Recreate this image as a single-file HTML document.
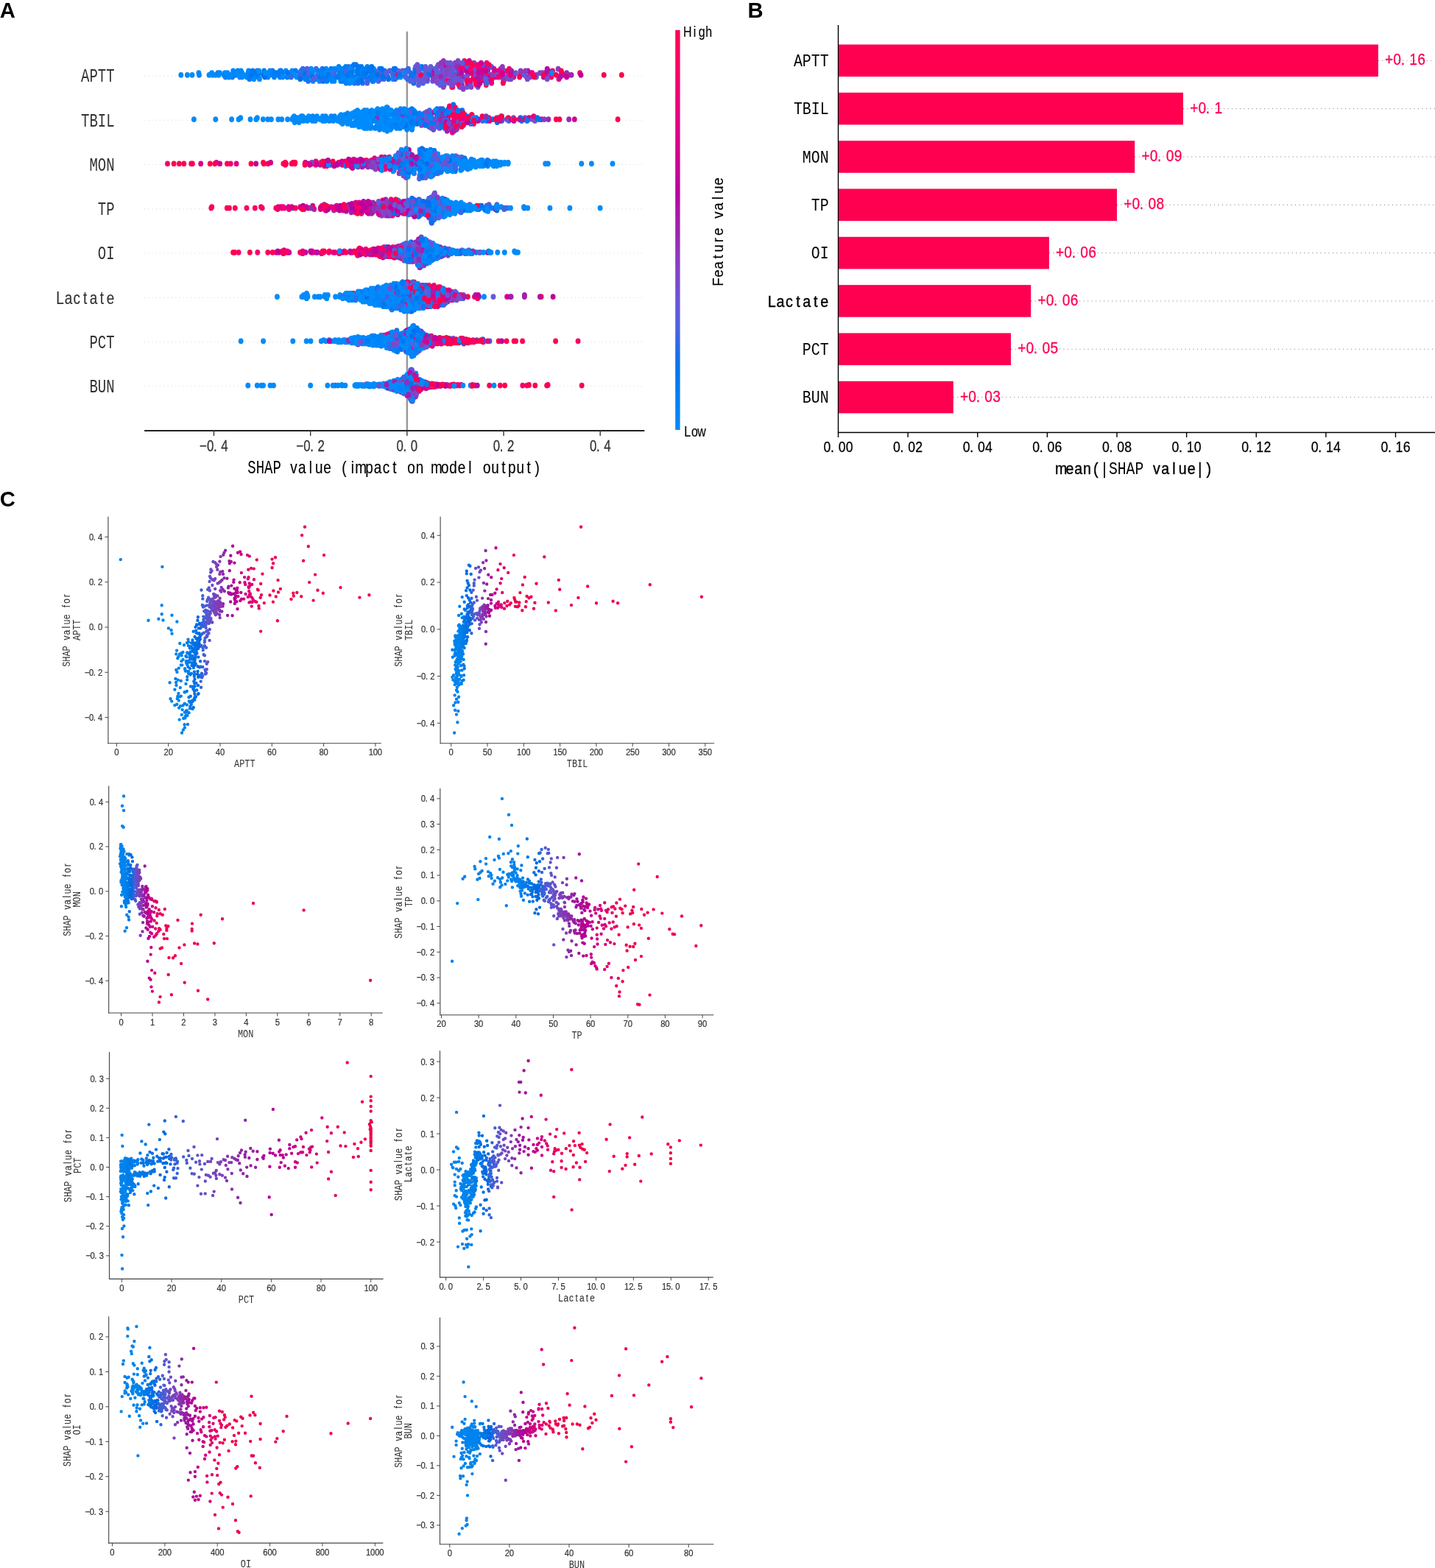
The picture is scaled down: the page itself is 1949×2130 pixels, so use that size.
<!DOCTYPE html>
<html lang="en"><head><meta charset="utf-8"><title>SHAP summary, importance and dependence plots</title>
<style>
html,body{margin:0;padding:0;background:#fff}
svg{display:block}
text{font-family:"Liberation Mono","Liberation Sans",monospace}
text.n{font-family:"Liberation Sans",Arial,sans-serif;text-anchor:middle}
text.pl{font-family:"Liberation Sans",Arial,sans-serif;font-weight:bold;font-size:29.2px;fill:#000}
path{stroke-linecap:butt}
.d path{stroke-linecap:round;fill:none}
</style></head><body>
<svg width="1949" height="2130" viewBox="0 0 1949 2130">
<rect width="1949" height="2130" fill="#fff"/>
<text class="pl" x="-0.3" y="24.2">A</text>
<text class="pl" x="1015.6" y="24.2">B</text>
<path d="M196.10 103.00L875.40 103.00" stroke="#cccccc" stroke-width="0.95" fill="none" stroke-dasharray="0.88 4.39"/>
<g transform="translate(155.60 111.40)" fill="#333"><text transform="translate(-45.60 0) scale(0.7420 1)" font-size="25.61">APTT</text></g>
<path d="M196.10 163.25L875.40 163.25" stroke="#cccccc" stroke-width="0.95" fill="none" stroke-dasharray="0.88 4.39"/>
<g transform="translate(155.60 171.65)" fill="#333"><text transform="translate(-45.60 0) scale(0.7420 1)" font-size="25.61">TBIL</text></g>
<path d="M196.10 223.50L875.40 223.50" stroke="#cccccc" stroke-width="0.95" fill="none" stroke-dasharray="0.88 4.39"/>
<g transform="translate(155.60 231.90)" fill="#333"><text transform="translate(-34.20 0) scale(0.7420 1)" font-size="25.61">MON</text></g>
<path d="M196.10 283.75L875.40 283.75" stroke="#cccccc" stroke-width="0.95" fill="none" stroke-dasharray="0.88 4.39"/>
<g transform="translate(155.60 292.15)" fill="#333"><text transform="translate(-22.80 0) scale(0.7420 1)" font-size="25.61">TP</text></g>
<path d="M196.10 344.00L875.40 344.00" stroke="#cccccc" stroke-width="0.95" fill="none" stroke-dasharray="0.88 4.39"/>
<g transform="translate(155.60 352.40)" fill="#333"><text transform="translate(-22.80 0) scale(0.7420 1)" font-size="25.61">OI</text></g>
<path d="M196.10 404.25L875.40 404.25" stroke="#cccccc" stroke-width="0.95" fill="none" stroke-dasharray="0.88 4.39"/>
<g transform="translate(155.60 412.65)" fill="#333"><text class="n" transform="scale(0.8000 1)" font-size="23.60" x="-92.63 -78.38 -64.13 -49.88 -35.63 -21.38 -7.13" stroke="#333" stroke-width="0.19">Lactate</text></g>
<path d="M196.10 464.50L875.40 464.50" stroke="#cccccc" stroke-width="0.95" fill="none" stroke-dasharray="0.88 4.39"/>
<g transform="translate(155.60 472.90)" fill="#333"><text transform="translate(-34.20 0) scale(0.7420 1)" font-size="25.61">PCT</text></g>
<path d="M196.10 524.75L875.40 524.75" stroke="#cccccc" stroke-width="0.95" fill="none" stroke-dasharray="0.88 4.39"/>
<g transform="translate(155.60 533.15)" fill="#333"><text transform="translate(-34.20 0) scale(0.7420 1)" font-size="25.61">BUN</text></g>
<path d="M552.85 42.80L552.85 585.10" stroke="#999999" stroke-width="2.50" fill="none"/>
<path d="M196.10 585.10L875.40 585.10" stroke="#000" stroke-width="1.60" fill="none"/>
<path d="M290.49 585.10L290.49 592.10" stroke="#333" stroke-width="1.40" fill="none"/>
<text class="n" transform="translate(290.49 613.30) scale(0.7849 1)" font-size="21.45" x="-18.44 -6.15 2.46 18.44" fill="#333" stroke="#333" stroke-width="0.30">−0.4</text>
<path d="M421.67 585.10L421.67 592.10" stroke="#333" stroke-width="1.40" fill="none"/>
<text class="n" transform="translate(421.67 613.30) scale(0.7849 1)" font-size="21.45" x="-18.44 -6.15 2.46 18.44" fill="#333" stroke="#333" stroke-width="0.30">−0.2</text>
<path d="M552.85 585.10L552.85 592.10" stroke="#333" stroke-width="1.40" fill="none"/>
<text class="n" transform="translate(552.85 613.30) scale(0.7849 1)" font-size="21.45" x="-12.29 -3.69 12.29" fill="#333" stroke="#333" stroke-width="0.30">0.0</text>
<path d="M684.03 585.10L684.03 592.10" stroke="#333" stroke-width="1.40" fill="none"/>
<text class="n" transform="translate(684.03 613.30) scale(0.7849 1)" font-size="21.45" x="-12.29 -3.69 12.29" fill="#333" stroke="#333" stroke-width="0.30">0.2</text>
<path d="M815.21 585.10L815.21 592.10" stroke="#333" stroke-width="1.40" fill="none"/>
<text class="n" transform="translate(815.21 613.30) scale(0.7849 1)" font-size="21.45" x="-12.29 -3.69 12.29" fill="#333" stroke="#333" stroke-width="0.30">0.4</text>
<g transform="translate(535.75 643.20)" fill="#000"><text transform="translate(-199.50 0) scale(0.7420 1)" font-size="25.61">SHAP</text><text class="n" transform="scale(0.8000 1)" font-size="23.60" x="-171.01 -156.76 -142.51 -128.25 -114.00" stroke="#000" stroke-width="0.19">value</text><text class="n" transform="scale(0.8000 1)" font-size="23.60" x="-85.50 -71.25 -57.00 -42.75 -28.50 -14.25 0.00" stroke="#000" stroke-width="0.19">(impact</text><text class="n" transform="scale(0.8000 1)" font-size="23.60" x="28.50 42.75" stroke="#000" stroke-width="0.19">on</text><text class="n" transform="scale(0.8000 1)" font-size="23.60" x="71.25 85.50 99.75 114.00 128.25" stroke="#000" stroke-width="0.19">model</text><text class="n" transform="scale(0.8000 1)" font-size="23.60" x="156.76 171.01 185.26 199.51 213.76 228.01 242.26" stroke="#000" stroke-width="0.19">output)</text></g>
<defs><linearGradient id="cb" x1="0" y1="1" x2="0" y2="0"><stop offset="0.000" stop-color="#008bfb"/><stop offset="0.050" stop-color="#0084f9"/><stop offset="0.100" stop-color="#007cf5"/><stop offset="0.150" stop-color="#0075f0"/><stop offset="0.200" stop-color="#246cea"/><stop offset="0.250" stop-color="#4b63e3"/><stop offset="0.300" stop-color="#635adb"/><stop offset="0.350" stop-color="#754fd1"/><stop offset="0.400" stop-color="#8443c6"/><stop offset="0.450" stop-color="#9135ba"/><stop offset="0.500" stop-color="#9b24ad"/><stop offset="0.550" stop-color="#ac16a7"/><stop offset="0.600" stop-color="#bb00a0"/><stop offset="0.650" stop-color="#c90098"/><stop offset="0.700" stop-color="#d5008f"/><stop offset="0.750" stop-color="#e00086"/><stop offset="0.800" stop-color="#e9007c"/><stop offset="0.850" stop-color="#f20072"/><stop offset="0.900" stop-color="#f90067"/><stop offset="0.950" stop-color="#fe005c"/><stop offset="1.000" stop-color="#ff0051"/></linearGradient></defs>
<rect x="917.2" y="40.8" width="6.4" height="543.2" fill="url(#cb)"/>
<g transform="translate(929.00 49.70)" fill="#000"><text class="n" transform="scale(0.8059 1)" font-size="19.83" x="5.99 17.96 29.93 41.91" stroke="#000" stroke-width="0.16">High</text></g>
<g transform="translate(929.00 592.90)" fill="#000"><text class="n" transform="scale(0.8059 1)" font-size="19.83" x="5.99 17.96 29.93" stroke="#000" stroke-width="0.16">Low</text></g>
<g transform="translate(982.30 314.70) rotate(-90)" fill="#000"><text class="n" transform="scale(0.9364 1)" font-size="20.11" x="-72.85 -60.71 -48.57 -36.43 -24.28 -12.14 0.00" stroke="#000" stroke-width="0.16">Feature</text><text class="n" transform="scale(0.9364 1)" font-size="20.11" x="24.28 36.43 48.57 60.71 72.85" stroke="#000" stroke-width="0.16">value</text></g>
<path d="M1871.90 82.30L1949.00 82.30" stroke="#777" stroke-width="1.00" fill="none" stroke-dasharray="1.0 4.5"/>
<rect x="1139.1" y="60.5" width="732.8" height="43.6" fill="#ff0051"/>
<g transform="translate(1125.60 90.10)" fill="#000"><text transform="translate(-47.68 0) scale(0.8405 1)" font-size="23.64">APTT</text></g>
<text class="n" transform="translate(1881.20 88.40) scale(0.8828 1)" font-size="21.74" x="6.23 18.69 27.41 43.61 56.07" fill="#ff0051" stroke="#ff0051" stroke-width="0.30">+0.16</text>
<path d="M1607.00 147.63L1949.00 147.63" stroke="#777" stroke-width="1.00" fill="none" stroke-dasharray="1.0 4.5"/>
<rect x="1139.1" y="125.8" width="467.9" height="43.6" fill="#ff0051"/>
<g transform="translate(1125.60 155.43)" fill="#000"><text transform="translate(-47.68 0) scale(0.8405 1)" font-size="23.64">TBIL</text></g>
<text class="n" transform="translate(1616.30 153.73) scale(0.8828 1)" font-size="21.74" x="6.23 18.69 27.41 43.61" fill="#ff0051" stroke="#ff0051" stroke-width="0.30">+0.1</text>
<path d="M1541.20 212.96L1949.00 212.96" stroke="#777" stroke-width="1.00" fill="none" stroke-dasharray="1.0 4.5"/>
<rect x="1139.1" y="191.2" width="402.1" height="43.6" fill="#ff0051"/>
<g transform="translate(1125.60 220.76)" fill="#000"><text transform="translate(-35.76 0) scale(0.8405 1)" font-size="23.64">MON</text></g>
<text class="n" transform="translate(1550.50 219.06) scale(0.8828 1)" font-size="21.74" x="6.23 18.69 27.41 43.61 56.07" fill="#ff0051" stroke="#ff0051" stroke-width="0.30">+0.09</text>
<path d="M1517.00 278.29L1949.00 278.29" stroke="#777" stroke-width="1.00" fill="none" stroke-dasharray="1.0 4.5"/>
<rect x="1139.1" y="256.5" width="377.9" height="43.6" fill="#ff0051"/>
<g transform="translate(1125.60 286.09)" fill="#000"><text transform="translate(-23.84 0) scale(0.8405 1)" font-size="23.64">TP</text></g>
<text class="n" transform="translate(1526.30 284.39) scale(0.8828 1)" font-size="21.74" x="6.23 18.69 27.41 43.61 56.07" fill="#ff0051" stroke="#ff0051" stroke-width="0.30">+0.08</text>
<path d="M1424.90 343.62L1949.00 343.62" stroke="#777" stroke-width="1.00" fill="none" stroke-dasharray="1.0 4.5"/>
<rect x="1139.1" y="321.8" width="285.8" height="43.6" fill="#ff0051"/>
<g transform="translate(1125.60 351.42)" fill="#000"><text transform="translate(-23.84 0) scale(0.8405 1)" font-size="23.64">OI</text></g>
<text class="n" transform="translate(1434.20 349.72) scale(0.8828 1)" font-size="21.74" x="6.23 18.69 27.41 43.61 56.07" fill="#ff0051" stroke="#ff0051" stroke-width="0.30">+0.06</text>
<path d="M1400.20 408.95L1949.00 408.95" stroke="#777" stroke-width="1.00" fill="none" stroke-dasharray="1.0 4.5"/>
<rect x="1139.1" y="387.1" width="261.1" height="43.6" fill="#ff0051"/>
<g transform="translate(1125.60 416.75)" fill="#000"><text class="n" transform="scale(0.9062 1)" font-size="21.79" x="-85.50 -72.35 -59.19 -46.04 -32.89 -19.73 -6.58" stroke="#000" stroke-width="0.39">Lactate</text></g>
<text class="n" transform="translate(1409.50 415.05) scale(0.8828 1)" font-size="21.74" x="6.23 18.69 27.41 43.61 56.07" fill="#ff0051" stroke="#ff0051" stroke-width="0.30">+0.06</text>
<path d="M1373.00 474.28L1949.00 474.28" stroke="#777" stroke-width="1.00" fill="none" stroke-dasharray="1.0 4.5"/>
<rect x="1139.1" y="452.5" width="233.9" height="43.6" fill="#ff0051"/>
<g transform="translate(1125.60 482.08)" fill="#000"><text transform="translate(-35.76 0) scale(0.8405 1)" font-size="23.64">PCT</text></g>
<text class="n" transform="translate(1382.30 480.38) scale(0.8828 1)" font-size="21.74" x="6.23 18.69 27.41 43.61 56.07" fill="#ff0051" stroke="#ff0051" stroke-width="0.30">+0.05</text>
<path d="M1294.80 539.61L1949.00 539.61" stroke="#777" stroke-width="1.00" fill="none" stroke-dasharray="1.0 4.5"/>
<rect x="1139.1" y="517.8" width="155.7" height="43.6" fill="#ff0051"/>
<g transform="translate(1125.60 547.41)" fill="#000"><text transform="translate(-35.76 0) scale(0.8405 1)" font-size="23.64">BUN</text></g>
<text class="n" transform="translate(1304.10 545.71) scale(0.8828 1)" font-size="21.74" x="6.23 18.69 27.41 43.61 56.07" fill="#ff0051" stroke="#ff0051" stroke-width="0.30">+0.03</text>
<path d="M1138.50 34.10L1138.50 587.60" stroke="#000" stroke-width="1.40" fill="none"/>
<path d="M1137.80 587.60L1949.00 587.60" stroke="#000" stroke-width="1.50" fill="none"/>
<path d="M1138.50 587.60L1138.50 594.10" stroke="#000" stroke-width="1.40" fill="none"/>
<text class="n" transform="translate(1138.50 614.00) scale(0.8866 1)" font-size="19.86" x="-17.07 -9.10 5.69 17.07" fill="#000" stroke="#000" stroke-width="0.30">0.00</text>
<path d="M1233.12 587.60L1233.12 594.10" stroke="#000" stroke-width="1.40" fill="none"/>
<text class="n" transform="translate(1233.12 614.00) scale(0.8866 1)" font-size="19.86" x="-17.07 -9.10 5.69 17.07" fill="#000" stroke="#000" stroke-width="0.30">0.02</text>
<path d="M1327.74 587.60L1327.74 594.10" stroke="#000" stroke-width="1.40" fill="none"/>
<text class="n" transform="translate(1327.74 614.00) scale(0.8866 1)" font-size="19.86" x="-17.07 -9.10 5.69 17.07" fill="#000" stroke="#000" stroke-width="0.30">0.04</text>
<path d="M1422.36 587.60L1422.36 594.10" stroke="#000" stroke-width="1.40" fill="none"/>
<text class="n" transform="translate(1422.36 614.00) scale(0.8866 1)" font-size="19.86" x="-17.07 -9.10 5.69 17.07" fill="#000" stroke="#000" stroke-width="0.30">0.06</text>
<path d="M1516.98 587.60L1516.98 594.10" stroke="#000" stroke-width="1.40" fill="none"/>
<text class="n" transform="translate(1516.98 614.00) scale(0.8866 1)" font-size="19.86" x="-17.07 -9.10 5.69 17.07" fill="#000" stroke="#000" stroke-width="0.30">0.08</text>
<path d="M1611.60 587.60L1611.60 594.10" stroke="#000" stroke-width="1.40" fill="none"/>
<text class="n" transform="translate(1611.60 614.00) scale(0.8866 1)" font-size="19.86" x="-17.07 -9.10 5.69 17.07" fill="#000" stroke="#000" stroke-width="0.30">0.10</text>
<path d="M1706.22 587.60L1706.22 594.10" stroke="#000" stroke-width="1.40" fill="none"/>
<text class="n" transform="translate(1706.22 614.00) scale(0.8866 1)" font-size="19.86" x="-17.07 -9.10 5.69 17.07" fill="#000" stroke="#000" stroke-width="0.30">0.12</text>
<path d="M1800.84 587.60L1800.84 594.10" stroke="#000" stroke-width="1.40" fill="none"/>
<text class="n" transform="translate(1800.84 614.00) scale(0.8866 1)" font-size="19.86" x="-17.07 -9.10 5.69 17.07" fill="#000" stroke="#000" stroke-width="0.30">0.14</text>
<path d="M1895.46 587.60L1895.46 594.10" stroke="#000" stroke-width="1.40" fill="none"/>
<text class="n" transform="translate(1895.46 614.00) scale(0.8866 1)" font-size="19.86" x="-17.07 -9.10 5.69 17.07" fill="#000" stroke="#000" stroke-width="0.30">0.16</text>
<g transform="translate(1541.40 643.60)" fill="#000"><text class="n" transform="scale(0.8970 1)" font-size="21.79" x="-111.81 -98.66 -85.50 -72.35 -59.19 -46.04" stroke="#000" stroke-width="0.39">mean(|</text><text transform="translate(-35.40 0) scale(0.8321 1)" font-size="23.64">SHAP</text><text class="n" transform="scale(0.8970 1)" font-size="21.79" x="32.89 46.04 59.19 72.35 85.50 98.66 111.81" stroke="#000" stroke-width="0.39">value|)</text></g>
<text class="pl" x="-0.3" y="688.0">C</text>
<path d="M146.90 701.80L146.90 1010.25" stroke="#444" stroke-width="1.10" fill="none"/>
<path d="M146.35 1009.70L517.80 1009.70" stroke="#444" stroke-width="1.10" fill="none"/>
<path d="M158.40 1009.70L158.40 1014.10" stroke="#333" stroke-width="0.90" fill="none"/>
<text class="n" transform="translate(158.40 1026.20) scale(0.9059 1)" font-size="12.46" x="0.00" fill="#333" stroke="#333" stroke-width="0.20">0</text>
<path d="M228.70 1009.70L228.70 1014.10" stroke="#333" stroke-width="0.90" fill="none"/>
<text class="n" transform="translate(228.70 1026.20) scale(0.9059 1)" font-size="12.46" x="-3.37 3.37" fill="#333" stroke="#333" stroke-width="0.20">20</text>
<path d="M299.00 1009.70L299.00 1014.10" stroke="#333" stroke-width="0.90" fill="none"/>
<text class="n" transform="translate(299.00 1026.20) scale(0.9059 1)" font-size="12.46" x="-3.37 3.37" fill="#333" stroke="#333" stroke-width="0.20">40</text>
<path d="M369.30 1009.70L369.30 1014.10" stroke="#333" stroke-width="0.90" fill="none"/>
<text class="n" transform="translate(369.30 1026.20) scale(0.9059 1)" font-size="12.46" x="-3.37 3.37" fill="#333" stroke="#333" stroke-width="0.20">60</text>
<path d="M439.60 1009.70L439.60 1014.10" stroke="#333" stroke-width="0.90" fill="none"/>
<text class="n" transform="translate(439.60 1026.20) scale(0.9059 1)" font-size="12.46" x="-3.37 3.37" fill="#333" stroke="#333" stroke-width="0.20">80</text>
<path d="M509.90 1009.70L509.90 1014.10" stroke="#333" stroke-width="0.90" fill="none"/>
<text class="n" transform="translate(509.90 1026.20) scale(0.9059 1)" font-size="12.46" x="-6.73 0.00 6.73" fill="#333" stroke="#333" stroke-width="0.20">100</text>
<path d="M142.50 974.60L146.90 974.60" stroke="#333" stroke-width="0.90" fill="none"/>
<text class="n" transform="translate(139.30 979.00) scale(0.9059 1)" font-size="12.46" x="-23.57 -16.83 -12.12 -3.37" fill="#333" stroke="#333" stroke-width="0.20">−0.4</text>
<path d="M142.50 913.30L146.90 913.30" stroke="#333" stroke-width="0.90" fill="none"/>
<text class="n" transform="translate(139.30 917.70) scale(0.9059 1)" font-size="12.46" x="-23.57 -16.83 -12.12 -3.37" fill="#333" stroke="#333" stroke-width="0.20">−0.2</text>
<path d="M142.50 852.00L146.90 852.00" stroke="#333" stroke-width="0.90" fill="none"/>
<text class="n" transform="translate(139.30 856.40) scale(0.9059 1)" font-size="12.46" x="-16.83 -12.12 -3.37" fill="#333" stroke="#333" stroke-width="0.20">0.0</text>
<path d="M142.50 790.70L146.90 790.70" stroke="#333" stroke-width="0.90" fill="none"/>
<text class="n" transform="translate(139.30 795.10) scale(0.9059 1)" font-size="12.46" x="-16.83 -12.12 -3.37" fill="#333" stroke="#333" stroke-width="0.20">0.2</text>
<path d="M142.50 729.40L146.90 729.40" stroke="#333" stroke-width="0.90" fill="none"/>
<text class="n" transform="translate(139.30 733.80) scale(0.9059 1)" font-size="12.46" x="-16.83 -12.12 -3.37" fill="#333" stroke="#333" stroke-width="0.20">0.4</text>
<g transform="translate(332.35 1042.20)" fill="#333"><text transform="translate(-14.30 0) scale(0.7865 1)" font-size="15.15">APTT</text></g>
<g transform="translate(94.90 855.75) rotate(-90)" fill="#333"><text transform="translate(-50.05 0) scale(0.7865 1)" font-size="15.15">SHAP</text><text class="n" transform="scale(0.8479 1)" font-size="13.97" x="-12.65 -4.22 4.22 12.65 21.08" stroke="#333" stroke-width="0.11">value</text><text class="n" transform="scale(0.8479 1)" font-size="13.97" x="37.95 46.38 54.81" stroke="#333" stroke-width="0.11">for</text></g>
<g transform="translate(108.60 855.75) rotate(-90)" fill="#333"><text transform="translate(-14.30 0) scale(0.7865 1)" font-size="15.15">APTT</text></g>
<path d="M598.10 701.80L598.10 1010.25" stroke="#444" stroke-width="1.10" fill="none"/>
<path d="M597.55 1009.70L970.10 1009.70" stroke="#444" stroke-width="1.10" fill="none"/>
<path d="M612.70 1009.70L612.70 1014.10" stroke="#333" stroke-width="0.90" fill="none"/>
<text class="n" transform="translate(612.70 1026.20) scale(0.9059 1)" font-size="12.46" x="0.00" fill="#333" stroke="#333" stroke-width="0.20">0</text>
<path d="M662.00 1009.70L662.00 1014.10" stroke="#333" stroke-width="0.90" fill="none"/>
<text class="n" transform="translate(662.00 1026.20) scale(0.9059 1)" font-size="12.46" x="-3.37 3.37" fill="#333" stroke="#333" stroke-width="0.20">50</text>
<path d="M711.30 1009.70L711.30 1014.10" stroke="#333" stroke-width="0.90" fill="none"/>
<text class="n" transform="translate(711.30 1026.20) scale(0.9059 1)" font-size="12.46" x="-6.73 0.00 6.73" fill="#333" stroke="#333" stroke-width="0.20">100</text>
<path d="M760.60 1009.70L760.60 1014.10" stroke="#333" stroke-width="0.90" fill="none"/>
<text class="n" transform="translate(760.60 1026.20) scale(0.9059 1)" font-size="12.46" x="-6.73 0.00 6.73" fill="#333" stroke="#333" stroke-width="0.20">150</text>
<path d="M809.90 1009.70L809.90 1014.10" stroke="#333" stroke-width="0.90" fill="none"/>
<text class="n" transform="translate(809.90 1026.20) scale(0.9059 1)" font-size="12.46" x="-6.73 0.00 6.73" fill="#333" stroke="#333" stroke-width="0.20">200</text>
<path d="M859.20 1009.70L859.20 1014.10" stroke="#333" stroke-width="0.90" fill="none"/>
<text class="n" transform="translate(859.20 1026.20) scale(0.9059 1)" font-size="12.46" x="-6.73 0.00 6.73" fill="#333" stroke="#333" stroke-width="0.20">250</text>
<path d="M908.50 1009.70L908.50 1014.10" stroke="#333" stroke-width="0.90" fill="none"/>
<text class="n" transform="translate(908.50 1026.20) scale(0.9059 1)" font-size="12.46" x="-6.73 0.00 6.73" fill="#333" stroke="#333" stroke-width="0.20">300</text>
<path d="M957.80 1009.70L957.80 1014.10" stroke="#333" stroke-width="0.90" fill="none"/>
<text class="n" transform="translate(957.80 1026.20) scale(0.9059 1)" font-size="12.46" x="-6.73 0.00 6.73" fill="#333" stroke="#333" stroke-width="0.20">350</text>
<path d="M593.70 982.30L598.10 982.30" stroke="#333" stroke-width="0.90" fill="none"/>
<text class="n" transform="translate(590.50 986.70) scale(0.9059 1)" font-size="12.46" x="-23.57 -16.83 -12.12 -3.37" fill="#333" stroke="#333" stroke-width="0.20">−0.4</text>
<path d="M593.70 918.55L598.10 918.55" stroke="#333" stroke-width="0.90" fill="none"/>
<text class="n" transform="translate(590.50 922.95) scale(0.9059 1)" font-size="12.46" x="-23.57 -16.83 -12.12 -3.37" fill="#333" stroke="#333" stroke-width="0.20">−0.2</text>
<path d="M593.70 854.80L598.10 854.80" stroke="#333" stroke-width="0.90" fill="none"/>
<text class="n" transform="translate(590.50 859.20) scale(0.9059 1)" font-size="12.46" x="-16.83 -12.12 -3.37" fill="#333" stroke="#333" stroke-width="0.20">0.0</text>
<path d="M593.70 791.05L598.10 791.05" stroke="#333" stroke-width="0.90" fill="none"/>
<text class="n" transform="translate(590.50 795.45) scale(0.9059 1)" font-size="12.46" x="-16.83 -12.12 -3.37" fill="#333" stroke="#333" stroke-width="0.20">0.2</text>
<path d="M593.70 727.30L598.10 727.30" stroke="#333" stroke-width="0.90" fill="none"/>
<text class="n" transform="translate(590.50 731.70) scale(0.9059 1)" font-size="12.46" x="-16.83 -12.12 -3.37" fill="#333" stroke="#333" stroke-width="0.20">0.4</text>
<g transform="translate(784.10 1042.20)" fill="#333"><text transform="translate(-14.30 0) scale(0.7865 1)" font-size="15.15">TBIL</text></g>
<g transform="translate(546.10 855.75) rotate(-90)" fill="#333"><text transform="translate(-50.05 0) scale(0.7865 1)" font-size="15.15">SHAP</text><text class="n" transform="scale(0.8479 1)" font-size="13.97" x="-12.65 -4.22 4.22 12.65 21.08" stroke="#333" stroke-width="0.11">value</text><text class="n" transform="scale(0.8479 1)" font-size="13.97" x="37.95 46.38 54.81" stroke="#333" stroke-width="0.11">for</text></g>
<g transform="translate(559.80 855.75) rotate(-90)" fill="#333"><text transform="translate(-14.30 0) scale(0.7865 1)" font-size="15.15">TBIL</text></g>
<path d="M147.70 1067.60L147.70 1376.55" stroke="#444" stroke-width="1.10" fill="none"/>
<path d="M147.15 1376.00L519.70 1376.00" stroke="#444" stroke-width="1.10" fill="none"/>
<path d="M164.60 1376.00L164.60 1380.40" stroke="#333" stroke-width="0.90" fill="none"/>
<text class="n" transform="translate(164.60 1392.50) scale(0.9059 1)" font-size="12.46" x="0.00" fill="#333" stroke="#333" stroke-width="0.20">0</text>
<path d="M207.05 1376.00L207.05 1380.40" stroke="#333" stroke-width="0.90" fill="none"/>
<text class="n" transform="translate(207.05 1392.50) scale(0.9059 1)" font-size="12.46" x="0.00" fill="#333" stroke="#333" stroke-width="0.20">1</text>
<path d="M249.50 1376.00L249.50 1380.40" stroke="#333" stroke-width="0.90" fill="none"/>
<text class="n" transform="translate(249.50 1392.50) scale(0.9059 1)" font-size="12.46" x="0.00" fill="#333" stroke="#333" stroke-width="0.20">2</text>
<path d="M291.95 1376.00L291.95 1380.40" stroke="#333" stroke-width="0.90" fill="none"/>
<text class="n" transform="translate(291.95 1392.50) scale(0.9059 1)" font-size="12.46" x="0.00" fill="#333" stroke="#333" stroke-width="0.20">3</text>
<path d="M334.40 1376.00L334.40 1380.40" stroke="#333" stroke-width="0.90" fill="none"/>
<text class="n" transform="translate(334.40 1392.50) scale(0.9059 1)" font-size="12.46" x="0.00" fill="#333" stroke="#333" stroke-width="0.20">4</text>
<path d="M376.85 1376.00L376.85 1380.40" stroke="#333" stroke-width="0.90" fill="none"/>
<text class="n" transform="translate(376.85 1392.50) scale(0.9059 1)" font-size="12.46" x="0.00" fill="#333" stroke="#333" stroke-width="0.20">5</text>
<path d="M419.30 1376.00L419.30 1380.40" stroke="#333" stroke-width="0.90" fill="none"/>
<text class="n" transform="translate(419.30 1392.50) scale(0.9059 1)" font-size="12.46" x="0.00" fill="#333" stroke="#333" stroke-width="0.20">6</text>
<path d="M461.75 1376.00L461.75 1380.40" stroke="#333" stroke-width="0.90" fill="none"/>
<text class="n" transform="translate(461.75 1392.50) scale(0.9059 1)" font-size="12.46" x="0.00" fill="#333" stroke="#333" stroke-width="0.20">7</text>
<path d="M504.20 1376.00L504.20 1380.40" stroke="#333" stroke-width="0.90" fill="none"/>
<text class="n" transform="translate(504.20 1392.50) scale(0.9059 1)" font-size="12.46" x="0.00" fill="#333" stroke="#333" stroke-width="0.20">8</text>
<path d="M143.30 1332.30L147.70 1332.30" stroke="#333" stroke-width="0.90" fill="none"/>
<text class="n" transform="translate(140.10 1336.70) scale(0.9059 1)" font-size="12.46" x="-23.57 -16.83 -12.12 -3.37" fill="#333" stroke="#333" stroke-width="0.20">−0.4</text>
<path d="M143.30 1271.55L147.70 1271.55" stroke="#333" stroke-width="0.90" fill="none"/>
<text class="n" transform="translate(140.10 1275.95) scale(0.9059 1)" font-size="12.46" x="-23.57 -16.83 -12.12 -3.37" fill="#333" stroke="#333" stroke-width="0.20">−0.2</text>
<path d="M143.30 1210.80L147.70 1210.80" stroke="#333" stroke-width="0.90" fill="none"/>
<text class="n" transform="translate(140.10 1215.20) scale(0.9059 1)" font-size="12.46" x="-16.83 -12.12 -3.37" fill="#333" stroke="#333" stroke-width="0.20">0.0</text>
<path d="M143.30 1150.05L147.70 1150.05" stroke="#333" stroke-width="0.90" fill="none"/>
<text class="n" transform="translate(140.10 1154.45) scale(0.9059 1)" font-size="12.46" x="-16.83 -12.12 -3.37" fill="#333" stroke="#333" stroke-width="0.20">0.2</text>
<path d="M143.30 1089.30L147.70 1089.30" stroke="#333" stroke-width="0.90" fill="none"/>
<text class="n" transform="translate(140.10 1093.70) scale(0.9059 1)" font-size="12.46" x="-16.83 -12.12 -3.37" fill="#333" stroke="#333" stroke-width="0.20">0.4</text>
<g transform="translate(333.70 1408.50)" fill="#333"><text transform="translate(-10.73 0) scale(0.7865 1)" font-size="15.15">MON</text></g>
<g transform="translate(95.70 1221.80) rotate(-90)" fill="#333"><text transform="translate(-50.05 0) scale(0.7865 1)" font-size="15.15">SHAP</text><text class="n" transform="scale(0.8479 1)" font-size="13.97" x="-12.65 -4.22 4.22 12.65 21.08" stroke="#333" stroke-width="0.11">value</text><text class="n" transform="scale(0.8479 1)" font-size="13.97" x="37.95 46.38 54.81" stroke="#333" stroke-width="0.11">for</text></g>
<g transform="translate(109.40 1221.80) rotate(-90)" fill="#333"><text transform="translate(-10.73 0) scale(0.7865 1)" font-size="15.15">MON</text></g>
<path d="M597.80 1071.00L597.80 1379.35" stroke="#444" stroke-width="1.10" fill="none"/>
<path d="M597.25 1378.80L969.30 1378.80" stroke="#444" stroke-width="1.10" fill="none"/>
<path d="M599.50 1378.80L599.50 1383.20" stroke="#333" stroke-width="0.90" fill="none"/>
<text class="n" transform="translate(599.50 1395.30) scale(0.9059 1)" font-size="12.46" x="-3.37 3.37" fill="#333" stroke="#333" stroke-width="0.20">20</text>
<path d="M650.15 1378.80L650.15 1383.20" stroke="#333" stroke-width="0.90" fill="none"/>
<text class="n" transform="translate(650.15 1395.30) scale(0.9059 1)" font-size="12.46" x="-3.37 3.37" fill="#333" stroke="#333" stroke-width="0.20">30</text>
<path d="M700.80 1378.80L700.80 1383.20" stroke="#333" stroke-width="0.90" fill="none"/>
<text class="n" transform="translate(700.80 1395.30) scale(0.9059 1)" font-size="12.46" x="-3.37 3.37" fill="#333" stroke="#333" stroke-width="0.20">40</text>
<path d="M751.45 1378.80L751.45 1383.20" stroke="#333" stroke-width="0.90" fill="none"/>
<text class="n" transform="translate(751.45 1395.30) scale(0.9059 1)" font-size="12.46" x="-3.37 3.37" fill="#333" stroke="#333" stroke-width="0.20">50</text>
<path d="M802.10 1378.80L802.10 1383.20" stroke="#333" stroke-width="0.90" fill="none"/>
<text class="n" transform="translate(802.10 1395.30) scale(0.9059 1)" font-size="12.46" x="-3.37 3.37" fill="#333" stroke="#333" stroke-width="0.20">60</text>
<path d="M852.75 1378.80L852.75 1383.20" stroke="#333" stroke-width="0.90" fill="none"/>
<text class="n" transform="translate(852.75 1395.30) scale(0.9059 1)" font-size="12.46" x="-3.37 3.37" fill="#333" stroke="#333" stroke-width="0.20">70</text>
<path d="M903.40 1378.80L903.40 1383.20" stroke="#333" stroke-width="0.90" fill="none"/>
<text class="n" transform="translate(903.40 1395.30) scale(0.9059 1)" font-size="12.46" x="-3.37 3.37" fill="#333" stroke="#333" stroke-width="0.20">80</text>
<path d="M954.05 1378.80L954.05 1383.20" stroke="#333" stroke-width="0.90" fill="none"/>
<text class="n" transform="translate(954.05 1395.30) scale(0.9059 1)" font-size="12.46" x="-3.37 3.37" fill="#333" stroke="#333" stroke-width="0.20">90</text>
<path d="M593.40 1362.76L597.80 1362.76" stroke="#333" stroke-width="0.90" fill="none"/>
<text class="n" transform="translate(590.20 1367.16) scale(0.9059 1)" font-size="12.46" x="-23.57 -16.83 -12.12 -3.37" fill="#333" stroke="#333" stroke-width="0.20">−0.4</text>
<path d="M593.40 1328.02L597.80 1328.02" stroke="#333" stroke-width="0.90" fill="none"/>
<text class="n" transform="translate(590.20 1332.42) scale(0.9059 1)" font-size="12.46" x="-23.57 -16.83 -12.12 -3.37" fill="#333" stroke="#333" stroke-width="0.20">−0.3</text>
<path d="M593.40 1293.28L597.80 1293.28" stroke="#333" stroke-width="0.90" fill="none"/>
<text class="n" transform="translate(590.20 1297.68) scale(0.9059 1)" font-size="12.46" x="-23.57 -16.83 -12.12 -3.37" fill="#333" stroke="#333" stroke-width="0.20">−0.2</text>
<path d="M593.40 1258.54L597.80 1258.54" stroke="#333" stroke-width="0.90" fill="none"/>
<text class="n" transform="translate(590.20 1262.94) scale(0.9059 1)" font-size="12.46" x="-23.57 -16.83 -12.12 -3.37" fill="#333" stroke="#333" stroke-width="0.20">−0.1</text>
<path d="M593.40 1223.80L597.80 1223.80" stroke="#333" stroke-width="0.90" fill="none"/>
<text class="n" transform="translate(590.20 1228.20) scale(0.9059 1)" font-size="12.46" x="-16.83 -12.12 -3.37" fill="#333" stroke="#333" stroke-width="0.20">0.0</text>
<path d="M593.40 1189.06L597.80 1189.06" stroke="#333" stroke-width="0.90" fill="none"/>
<text class="n" transform="translate(590.20 1193.46) scale(0.9059 1)" font-size="12.46" x="-16.83 -12.12 -3.37" fill="#333" stroke="#333" stroke-width="0.20">0.1</text>
<path d="M593.40 1154.32L597.80 1154.32" stroke="#333" stroke-width="0.90" fill="none"/>
<text class="n" transform="translate(590.20 1158.72) scale(0.9059 1)" font-size="12.46" x="-16.83 -12.12 -3.37" fill="#333" stroke="#333" stroke-width="0.20">0.2</text>
<path d="M593.40 1119.58L597.80 1119.58" stroke="#333" stroke-width="0.90" fill="none"/>
<text class="n" transform="translate(590.20 1123.98) scale(0.9059 1)" font-size="12.46" x="-16.83 -12.12 -3.37" fill="#333" stroke="#333" stroke-width="0.20">0.3</text>
<path d="M593.40 1084.84L597.80 1084.84" stroke="#333" stroke-width="0.90" fill="none"/>
<text class="n" transform="translate(590.20 1089.24) scale(0.9059 1)" font-size="12.46" x="-16.83 -12.12 -3.37" fill="#333" stroke="#333" stroke-width="0.20">0.4</text>
<g transform="translate(783.55 1411.30)" fill="#333"><text transform="translate(-7.15 0) scale(0.7865 1)" font-size="15.15">TP</text></g>
<g transform="translate(545.80 1224.90) rotate(-90)" fill="#333"><text transform="translate(-50.05 0) scale(0.7865 1)" font-size="15.15">SHAP</text><text class="n" transform="scale(0.8479 1)" font-size="13.97" x="-12.65 -4.22 4.22 12.65 21.08" stroke="#333" stroke-width="0.11">value</text><text class="n" transform="scale(0.8479 1)" font-size="13.97" x="37.95 46.38 54.81" stroke="#333" stroke-width="0.11">for</text></g>
<g transform="translate(559.50 1224.90) rotate(-90)" fill="#333"><text transform="translate(-7.15 0) scale(0.7865 1)" font-size="15.15">TP</text></g>
<path d="M148.50 1429.00L148.50 1737.95" stroke="#444" stroke-width="1.10" fill="none"/>
<path d="M147.95 1737.40L520.60 1737.40" stroke="#444" stroke-width="1.10" fill="none"/>
<path d="M165.40 1737.40L165.40 1741.80" stroke="#333" stroke-width="0.90" fill="none"/>
<text class="n" transform="translate(165.40 1753.90) scale(0.9059 1)" font-size="12.46" x="0.00" fill="#333" stroke="#333" stroke-width="0.20">0</text>
<path d="M233.06 1737.40L233.06 1741.80" stroke="#333" stroke-width="0.90" fill="none"/>
<text class="n" transform="translate(233.06 1753.90) scale(0.9059 1)" font-size="12.46" x="-3.37 3.37" fill="#333" stroke="#333" stroke-width="0.20">20</text>
<path d="M300.72 1737.40L300.72 1741.80" stroke="#333" stroke-width="0.90" fill="none"/>
<text class="n" transform="translate(300.72 1753.90) scale(0.9059 1)" font-size="12.46" x="-3.37 3.37" fill="#333" stroke="#333" stroke-width="0.20">40</text>
<path d="M368.38 1737.40L368.38 1741.80" stroke="#333" stroke-width="0.90" fill="none"/>
<text class="n" transform="translate(368.38 1753.90) scale(0.9059 1)" font-size="12.46" x="-3.37 3.37" fill="#333" stroke="#333" stroke-width="0.20">60</text>
<path d="M436.04 1737.40L436.04 1741.80" stroke="#333" stroke-width="0.90" fill="none"/>
<text class="n" transform="translate(436.04 1753.90) scale(0.9059 1)" font-size="12.46" x="-3.37 3.37" fill="#333" stroke="#333" stroke-width="0.20">80</text>
<path d="M503.70 1737.40L503.70 1741.80" stroke="#333" stroke-width="0.90" fill="none"/>
<text class="n" transform="translate(503.70 1753.90) scale(0.9059 1)" font-size="12.46" x="-6.73 0.00 6.73" fill="#333" stroke="#333" stroke-width="0.20">100</text>
<path d="M144.10 1705.80L148.50 1705.80" stroke="#333" stroke-width="0.90" fill="none"/>
<text class="n" transform="translate(140.90 1710.20) scale(0.9059 1)" font-size="12.46" x="-23.57 -16.83 -12.12 -3.37" fill="#333" stroke="#333" stroke-width="0.20">−0.3</text>
<path d="M144.10 1665.70L148.50 1665.70" stroke="#333" stroke-width="0.90" fill="none"/>
<text class="n" transform="translate(140.90 1670.10) scale(0.9059 1)" font-size="12.46" x="-23.57 -16.83 -12.12 -3.37" fill="#333" stroke="#333" stroke-width="0.20">−0.2</text>
<path d="M144.10 1625.60L148.50 1625.60" stroke="#333" stroke-width="0.90" fill="none"/>
<text class="n" transform="translate(140.90 1630.00) scale(0.9059 1)" font-size="12.46" x="-23.57 -16.83 -12.12 -3.37" fill="#333" stroke="#333" stroke-width="0.20">−0.1</text>
<path d="M144.10 1585.50L148.50 1585.50" stroke="#333" stroke-width="0.90" fill="none"/>
<text class="n" transform="translate(140.90 1589.90) scale(0.9059 1)" font-size="12.46" x="-16.83 -12.12 -3.37" fill="#333" stroke="#333" stroke-width="0.20">0.0</text>
<path d="M144.10 1545.40L148.50 1545.40" stroke="#333" stroke-width="0.90" fill="none"/>
<text class="n" transform="translate(140.90 1549.80) scale(0.9059 1)" font-size="12.46" x="-16.83 -12.12 -3.37" fill="#333" stroke="#333" stroke-width="0.20">0.1</text>
<path d="M144.10 1505.30L148.50 1505.30" stroke="#333" stroke-width="0.90" fill="none"/>
<text class="n" transform="translate(140.90 1509.70) scale(0.9059 1)" font-size="12.46" x="-16.83 -12.12 -3.37" fill="#333" stroke="#333" stroke-width="0.20">0.2</text>
<path d="M144.10 1465.20L148.50 1465.20" stroke="#333" stroke-width="0.90" fill="none"/>
<text class="n" transform="translate(140.90 1469.60) scale(0.9059 1)" font-size="12.46" x="-16.83 -12.12 -3.37" fill="#333" stroke="#333" stroke-width="0.20">0.3</text>
<g transform="translate(334.55 1769.90)" fill="#333"><text transform="translate(-10.73 0) scale(0.7865 1)" font-size="15.15">PCT</text></g>
<g transform="translate(96.50 1583.20) rotate(-90)" fill="#333"><text transform="translate(-50.05 0) scale(0.7865 1)" font-size="15.15">SHAP</text><text class="n" transform="scale(0.8479 1)" font-size="13.97" x="-12.65 -4.22 4.22 12.65 21.08" stroke="#333" stroke-width="0.11">value</text><text class="n" transform="scale(0.8479 1)" font-size="13.97" x="37.95 46.38 54.81" stroke="#333" stroke-width="0.11">for</text></g>
<g transform="translate(110.20 1583.20) rotate(-90)" fill="#333"><text transform="translate(-10.73 0) scale(0.7865 1)" font-size="15.15">PCT</text></g>
<path d="M597.50 1427.30L597.50 1735.65" stroke="#444" stroke-width="1.10" fill="none"/>
<path d="M596.95 1735.10L968.70 1735.10" stroke="#444" stroke-width="1.10" fill="none"/>
<path d="M605.70 1735.10L605.70 1739.50" stroke="#333" stroke-width="0.90" fill="none"/>
<text class="n" transform="translate(605.70 1751.60) scale(0.9059 1)" font-size="12.46" x="-6.73 -2.02 6.73" fill="#333" stroke="#333" stroke-width="0.20">0.0</text>
<path d="M656.63 1735.10L656.63 1739.50" stroke="#333" stroke-width="0.90" fill="none"/>
<text class="n" transform="translate(656.63 1751.60) scale(0.9059 1)" font-size="12.46" x="-6.73 -2.02 6.73" fill="#333" stroke="#333" stroke-width="0.20">2.5</text>
<path d="M707.56 1735.10L707.56 1739.50" stroke="#333" stroke-width="0.90" fill="none"/>
<text class="n" transform="translate(707.56 1751.60) scale(0.9059 1)" font-size="12.46" x="-6.73 -2.02 6.73" fill="#333" stroke="#333" stroke-width="0.20">5.0</text>
<path d="M758.49 1735.10L758.49 1739.50" stroke="#333" stroke-width="0.90" fill="none"/>
<text class="n" transform="translate(758.49 1751.60) scale(0.9059 1)" font-size="12.46" x="-6.73 -2.02 6.73" fill="#333" stroke="#333" stroke-width="0.20">7.5</text>
<path d="M809.42 1735.10L809.42 1739.50" stroke="#333" stroke-width="0.90" fill="none"/>
<text class="n" transform="translate(809.42 1751.60) scale(0.9059 1)" font-size="12.46" x="-10.10 -3.37 1.35 10.10" fill="#333" stroke="#333" stroke-width="0.20">10.0</text>
<path d="M860.35 1735.10L860.35 1739.50" stroke="#333" stroke-width="0.90" fill="none"/>
<text class="n" transform="translate(860.35 1751.60) scale(0.9059 1)" font-size="12.46" x="-10.10 -3.37 1.35 10.10" fill="#333" stroke="#333" stroke-width="0.20">12.5</text>
<path d="M911.28 1735.10L911.28 1739.50" stroke="#333" stroke-width="0.90" fill="none"/>
<text class="n" transform="translate(911.28 1751.60) scale(0.9059 1)" font-size="12.46" x="-10.10 -3.37 1.35 10.10" fill="#333" stroke="#333" stroke-width="0.20">15.0</text>
<path d="M962.21 1735.10L962.21 1739.50" stroke="#333" stroke-width="0.90" fill="none"/>
<text class="n" transform="translate(962.21 1751.60) scale(0.9059 1)" font-size="12.46" x="-10.10 -3.37 1.35 10.10" fill="#333" stroke="#333" stroke-width="0.20">17.5</text>
<path d="M593.10 1687.10L597.50 1687.10" stroke="#333" stroke-width="0.90" fill="none"/>
<text class="n" transform="translate(589.90 1691.50) scale(0.9059 1)" font-size="12.46" x="-23.57 -16.83 -12.12 -3.37" fill="#333" stroke="#333" stroke-width="0.20">−0.2</text>
<path d="M593.10 1638.10L597.50 1638.10" stroke="#333" stroke-width="0.90" fill="none"/>
<text class="n" transform="translate(589.90 1642.50) scale(0.9059 1)" font-size="12.46" x="-23.57 -16.83 -12.12 -3.37" fill="#333" stroke="#333" stroke-width="0.20">−0.1</text>
<path d="M593.10 1589.10L597.50 1589.10" stroke="#333" stroke-width="0.90" fill="none"/>
<text class="n" transform="translate(589.90 1593.50) scale(0.9059 1)" font-size="12.46" x="-16.83 -12.12 -3.37" fill="#333" stroke="#333" stroke-width="0.20">0.0</text>
<path d="M593.10 1540.10L597.50 1540.10" stroke="#333" stroke-width="0.90" fill="none"/>
<text class="n" transform="translate(589.90 1544.50) scale(0.9059 1)" font-size="12.46" x="-16.83 -12.12 -3.37" fill="#333" stroke="#333" stroke-width="0.20">0.1</text>
<path d="M593.10 1491.10L597.50 1491.10" stroke="#333" stroke-width="0.90" fill="none"/>
<text class="n" transform="translate(589.90 1495.50) scale(0.9059 1)" font-size="12.46" x="-16.83 -12.12 -3.37" fill="#333" stroke="#333" stroke-width="0.20">0.2</text>
<path d="M593.10 1442.10L597.50 1442.10" stroke="#333" stroke-width="0.90" fill="none"/>
<text class="n" transform="translate(589.90 1446.50) scale(0.9059 1)" font-size="12.46" x="-16.83 -12.12 -3.37" fill="#333" stroke="#333" stroke-width="0.20">0.3</text>
<g transform="translate(783.10 1767.60)" fill="#333"><text class="n" transform="scale(0.8479 1)" font-size="13.97" x="-25.30 -16.86 -8.43 0.00 8.43 16.86 25.30" stroke="#333" stroke-width="0.11">Lactate</text></g>
<g transform="translate(545.50 1581.20) rotate(-90)" fill="#333"><text transform="translate(-50.05 0) scale(0.7865 1)" font-size="15.15">SHAP</text><text class="n" transform="scale(0.8479 1)" font-size="13.97" x="-12.65 -4.22 4.22 12.65 21.08" stroke="#333" stroke-width="0.11">value</text><text class="n" transform="scale(0.8479 1)" font-size="13.97" x="37.95 46.38 54.81" stroke="#333" stroke-width="0.11">for</text></g>
<g transform="translate(559.20 1581.20) rotate(-90)" fill="#333"><text class="n" transform="scale(0.8479 1)" font-size="13.97" x="-25.30 -16.86 -8.43 0.00 8.43 16.86 25.30" stroke="#333" stroke-width="0.11">Lactate</text></g>
<path d="M147.70 1788.30L147.70 2096.65" stroke="#444" stroke-width="1.10" fill="none"/>
<path d="M147.15 2096.10L520.30 2096.10" stroke="#444" stroke-width="1.10" fill="none"/>
<path d="M152.50 2096.10L152.50 2100.50" stroke="#333" stroke-width="0.90" fill="none"/>
<text class="n" transform="translate(152.50 2112.60) scale(0.9059 1)" font-size="12.46" x="0.00" fill="#333" stroke="#333" stroke-width="0.20">0</text>
<path d="M223.86 2096.10L223.86 2100.50" stroke="#333" stroke-width="0.90" fill="none"/>
<text class="n" transform="translate(223.86 2112.60) scale(0.9059 1)" font-size="12.46" x="-6.73 0.00 6.73" fill="#333" stroke="#333" stroke-width="0.20">200</text>
<path d="M295.22 2096.10L295.22 2100.50" stroke="#333" stroke-width="0.90" fill="none"/>
<text class="n" transform="translate(295.22 2112.60) scale(0.9059 1)" font-size="12.46" x="-6.73 0.00 6.73" fill="#333" stroke="#333" stroke-width="0.20">400</text>
<path d="M366.58 2096.10L366.58 2100.50" stroke="#333" stroke-width="0.90" fill="none"/>
<text class="n" transform="translate(366.58 2112.60) scale(0.9059 1)" font-size="12.46" x="-6.73 0.00 6.73" fill="#333" stroke="#333" stroke-width="0.20">600</text>
<path d="M437.94 2096.10L437.94 2100.50" stroke="#333" stroke-width="0.90" fill="none"/>
<text class="n" transform="translate(437.94 2112.60) scale(0.9059 1)" font-size="12.46" x="-6.73 0.00 6.73" fill="#333" stroke="#333" stroke-width="0.20">800</text>
<path d="M509.30 2096.10L509.30 2100.50" stroke="#333" stroke-width="0.90" fill="none"/>
<text class="n" transform="translate(509.30 2112.60) scale(0.9059 1)" font-size="12.46" x="-10.10 -3.37 3.37 10.10" fill="#333" stroke="#333" stroke-width="0.20">1000</text>
<path d="M143.30 2053.25L147.70 2053.25" stroke="#333" stroke-width="0.90" fill="none"/>
<text class="n" transform="translate(140.10 2057.65) scale(0.9059 1)" font-size="12.46" x="-23.57 -16.83 -12.12 -3.37" fill="#333" stroke="#333" stroke-width="0.20">−0.3</text>
<path d="M143.30 2005.80L147.70 2005.80" stroke="#333" stroke-width="0.90" fill="none"/>
<text class="n" transform="translate(140.10 2010.20) scale(0.9059 1)" font-size="12.46" x="-23.57 -16.83 -12.12 -3.37" fill="#333" stroke="#333" stroke-width="0.20">−0.2</text>
<path d="M143.30 1958.35L147.70 1958.35" stroke="#333" stroke-width="0.90" fill="none"/>
<text class="n" transform="translate(140.10 1962.75) scale(0.9059 1)" font-size="12.46" x="-23.57 -16.83 -12.12 -3.37" fill="#333" stroke="#333" stroke-width="0.20">−0.1</text>
<path d="M143.30 1910.90L147.70 1910.90" stroke="#333" stroke-width="0.90" fill="none"/>
<text class="n" transform="translate(140.10 1915.30) scale(0.9059 1)" font-size="12.46" x="-16.83 -12.12 -3.37" fill="#333" stroke="#333" stroke-width="0.20">0.0</text>
<path d="M143.30 1863.45L147.70 1863.45" stroke="#333" stroke-width="0.90" fill="none"/>
<text class="n" transform="translate(140.10 1867.85) scale(0.9059 1)" font-size="12.46" x="-16.83 -12.12 -3.37" fill="#333" stroke="#333" stroke-width="0.20">0.1</text>
<path d="M143.30 1816.00L147.70 1816.00" stroke="#333" stroke-width="0.90" fill="none"/>
<text class="n" transform="translate(140.10 1820.40) scale(0.9059 1)" font-size="12.46" x="-16.83 -12.12 -3.37" fill="#333" stroke="#333" stroke-width="0.20">0.2</text>
<g transform="translate(334.00 2128.60)" fill="#333"><text transform="translate(-7.15 0) scale(0.7865 1)" font-size="15.15">OI</text></g>
<g transform="translate(95.70 1942.20) rotate(-90)" fill="#333"><text transform="translate(-50.05 0) scale(0.7865 1)" font-size="15.15">SHAP</text><text class="n" transform="scale(0.8479 1)" font-size="13.97" x="-12.65 -4.22 4.22 12.65 21.08" stroke="#333" stroke-width="0.11">value</text><text class="n" transform="scale(0.8479 1)" font-size="13.97" x="37.95 46.38 54.81" stroke="#333" stroke-width="0.11">for</text></g>
<g transform="translate(109.40 1942.20) rotate(-90)" fill="#333"><text transform="translate(-7.15 0) scale(0.7865 1)" font-size="15.15">OI</text></g>
<path d="M597.50 1789.80L597.50 2098.35" stroke="#444" stroke-width="1.10" fill="none"/>
<path d="M596.95 2097.80L969.30 2097.80" stroke="#444" stroke-width="1.10" fill="none"/>
<path d="M610.80 2097.80L610.80 2102.20" stroke="#333" stroke-width="0.90" fill="none"/>
<text class="n" transform="translate(610.80 2114.30) scale(0.9059 1)" font-size="12.46" x="0.00" fill="#333" stroke="#333" stroke-width="0.20">0</text>
<path d="M691.90 2097.80L691.90 2102.20" stroke="#333" stroke-width="0.90" fill="none"/>
<text class="n" transform="translate(691.90 2114.30) scale(0.9059 1)" font-size="12.46" x="-3.37 3.37" fill="#333" stroke="#333" stroke-width="0.20">20</text>
<path d="M773.00 2097.80L773.00 2102.20" stroke="#333" stroke-width="0.90" fill="none"/>
<text class="n" transform="translate(773.00 2114.30) scale(0.9059 1)" font-size="12.46" x="-3.37 3.37" fill="#333" stroke="#333" stroke-width="0.20">40</text>
<path d="M854.10 2097.80L854.10 2102.20" stroke="#333" stroke-width="0.90" fill="none"/>
<text class="n" transform="translate(854.10 2114.30) scale(0.9059 1)" font-size="12.46" x="-3.37 3.37" fill="#333" stroke="#333" stroke-width="0.20">60</text>
<path d="M935.20 2097.80L935.20 2102.20" stroke="#333" stroke-width="0.90" fill="none"/>
<text class="n" transform="translate(935.20 2114.30) scale(0.9059 1)" font-size="12.46" x="-3.37 3.37" fill="#333" stroke="#333" stroke-width="0.20">80</text>
<path d="M593.10 2071.90L597.50 2071.90" stroke="#333" stroke-width="0.90" fill="none"/>
<text class="n" transform="translate(589.90 2076.30) scale(0.9059 1)" font-size="12.46" x="-23.57 -16.83 -12.12 -3.37" fill="#333" stroke="#333" stroke-width="0.20">−0.3</text>
<path d="M593.10 2031.40L597.50 2031.40" stroke="#333" stroke-width="0.90" fill="none"/>
<text class="n" transform="translate(589.90 2035.80) scale(0.9059 1)" font-size="12.46" x="-23.57 -16.83 -12.12 -3.37" fill="#333" stroke="#333" stroke-width="0.20">−0.2</text>
<path d="M593.10 1990.90L597.50 1990.90" stroke="#333" stroke-width="0.90" fill="none"/>
<text class="n" transform="translate(589.90 1995.30) scale(0.9059 1)" font-size="12.46" x="-23.57 -16.83 -12.12 -3.37" fill="#333" stroke="#333" stroke-width="0.20">−0.1</text>
<path d="M593.10 1950.40L597.50 1950.40" stroke="#333" stroke-width="0.90" fill="none"/>
<text class="n" transform="translate(589.90 1954.80) scale(0.9059 1)" font-size="12.46" x="-16.83 -12.12 -3.37" fill="#333" stroke="#333" stroke-width="0.20">0.0</text>
<path d="M593.10 1909.90L597.50 1909.90" stroke="#333" stroke-width="0.90" fill="none"/>
<text class="n" transform="translate(589.90 1914.30) scale(0.9059 1)" font-size="12.46" x="-16.83 -12.12 -3.37" fill="#333" stroke="#333" stroke-width="0.20">0.1</text>
<path d="M593.10 1869.40L597.50 1869.40" stroke="#333" stroke-width="0.90" fill="none"/>
<text class="n" transform="translate(589.90 1873.80) scale(0.9059 1)" font-size="12.46" x="-16.83 -12.12 -3.37" fill="#333" stroke="#333" stroke-width="0.20">0.2</text>
<path d="M593.10 1828.90L597.50 1828.90" stroke="#333" stroke-width="0.90" fill="none"/>
<text class="n" transform="translate(589.90 1833.30) scale(0.9059 1)" font-size="12.46" x="-16.83 -12.12 -3.37" fill="#333" stroke="#333" stroke-width="0.20">0.3</text>
<g transform="translate(783.40 2130.30)" fill="#333"><text transform="translate(-10.73 0) scale(0.7865 1)" font-size="15.15">BUN</text></g>
<g transform="translate(545.50 1943.80) rotate(-90)" fill="#333"><text transform="translate(-50.05 0) scale(0.7865 1)" font-size="15.15">SHAP</text><text class="n" transform="scale(0.8479 1)" font-size="13.97" x="-12.65 -4.22 4.22 12.65 21.08" stroke="#333" stroke-width="0.11">value</text><text class="n" transform="scale(0.8479 1)" font-size="13.97" x="37.95 46.38 54.81" stroke="#333" stroke-width="0.11">for</text></g>
<g transform="translate(559.20 1943.80) rotate(-90)" fill="#333"><text transform="translate(-10.73 0) scale(0.7865 1)" font-size="15.15">BUN</text></g>
<g class="d">
<path d="M233.2 952.6h0M250.6 984.2h0M242.4 942h0M219.7 834.2h0M237.3 958.1h0M250.8 967.6h0M233.5 835.7h0M245 959.3h0M239.5 930.9h0M239.3 910h0M241.3 946h0M250.6 940.2h0M252.5 928.9h0M240.1 883.6h0M248.6 958.2h0M220.4 769.9h0M246.4 898.1h0M246.8 970.9h0M246.6 887.1h0M247 995.5h0M251 988.4h0M237.4 936.8h0M241.7 923.6h0M219.7 822.2h0M251.1 908.3h0M231.5 949.2h0M248.4 886h0M241.3 894.2h0M253.1 911.6h0M251.3 940.3h0M250 876.3h0M252.6 965.9h0M239.1 926.9h0M240.5 912.9h0M244.3 874h0M233.5 860.8h0M242.3 892.1h0M242.8 951.6h0M245.8 903.5h0M238.4 922h0M247.3 903.4h0M230.6 927.3h0M252.5 971.6h0M251.6 973.6h0M253.1 900.4h0M251.4 975.4h0M228.9 853.4h0M240.3 956.7h0M244.8 934.1h0M252.4 891.3h0M245.8 945.6h0M221.5 842.5h0M248.9 991.5h0M239.3 888.4h0M201.5 842.7h0M246.6 890.4h0M245.7 924.9h0M251.9 911.6h0M243.7 977.6h0M247.6 964.1h0M250.7 955.7h0M244.1 888.4h0M252.8 898.3h0M240.7 949.1h0M248.5 896h0M251.1 909h0M242.8 907.6h0M215.4 840.7h0M240.4 844.5h0M243.1 961.6h0M244.2 946.4h0M249.2 975.9h0M232.6 856h0M163.8 760.1h0" stroke="#0083ec" stroke-width="4.40"/>
<path d="M256.1 912.3h0M253.8 939h0M256 871.9h0M257.9 890.4h0M257.8 880.6h0M253.5 892.4h0M255.9 898.2h0M256.9 952.6h0M253.8 957.4h0M253.2 967.2h0M254.2 886.4h0M255.5 905.9h0M257 888.3h0M256 914.8h0M253.8 965.1h0M257.1 899.5h0M257.9 962.4h0M256.2 899.5h0M254.5 887.2h0M254.4 972.1h0M256.5 947.2h0M254.2 923.4h0M254.3 902.9h0M255.5 868.6h0M256.6 968.3h0M254.3 919.3h0M257.8 953.8h0M255 983.9h0M254.1 873.2h0M257.9 893h0M254.9 897.9h0M257.9 890.6h0M257.6 887.3h0M256 877.2h0" stroke="#007dea" stroke-width="4.40"/>
<path d="M261.5 891.8h0M260.4 900.1h0M262.3 894h0M259.9 895.2h0M261.6 952.9h0M261.5 869.5h0M261.8 873.3h0M262.4 902.8h0M261.4 962.9h0M259.6 894h0M262.5 936.3h0M258 888.6h0M262.7 857.8h0M259.8 956.7h0M262.7 880.9h0M261.6 883h0M260.3 880.2h0M259 932.4h0M258.6 916.5h0M259.9 915h0M259.4 932.6h0M258.4 959.4h0M260.6 952h0M258.3 895.3h0M261.5 891h0M262.1 932.6h0M259.7 879.2h0M260 873.5h0M258.8 885.4h0M260.4 903.9h0M258.8 945.7h0M259.6 878.3h0M262.7 900.8h0M258 908.1h0M262.6 884.8h0" stroke="#0076e7" stroke-width="4.40"/>
<path d="M266.5 927.9h0M265.1 895.1h0M267.4 887.6h0M264.4 942.7h0M266.8 859.5h0M263.8 918.8h0M264 949h0M267.5 849h0M264.5 950.6h0M266.9 879.9h0M265.5 889.8h0M262.8 935.4h0M262.9 907.1h0M263.5 873.4h0M266.8 886.1h0M264.5 922.8h0M265.5 892.7h0M267.1 937.4h0M266.4 867.3h0M264.1 916h0M264.9 887.4h0M265.3 877.5h0M263.4 950.6h0M266.7 859.8h0M266.7 883.4h0M265.9 882.7h0M266.8 876.4h0M266.2 856.7h0M264.6 903.7h0M262.9 896.1h0M264.8 875.8h0M265.5 851.7h0M267 848.5h0M262.8 905.3h0M266 946.5h0M263 883.3h0M266.1 884.4h0M264.6 865h0M267.1 882.7h0M263.9 912.8h0M263.2 873.9h0M264.5 898.7h0M264.5 947.3h0M266.9 872.9h0M264 939.1h0M263.4 950h0M262.8 960.9h0M265.8 901.9h0M264.1 928h0M265.3 881.2h0M263.4 881h0M264 883.2h0M263.3 925.6h0M264.7 932.1h0M263.1 876h0M263.8 885.7h0" stroke="#0071e3" stroke-width="4.40"/>
<path d="M269.9 853.4h0M268.1 867.6h0M269.6 942.3h0M271.9 877.7h0M269.7 860.9h0M271.7 917.5h0M270.5 860.2h0M271.1 906.4h0M270.8 847.8h0M267.9 868.8h0M268.1 915.7h0M272.1 853.4h0M271.9 868.2h0M272.2 863.8h0M269.2 919.8h0M270.7 874.4h0M268.5 911.9h0M271 846.7h0M270.5 870.7h0M268.9 838.3h0M271.3 867.3h0M268.8 874.4h0M268.9 943.1h0M272.1 898.2h0M269.2 880.9h0M269.6 876.7h0M268.7 905.2h0M270.3 866.2h0M269.1 931.1h0M269.4 892.6h0M269.9 869h0M271.8 878.1h0M268.4 842.7h0" stroke="#006ae0" stroke-width="4.40"/>
<path d="M272.5 905.7h0M273.6 917.2h0M275.9 824.5h0M273.5 801.5h0M276.3 837.6h0M274.9 846h0M276.9 859.6h0M277.1 850.9h0M275.6 880.2h0M272.7 925.6h0M275.3 809.1h0M276.4 841.9h0M273.1 933.8h0M273.2 919.9h0M273.5 877h0M273.3 849.6h0M273.6 917.6h0M275.8 883.1h0M276.7 889.3h0M274.3 861.2h0M274 851.3h0M274 914.7h0M274.9 821.9h0M275.3 906h0M274.3 920.2h0M273.5 851.2h0M275.2 918.1h0M276.4 848h0M275.3 813.4h0" stroke="#3263da" stroke-width="4.40"/>
<path d="M278.9 911.1h0M279.3 849.9h0M278 870.2h0M281.5 864.1h0M278.7 915.5h0M281.5 862.4h0M280.1 879.7h0M277.9 844.7h0M277.8 823.5h0M280.4 835.7h0M280.9 840.3h0M278.6 909.7h0M279.6 848.4h0M277.8 872.4h0M281.8 840.3h0M281.7 834.4h0M281 844.4h0M281.1 863.2h0M281.9 829.8h0M278 898.1h0M278 890.4h0M279.3 831.8h0M279.3 828.6h0M277.9 845.9h0M280.9 822.4h0M280.1 914.1h0M280.2 846.6h0M278.6 866.8h0M278.7 839.2h0M280.8 909.2h0M277.9 877.3h0M281.3 816.8h0M280.7 901.8h0M278.4 849.5h0M281.7 830.1h0M277.3 830.3h0M280.4 865.3h0M280.2 857.7h0M279.8 914.9h0M280.6 833.8h0M279.7 852.9h0" stroke="#4c5bd4" stroke-width="4.40"/>
<path d="M285 830.9h0M284.8 823.6h0M286.4 841.5h0M283.5 860.3h0M283.2 840.2h0M282.2 844.6h0M282.3 844.4h0M284.6 789.9h0M285.1 824.1h0M283.1 811.8h0M283.6 846.9h0M285.9 833.1h0M286 817.1h0M285.5 818.6h0M286 845h0M286.1 777.6h0M284.8 855h0M284.9 802.2h0M282.2 899.1h0M282.2 800.7h0M285.4 824.8h0M286.1 785.3h0M286.5 821.9h0M286.4 773.5h0M284.5 835.7h0M282.6 841.2h0M283.8 798.4h0M285.4 840.1h0M284.1 838.2h0M284.9 832.8h0M284.6 824.6h0M284.9 813.9h0M282.9 837h0M284.8 821.1h0M284.6 869.9h0M282.1 856.6h0M283.3 843.3h0M286.4 839.9h0M282 814.5h0M285 783h0M284.1 844.9h0M285.7 821.8h0" stroke="#5f54cd" stroke-width="4.40"/>
<path d="M291.5 828.4h0M289.3 828.3h0M289.4 819.6h0M290.7 788.4h0M288.3 845.5h0M290.9 809.4h0M288.1 829.2h0M291.1 811.9h0M289.3 827.9h0M290.2 807h0M289.5 763h0M290.8 823.3h0M290.7 830.6h0M288.5 813.9h0M288.4 787.3h0M291.4 827.9h0M291.5 832.5h0M288.4 813.8h0M287 825.1h0M291.4 826.7h0M288.3 822.6h0M287.4 844.9h0M287.3 826.6h0M287.6 775.6h0M289.3 829.4h0M289.8 816.3h0M288.4 795h0" stroke="#6e4ac4" stroke-width="4.40"/>
<path d="M295.1 826.1h0M295.6 792.5h0M292.2 799.9h0M293.8 833.3h0M292.8 811.3h0M292.2 764.3h0M296.1 767.6h0M293.6 822h0M293.8 766.1h0M293.7 829h0M292.2 829.3h0M295.3 773.8h0M294.1 819.7h0M292.3 817.4h0M293.6 830.2h0M292.8 835.3h0M293.8 827.2h0M296 816.3h0M292 823.2h0M294.1 769.9h0M293.3 821.8h0M294.7 819.9h0M295.5 809.4h0M291.7 832.8h0M292.6 832.2h0M292.6 808.3h0M292.5 819.7h0M296.4 825.3h0M295.6 820.2h0M295.2 833.6h0M293 826.5h0M292.2 786.1h0" stroke="#7a41bc" stroke-width="4.40"/>
<path d="M296.7 821.5h0M298.4 819.3h0M298.7 839.1h0M297.6 791.5h0M298.2 817.1h0M299.4 824.1h0M298.4 779.9h0M300.3 819.9h0M298.2 828.8h0M299.2 776.9h0M298.6 812.8h0M299.6 756.1h0M299.6 789.9h0M299.1 818.1h0M297.7 828.8h0M298.4 762.7h0M298.9 830.4h0M299.2 802.2h0M298.2 835.1h0M300.4 803.7h0M300.7 797.9h0M297.1 824.5h0" stroke="#8537b3" stroke-width="4.40"/>
<path d="M302.6 823.6h0M304.5 750.7h0M304.5 785.3h0M303.3 753.8h0M301.5 787.9h0M306.1 747.7h0M302.2 776.1h0M303 779.9h0M304.9 803.1h0M302.7 800.7h0M303.1 820.2h0M301.3 830.5h0" stroke="#8e29a8" stroke-width="4.40"/>
<path d="M308.4 785.8h0M310.7 805.7h0M310.3 805h0M310.4 796.8h0M310 798.5h0M309.1 836h0" stroke="#991ca1" stroke-width="4.40"/>
<path d="M313.3 754.7h0M315.6 836.2h0M311.8 775.3h0M311.5 762.3h0M314.3 795.6h0M312 806.8h0M313.9 807.5h0M312.8 805.6h0M311.9 765.3h0M313.1 817.5h0M313.8 763h0" stroke="#a60f9b" stroke-width="4.40"/>
<path d="M318.9 819.9h0M320.1 809.8h0M317.3 790.7h0M316.1 741.7h0M316.8 806.6h0M317.6 787.6h0M320.1 805.4h0M319.3 812.3h0M318.8 814.2h0M319.8 812.5h0M318.4 799.6h0M318.6 812.4h0M318.4 764.6h0M319.6 817.2h0" stroke="#b20095" stroke-width="4.40"/>
<path d="M320.9 801.9h0M322.6 805h0M323.4 810.1h0M322.5 827.3h0M321.8 801.9h0M321.4 817.2h0M322.3 798.8h0M323 750.7h0M322 802.8h0" stroke="#bd008f" stroke-width="4.40"/>
<path d="M327.3 804.9h0M327.6 753h0M328.1 813.7h0M325.7 791.3h0M326.1 749.5h0M326.3 816.1h0M327.9 778.1h0" stroke="#c70087" stroke-width="4.40"/>
<path d="M332.5 791.3h0M333.2 794h0M331.2 813.6h0M333.6 807h0M332.1 784.1h0" stroke="#d10080" stroke-width="4.40"/>
<path d="M337.3 773.8h0M336.8 810.9h0M338.8 755.6h0M338.2 803.1h0M337.6 784.2h0M338 798.4h0M339.3 795.7h0M336 754.1h0M338.5 818.4h0M339 808.7h0M339.1 807.2h0M336.8 786.4h0M337.6 796.9h0M338.8 792.5h0" stroke="#d80078" stroke-width="4.40"/>
<path d="M340.1 810h0M342.4 811.9h0M341.1 771.9h0M342.4 818h0M343.7 814.4h0M342.2 794h0M340.3 817.7h0M339.9 806.4h0M341.7 823.6h0" stroke="#e00070" stroke-width="4.40"/>
<path d="M348.3 817.8h0M345 787.2h0M344.8 772.6h0M348.8 760.4h0M346.3 817h0" stroke="#e60067" stroke-width="4.40"/>
<path d="M354.2 857.6h0M351.4 823h0M354.2 793h0M353.7 811.8h0M349.9 800.7h0M351.7 826.4h0M350.7 801.5h0" stroke="#eb005e" stroke-width="4.40"/>
<path d="M358.8 819.1h0M356.5 779.6h0M355 808.1h0" stroke="#f00056" stroke-width="4.40"/>
<path d="M369.6 759.6h0M412.1 761.7h0M409.2 810.2h0M377.6 788.1h0M398.3 805.8h0M366.5 808.5h0M403.3 804.9h0M420.2 791.1h0M410.1 727.1h0M370.9 817.6h0M369.6 771.2h0M501.4 808.3h0M418.8 742.3h0M374 757.3h0M488.4 811.6h0M425.6 815.6h0M371.1 765.3h0M431.5 801.8h0M414 715.8h0M380.9 799.9h0M374.8 810.4h0M462.5 798.1h0M428.1 780.6h0M371.4 802.5h0M376.9 843.3h0M438.8 805.7h0M395.5 813.9h0M398.8 809.6h0M440 754.1h0M378 804.5h0" stroke="#f0004c" stroke-width="4.40"/>
</g>
<g class="d">
<path d="M620.4 897.4h0M624.1 889.6h0M621.7 868.2h0M622.7 882.5h0M624.9 879.1h0M620 867.2h0M620.3 906.1h0M623.1 886.7h0M621.8 868.3h0M620.8 933.7h0M619 881.8h0M626.5 919.1h0M623 883.5h0M627.6 925h0M621 904.6h0M617.7 888.6h0M620.1 915.4h0M625.9 856.1h0M621.1 877.4h0M624.4 861.1h0M621.3 882.7h0M618.1 964.7h0M625.4 860.2h0M621.8 878h0M625.8 892.9h0M624.4 856.6h0M624 899.2h0M624 884.4h0M625.5 859.1h0M618.5 887.4h0M624.2 876.1h0M614.3 919.7h0M619.7 924.6h0M620.5 919.2h0M619.5 872.1h0M626.3 855.7h0M621.9 883.1h0M618.2 903.5h0M622.8 863.8h0M620 970.6h0M622.3 901.6h0M623.3 863.3h0M626.5 892.8h0M625 868h0M626.2 873.3h0M623 884.3h0M617.7 930.1h0M624.5 884h0M623.4 900.5h0M624.6 886.1h0M623.1 915.1h0M626.9 860.6h0M622.5 891.1h0M620.6 922.7h0M624.7 874.9h0M624.6 896.2h0M625.5 882.9h0M622.7 893.1h0M622.4 857.4h0M626.3 880.4h0M623.7 886.4h0M624.7 877.9h0M624.5 857.4h0M627.4 858.9h0M623.7 869.2h0M617.4 890.9h0M627.3 852.6h0M621.7 906.5h0M624.8 871.5h0M625.6 898.5h0M624.2 851.7h0M623.3 885.9h0M622.3 876.4h0M623.1 930.6h0M620 871.5h0M622.5 917h0M623.6 865.8h0M627.4 863.1h0M617.4 871.4h0M625.1 895h0M618.4 886.6h0M626.9 857.4h0M621.8 927.3h0M627.2 888h0M619.1 889.1h0M618.8 876.6h0M624.9 866.9h0M622.4 887h0M620 873h0M620.4 896.1h0M619.3 881.4h0M622.5 886.8h0M625.7 856.9h0M626.8 929h0M625.5 868.8h0M626.1 927.9h0M616.1 917.2h0M619.8 868.5h0M622.4 868.7h0M627.6 866.9h0M627 890.1h0M626.9 833.7h0M620.9 882h0M614.8 892.8h0M618.7 899.3h0M623.4 881.3h0M622.2 926.1h0M623.1 836h0M624.6 881.5h0M627.2 861.8h0M624.9 889.6h0M620.5 896.1h0M626.5 917.9h0M624.4 874.2h0M621.5 939.8h0M623.5 878.9h0M621.3 881.3h0M623.1 946.7h0M626.2 880.6h0M621.3 879.2h0M618.4 954.4h0M624.1 855.1h0M620 949.8h0M617.7 874.5h0M615.4 923.4h0M620.3 898.9h0M617.9 875.8h0M619.3 907.9h0M626.3 866.5h0M621.4 981.2h0M622.3 887.9h0M619.4 910.4h0M622.1 873.3h0M621.7 882.6h0M626.7 851.2h0M627.3 891.2h0M624.3 896.8h0M624.8 861.6h0M621.8 868.7h0M624.6 867.2h0M623.9 873.8h0M625 891.9h0M624.7 856.3h0M621.6 894.1h0M621.7 890.5h0M627.6 868.8h0M622.8 887.6h0M620.5 908.5h0M624.3 823.8h0M616.1 958.3h0M621.6 927.9h0M620.5 887.5h0M625.9 862.2h0M617.3 870.7h0M624 922.7h0M626.4 886.2h0M624.1 867.9h0M618.3 863.4h0M619.3 878.1h0M624.1 867.8h0M622.6 872h0M622.8 850h0M626 880.1h0M619.9 914.3h0M621.7 863.5h0M623.7 910.9h0M625.9 904.3h0M622.6 880.4h0M621.8 878h0M624.5 884.6h0M626.2 885.5h0M620 937.5h0M625.7 854h0M618.6 908.9h0M626.3 867.9h0M617.5 882.9h0M621.5 926h0M622.7 890.6h0M623.4 881.3h0M619.2 881.7h0M618.9 920.7h0M622.3 965.9h0M618.8 929.3h0M618.5 865.3h0M623.9 898.3h0M625.1 874.3h0M627.3 860.3h0M617.7 944.4h0M623.8 848.8h0M624.4 894h0M622.3 867.9h0M623.9 866.5h0M621.8 878.7h0M621.6 913.8h0M627.4 867.3h0M626.9 851.4h0M623.5 870h0M614.4 882.8h0M625.9 870h0M626.2 875h0M622.6 912.2h0M626.7 852.2h0M622.3 953.7h0M627 894.5h0M617.1 995.5h0M624.6 898.4h0M626.4 871.1h0M627.5 910.5h0M622.5 894.2h0M617.6 925.5h0M624.2 868.4h0M621.7 867.6h0M623.4 873h0" stroke="#0083ec" stroke-width="4.40"/>
<path d="M628.3 858.7h0M629.2 865.7h0M630.2 863.4h0M628.8 872h0M630.5 904.8h0M627.8 870.8h0M629.6 895.9h0M629.6 923.8h0M629.5 864h0M628 872.7h0M629.4 902.7h0M628.5 858.2h0M629.8 844.8h0M628.3 878.2h0M628.2 853.3h0M628.8 888.3h0M629.9 866.8h0M627.7 839.1h0M629.4 875.6h0M629.9 857.7h0M629 876.3h0M628.8 903.2h0M630.1 870.8h0M628.5 868.9h0M630.6 853.9h0M630.1 854.6h0M629.9 839.1h0M628 884.2h0M628.7 861.7h0M628.9 879.1h0M630.4 837.7h0M628.9 849.5h0M630.4 872.7h0M627.8 868.7h0M628.3 878.7h0M630.1 917.1h0M630.2 839.8h0M630.4 861h0M629.6 857.3h0M629.4 875.9h0M630.2 861.7h0M629 888.2h0M628.8 854.7h0M627.7 811.1h0M629.9 854.9h0M628.8 865.3h0M627.9 864.6h0" stroke="#007dea" stroke-width="4.40"/>
<path d="M633.1 851.7h0M631.4 850.5h0M630.9 843.4h0M633.4 871.6h0M632.7 859.4h0M632.9 845h0M631.9 828.8h0M632.8 874.1h0M632.4 846.6h0M630.9 853.4h0M632.9 856h0M633.4 846.6h0M630.7 908.2h0M630.7 827.4h0M631.3 872.4h0M632 839.8h0M632.9 846.6h0M633.1 802.2h0M633.1 851h0M631.1 860.9h0M631.5 858.9h0M632.9 845.9h0M630.9 850.9h0M632.1 853.2h0M632.3 847.5h0M630.6 880.1h0M630.8 862.1h0M631 864.3h0M631.1 844.6h0M631.6 854.1h0M632.9 839.5h0M632.8 850.6h0M632.1 854.8h0M630.9 854.7h0M630.7 817.7h0M631.1 842.8h0" stroke="#0076e7" stroke-width="4.40"/>
<path d="M634.2 840.2h0M634.7 853h0M634.4 834.8h0M635.7 824h0M634 856.8h0M633.7 853.8h0M636.5 832.3h0M635.3 851.6h0M633.8 779.2h0M635.1 865.2h0M635.4 831.5h0M635.7 792.2h0M634.7 844.9h0M636.2 821.1h0M633.8 809.1h0M634.4 858.9h0M634 849.8h0M636 834.9h0M634.5 857.1h0M634 850.2h0M635.5 850.6h0M634.5 838.1h0M636.1 812.2h0M634.2 865.2h0M634.1 837.3h0M633.8 851.8h0M634.6 798.4h0M636.5 831.7h0M634.7 826.1h0M635.5 842.5h0M634.6 788.9h0M635.5 834.9h0M636.4 841.5h0M634 869.5h0M634.8 822.9h0M633.8 775.6h0" stroke="#0071e3" stroke-width="4.40"/>
<path d="M637.7 842.7h0M639.3 842h0M639.7 840.3h0M638.1 831.4h0M638.4 801.5h0M639.2 818.4h0M637.8 856.3h0M637.7 843.5h0M637.5 831.3h0M637.7 848.3h0M638.9 829.8h0M636.9 767.6h0M638.6 824.2h0M636.9 795.3h0M637.7 844.8h0M637.1 838.8h0M639.6 828.2h0M638.9 824.2h0M639.7 779.9h0M638.4 768.9h0M637.7 855.9h0M637.7 815.3h0" stroke="#006ae0" stroke-width="4.40"/>
<path d="M640.2 832.5h0M640.3 804.8h0M641.9 827.5h0M640.8 835h0M641.2 822.3h0M641.8 826.4h0M640.4 860.2h0M640.7 847.1h0M640.2 828.5h0M640 825.4h0M642 820.8h0M640.5 812.8h0M641.3 830h0M642.5 834.9h0M641.7 840h0M641.7 827.7h0" stroke="#3263da" stroke-width="4.40"/>
<path d="M643.8 792.2h0M644.6 787.6h0M643.8 818.4h0M642.7 801.6h0M644 834.3h0M645.1 842.4h0M643.8 795.6h0M643.1 837.4h0" stroke="#4c5bd4" stroke-width="4.40"/>
<path d="M646.1 771.9h0M648 815.6h0M646.9 833.8h0M648.2 839.7h0M648.7 835h0M646.9 833.2h0M646.9 810.7h0M648.5 833h0" stroke="#5f54cd" stroke-width="4.40"/>
<path d="M650.7 834.8h0M650.4 784.6h0M651 853.7h0M651.6 830h0M650.9 833.1h0M650.9 833.4h0M650 770.4h0M651 841.9h0M651.5 848.3h0M651.5 776.9h0" stroke="#6e4ac4" stroke-width="4.40"/>
<path d="M652.8 841.8h0M653.8 845.3h0M652.4 837.4h0M653 774.6h0M654.2 838.2h0M654.7 824.5h0M653.7 838.6h0M653 827.3h0M652.2 826.5h0" stroke="#7a41bc" stroke-width="4.40"/>
<path d="M655.2 834.6h0M655.5 835.6h0M656.9 840.7h0M656.1 830.6h0M655.1 812.6h0M656.6 823.8h0M655 826.6h0M656.4 826.1h0M656.1 764.3h0M657.6 821.6h0M655.2 837.2h0M657.4 835.1h0M656 827.9h0M656.9 791.9h0" stroke="#8537b3" stroke-width="4.40"/>
<path d="M660 857.9h0M658.9 827.7h0M658.4 802.6h0M658.7 832.9h0M660.6 837.3h0M658.1 772.3h0M659.8 874.8h0M660.5 823.3h0M659.7 827h0M659.9 823.3h0M658.8 832.1h0M660.4 824.2h0M660 845h0M660.4 761.5h0M657.8 823.5h0M659.7 833h0M659.6 748h0M658.7 830.7h0" stroke="#8e29a8" stroke-width="4.40"/>
<path d="M663 813.1h0M663 831.1h0M661.2 793.5h0M662.2 826.1h0M662.7 822.2h0M663.5 828.4h0M663.3 780.7h0M662.1 823.8h0" stroke="#991ca1" stroke-width="4.40"/>
<path d="M666.1 807.9h0M663.8 831.1h0M664 832.4h0M666.6 829.2h0M665 836.8h0M664.2 827.6h0" stroke="#a60f9b" stroke-width="4.40"/>
<path d="M667.1 828.6h0M668.4 807.9h0M667 819.6h0M667 815h0M667.2 784.2h0" stroke="#b20095" stroke-width="4.40"/>
<path d="M672.4 822.9h0M672.3 805.8h0" stroke="#bd008f" stroke-width="4.40"/>
<path d="M674.6 800.4h0M673.5 744.3h0M674.6 819.9h0M672.9 825.7h0" stroke="#c70087" stroke-width="4.40"/>
<path d="M676 820.4h0M676.1 825.7h0M676.4 774.3h0M677.3 823.9h0M676.9 817.6h0M677.5 821.3h0" stroke="#d10080" stroke-width="4.40"/>
<path d="M679.5 766.1h0M679.6 792.2h0M681.2 786.1h0M679.4 822.4h0M680.7 821.4h0M681.3 824.9h0" stroke="#d80078" stroke-width="4.40"/>
<path d="M682.2 805h0M684.7 771.2h0" stroke="#e00070" stroke-width="4.40"/>
<path d="M685 826.8h0M685.3 819.1h0" stroke="#e60067" stroke-width="4.40"/>
<path d="M688.4 823h0M689.2 816.8h0M690.2 777.9h0" stroke="#eb005e" stroke-width="4.40"/>
<path d="M692.2 821.4h0M693.8 819.1h0" stroke="#f00056" stroke-width="4.40"/>
<path d="M703.2 824.2h0M698.4 811.9h0M709.9 794.4h0M739.3 756.4h0M952.9 810.8h0M712.7 783.9h0M832.6 816.7h0M700.2 817.5h0M882.8 794.2h0M744.8 818.5h0M699.9 823.8h0M705.3 818.4h0M706.4 805.1h0M709.3 829.3h0M725 826.8h0M704.8 822.7h0M718.4 812.2h0M699.2 814.5h0M810 819.2h0M728.5 792.7h0M754.8 829.4h0M697.9 754.1h0M839.1 819.2h0M798.2 796.5h0M721.4 810.7h0M789.1 715.7h0M776 822.1h0M785.4 811.9h0M758.8 787.9h0M701.5 817.6h0M713.9 824.2h0M714.7 817.1h0M760.2 800.8h0M715.6 809.9h0M726.4 818.7h0" stroke="#f0004c" stroke-width="4.40"/>
</g>
<g class="d">
<path d="M171.9 1225.3h0M168.3 1175.1h0M164.6 1151.6h0M169.4 1182.1h0M167.4 1200.8h0M170.8 1211.9h0M164.5 1153.4h0M169.9 1176.2h0M170.9 1217.8h0M165.7 1156.3h0M166.4 1211.4h0M165.8 1171h0M167.4 1191.4h0M164.9 1231.3h0M169.2 1188.5h0M170 1195.2h0M171.1 1200.5h0M169.6 1198.7h0M168.5 1156.4h0M168.2 1197h0M163.8 1160h0M166.2 1187.9h0M166.1 1199.1h0M170.9 1189.3h0M169 1170.6h0M168.9 1169.5h0M171.1 1198.5h0M170.3 1185.4h0M168.9 1214.9h0M163.9 1167.6h0M164.7 1177.2h0M165.8 1193.7h0M167.6 1193.4h0M167.1 1199.1h0M168.7 1209.4h0M167.4 1168.4h0M168.3 1171.3h0M170.2 1195.7h0M170.5 1176.1h0M167.1 1163.4h0M167.4 1206.5h0M172.3 1160.1h0M170.6 1201.1h0M167.6 1153.4h0M169.4 1197.1h0M163.5 1152.5h0M164.1 1176.5h0M170.6 1205.1h0M171.2 1232h0M169.8 1224.3h0M166.5 1170.3h0M170.7 1170.3h0M169.7 1264.8h0M172.1 1201.8h0M171.6 1206.2h0M166.2 1186.5h0M166 1094.7h0M164 1147.3h0M172 1210.4h0M169.4 1199.8h0M165.6 1166h0M166 1186h0M170.8 1191.5h0M165.1 1163.9h0M172.2 1219.5h0M167.2 1159.4h0M165.8 1164.8h0M167.9 1176.1h0M165.8 1196.1h0M166.9 1162h0M172.2 1200.3h0M168 1156.5h0M168.7 1200.4h0M168.5 1196.3h0M170.1 1200.4h0M168.2 1192.2h0M168.8 1224h0M172 1260.2h0M165.8 1178h0M164.1 1177h0M172.4 1185.4h0M164.6 1184.8h0M165.4 1196.5h0M171 1203.1h0M166.1 1122.1h0M169.5 1226.6h0M167.9 1200.2h0M171 1190.2h0M163.1 1173.3h0M166.5 1188.3h0M170.3 1205.1h0M170.3 1180.5h0M167.8 1208h0M168.7 1212.7h0M166.2 1192.4h0M169.6 1196.5h0M165.6 1149.4h0M167.8 1176h0M168.5 1179.6h0M168.1 1101h0M163.9 1149.7h0M167.7 1123.8h0M172.3 1225.9h0M166.9 1177.9h0M166.1 1163h0M170.3 1166.1h0M169.9 1200.8h0M169.7 1218.3h0M171.2 1201.9h0M170.2 1202.2h0M166.6 1193.5h0M170.6 1222.6h0M170.4 1197.5h0M171.7 1221.9h0M166.4 1196.8h0M169 1191h0M172.1 1192.2h0M165.7 1159.2h0M170.8 1229h0M170.6 1202.9h0M172.3 1242.8h0M168.1 1182.1h0M169.7 1181.7h0M163 1163.3h0M168.6 1202.8h0M167.8 1194.1h0M171.8 1193.1h0M171.2 1192h0M167.4 1170.3h0M166.6 1202.3h0M165 1179h0M167.5 1181.6h0M168.1 1081.5h0M167.2 1154.8h0M170.8 1210.4h0M167.4 1194.3h0M170.1 1214.4h0M170.4 1199.4h0M170.7 1219.1h0M165.1 1215.7h0M172.5 1211.8h0M164.6 1156.8h0M165.3 1173.1h0M172.3 1218.9h0M165.8 1182h0M166.2 1200.5h0M170.9 1190.7h0M169.7 1187.4h0M171.6 1227.1h0M166.6 1156.9h0M167.8 1206.8h0M165.7 1202.3h0M164.4 1198.6h0M171.8 1191.8h0M168.5 1198.5h0M166.8 1171.3h0M166.9 1169.3h0M168.2 1205.7h0M165.3 1181.6h0M168.6 1165.7h0M164.5 1147.2h0M170.2 1202.9h0M169.1 1203.8h0M168.3 1173.9h0M169.5 1172.7h0M164.2 1168.8h0M164.5 1154.7h0M169.7 1199.8h0M167.3 1182.2h0M168.3 1202.1h0M171.6 1203.5h0M166.9 1196.2h0M169.6 1186.7h0M166.2 1191.4h0M171.1 1216.3h0M166.8 1174.7h0M169 1226.4h0M169.6 1180.1h0M170 1213.7h0M171.9 1198.8h0M165.5 1183.3h0M169 1164.3h0M164.5 1196.1h0M165.5 1154.3h0M168.6 1196.8h0M172 1213.2h0M165.5 1168.8h0M164.9 1152.1h0M170.7 1218h0" stroke="#0083ec" stroke-width="4.40"/>
<path d="M174.1 1170.6h0M174 1209.7h0M173.3 1221.7h0M174.1 1180.5h0M174.5 1226.4h0M173.9 1216.6h0M174.1 1184.2h0M173.1 1202.7h0M173.8 1193.8h0M173.3 1187.2h0M174.6 1210.2h0M173.8 1174.5h0M174 1224h0M173.6 1204.5h0M173.2 1198.9h0M172.8 1211.2h0M174.1 1182.3h0M174.6 1245.6h0M173.7 1209.9h0M174.6 1207.9h0M174.1 1211.2h0M174.6 1180.1h0M173.6 1179.4h0M173.3 1180.5h0M173.8 1169.2h0M174 1172.7h0M174.5 1213.5h0M173 1210.6h0M172.7 1208.6h0" stroke="#007dea" stroke-width="4.40"/>
<path d="M175.6 1195.8h0M176.3 1200.2h0M175.7 1197.2h0M176.2 1211h0M175.2 1203.6h0M175.6 1219.1h0M175.3 1193.1h0M176.2 1197h0M175.6 1161.6h0M176.5 1195.8h0M176.1 1184h0M175.6 1182.4h0M175.8 1238.2h0M175 1174.6h0M175.4 1216.1h0M175.4 1197.9h0M175.1 1249.4h0M176.5 1196.1h0M175.5 1160.2h0M176.5 1199.1h0M176.3 1189.6h0M176.1 1180.6h0M176.4 1188.8h0M176.7 1208.1h0" stroke="#0076e7" stroke-width="4.40"/>
<path d="M177.3 1200.9h0M178 1215.2h0M177.4 1189.1h0M178.4 1206.9h0M177.1 1211.9h0M177.6 1212.6h0M177.3 1175.4h0M177.4 1208.2h0M177.2 1178.9h0M178.6 1189.2h0M177.2 1174.9h0M176.9 1194.9h0M178 1219.4h0M178.1 1202.6h0M178.3 1212.9h0M178 1208.5h0M177.9 1202.5h0M178.5 1199.6h0M177.6 1161.2h0M176.9 1215.4h0M177.9 1201.5h0M178.5 1202.6h0M177.6 1214h0M178.4 1210.1h0M178.6 1193.7h0M178.5 1221h0M178 1214.9h0" stroke="#0071e3" stroke-width="4.40"/>
<path d="M180.5 1194.4h0M180.1 1208h0M179.1 1203h0M180.4 1214.8h0M179.8 1193.6h0M179.2 1180.6h0M179.8 1209.9h0M180.5 1184.1h0M179.4 1164.4h0M180.6 1201.4h0M178.9 1202.4h0M179.4 1198.7h0M180 1210.4h0M178.8 1198.2h0M179.7 1203.2h0M180.5 1214.3h0M179.1 1214.8h0M180 1170.1h0M180.4 1220.5h0M179.6 1217.6h0" stroke="#006ae0" stroke-width="4.40"/>
<path d="M181.2 1217.8h0M181.6 1189h0M181.1 1220.7h0M182 1201.6h0M181.3 1191.6h0M181.3 1212.7h0M182.6 1195.3h0M182.4 1210.8h0M181.6 1193.3h0M182.4 1186.5h0M181.9 1181h0M181.3 1180.6h0M181.9 1186.3h0M181.9 1182.7h0M181.2 1194.5h0M182 1198.6h0M181.3 1206h0M182.8 1197.9h0" stroke="#3263da" stroke-width="4.40"/>
<path d="M183.8 1191.7h0M183.5 1221.8h0M184.2 1223.7h0M184.4 1190h0M184.6 1196.1h0M184.8 1190.1h0M183.6 1182.7h0M184.7 1179.8h0M185 1193.7h0M184.4 1203.1h0M183.3 1185.3h0M183.6 1188.4h0M184.8 1217.1h0M183.1 1216.1h0" stroke="#4c5bd4" stroke-width="4.40"/>
<path d="M186.1 1194.2h0M185.1 1206.3h0M186.9 1183.9h0M186.2 1197.6h0M185.4 1194.7h0M187 1191.1h0M186.7 1198.1h0M185.6 1176.4h0M185.6 1176.5h0M186.5 1174.9h0M185.9 1202.9h0M186.1 1181.1h0M185.7 1214.2h0M185.6 1178.8h0M185.9 1211.1h0M185.2 1180.1h0M185.1 1187.7h0M185.4 1199.1h0M185.4 1206.8h0M186.7 1213.3h0M186.7 1183.8h0M186.2 1212h0M185.2 1184.7h0M186.5 1190.3h0M186.8 1194.1h0" stroke="#5f54cd" stroke-width="4.40"/>
<path d="M188.2 1213.2h0M188 1189.2h0M187.6 1209.4h0M187.8 1187.1h0M188.6 1210.3h0M188.3 1231.9h0M188.1 1212h0M187.2 1201.8h0M188.2 1214.1h0M187.2 1214.5h0M188.6 1191.1h0M188 1197.1h0M188.6 1213.1h0M188.9 1195.1h0M189 1193.1h0M187.4 1228.8h0M187.2 1191.6h0M187.5 1193h0M188 1195.6h0M187.1 1194.7h0M187.8 1200.5h0M187.9 1203.1h0M188.9 1214.7h0M188.6 1211.3h0M187.1 1185.2h0M187.2 1215.9h0" stroke="#6e4ac4" stroke-width="4.40"/>
<path d="M189.9 1241.7h0M189.4 1231.2h0M189.6 1217.4h0M190.7 1270.8h0M189.8 1227.4h0M190.1 1227.4h0M191.1 1212.6h0M190 1234.4h0M189.6 1209.5h0M189.5 1230.6h0M189.4 1185.2h0M189.6 1226.2h0M191 1211.3h0M189.4 1208.7h0M189.6 1209.4h0M189.4 1196.1h0M189.3 1182h0M189.7 1227.1h0M191.2 1213.8h0M191 1231.9h0M191.2 1230.6h0M190.5 1208.9h0M190.3 1191.5h0" stroke="#7a41bc" stroke-width="4.40"/>
<path d="M191.2 1193.5h0M191.5 1232.9h0M191.9 1211.9h0M192 1215.8h0M193.2 1217h0M191.9 1221.4h0M191.6 1211h0M192 1226.5h0M192.7 1224.1h0M192.4 1210h0M192.7 1239.7h0" stroke="#8537b3" stroke-width="4.40"/>
<path d="M195 1244h0M193.5 1265.4h0M194.1 1253.1h0M193.3 1204h0M194.7 1216.3h0M193.3 1207.2h0M194.2 1221.4h0M194.4 1243.7h0M193.6 1235.3h0M195.1 1216.5h0M195.3 1224.8h0M194.6 1235.2h0M194.7 1230h0" stroke="#8e29a8" stroke-width="4.40"/>
<path d="M196.7 1213.3h0M197.4 1219.5h0M195.6 1208.2h0M197.4 1210.5h0M196.9 1239h0M195.5 1216.2h0M196.7 1229.1h0M196.7 1176.5h0M195.8 1244.7h0" stroke="#991ca1" stroke-width="4.40"/>
<path d="M198 1209.9h0M199.5 1240.9h0M199.2 1207.5h0M198.5 1211.8h0M199.4 1223h0M198.7 1232.4h0M197.7 1204.9h0M198.5 1205.2h0M198.2 1240.1h0M199.4 1207.8h0M198.6 1226.9h0M198.5 1204.3h0M198.4 1260.5h0" stroke="#a60f9b" stroke-width="4.40"/>
<path d="M200.5 1229.2h0M199.5 1247.6h0M200.1 1209.6h0M200.5 1219h0M200 1254.7h0M201.5 1274.8h0M201.2 1237.6h0M200.9 1238.8h0M200.4 1305.8h0M201.3 1217.9h0M200 1251.7h0M200 1230.4h0M200.3 1207.2h0M200.7 1262.8h0M200.1 1246.5h0M201 1215.7h0M200.5 1227.6h0M199.5 1231.7h0" stroke="#b20095" stroke-width="4.40"/>
<path d="M202 1238.9h0M202.3 1256.6h0M203 1245.8h0M201.6 1243.3h0M202.5 1219.5h0M203.1 1246.3h0M203.2 1241.1h0M201.6 1252.4h0M202.7 1235.3h0M203 1272h0M202.7 1328.6h0M202.5 1245.9h0M202.7 1246.2h0M202.5 1246.2h0" stroke="#bd008f" stroke-width="4.40"/>
<path d="M205.3 1286.9h0M204.1 1266.6h0M204.6 1245.1h0M205 1251.5h0M203.8 1258.9h0M203.8 1241.2h0M204.7 1296.6h0M204.6 1330.7h0M204.5 1221.6h0M205.6 1238.2h0M205.5 1340.6h0" stroke="#c70087" stroke-width="4.40"/>
<path d="M206.1 1248.2h0M206.1 1318.1h0M206.4 1222h0M205.8 1220.8h0M206.1 1268.2h0M206.9 1231.3h0M207.2 1258.9h0M206.9 1346.6h0" stroke="#d10080" stroke-width="4.40"/>
<path d="M209.2 1272.8h0M209.5 1224.3h0M209.6 1250.5h0M209.2 1239.3h0" stroke="#d80078" stroke-width="4.40"/>
<path d="M211.5 1233.3h0M211.5 1270.5h0M210.9 1223.9h0M211.2 1261.5h0M210.3 1321.8h0" stroke="#e00070" stroke-width="4.40"/>
<path d="M212.9 1225.5h0M213.3 1244.3h0M212.7 1253.9h0M213.8 1241.2h0M212.6 1224.6h0M213 1268.2h0" stroke="#e60067" stroke-width="4.40"/>
<path d="M215.9 1361.5h0M215.8 1235.9h0M215.3 1265.1h0" stroke="#eb005e" stroke-width="4.40"/>
<path d="M217.6 1354.1h0M217.6 1241.2h0M216.1 1261.2h0M217.6 1262.8h0M217.6 1288.6h0" stroke="#f00056" stroke-width="4.40"/>
<path d="M232.9 1351.2h0M412.6 1236.4h0M225.3 1257.4h0M226.4 1261.2h0M260.7 1262h0M250.4 1283.4h0M228.4 1258.2h0M226.9 1275.1h0M219.9 1287.4h0M243.5 1287.4h0M261 1254.6h0M290.8 1281.2h0M246.1 1308.9h0M223.8 1234.9h0M272.7 1242.8h0M222.3 1268.9h0M229.5 1300.9h0M220.7 1242.8h0M268.4 1282.4h0M228.7 1324h0M344 1227h0M250.7 1334.7h0M503.1 1331.7h0M264.1 1281.4h0M282.2 1357.5h0M260.7 1264.6h0M269 1345.8h0M235 1301.2h0M223 1275.1h0M237.9 1298.3h0M302 1248.2h0M226.4 1263.8h0M241.5 1249.9h0" stroke="#f0004c" stroke-width="4.40"/>
</g>
<g class="d">
<path d="M699.1 1178h0M695.9 1167.3h0M695.5 1187h0M681.5 1202.5h0M690.4 1159.2h0M665.2 1137h0M706.5 1198.9h0M695.8 1185.5h0M671.5 1168.1h0M628.6 1193.8h0M703.3 1159.6h0M645.3 1180.4h0M691.1 1187.3h0M677.9 1139.8h0M671.9 1196.8h0M703.8 1193.6h0M682.2 1192.5h0M697.2 1188.6h0M669.6 1200.7h0M701.2 1194.5h0M678.9 1181h0M660.1 1173.6h0M690.3 1189.3h0M683.5 1184.8h0M663 1184.1h0M652.4 1170.2h0M693.3 1187.3h0M690.8 1191.5h0M648.4 1194.8h0M706.8 1197.4h0M698.3 1174.8h0M650 1187.1h0M691 1106.7h0M695.6 1189.4h0M689.2 1196.4h0M679.9 1198.4h0M707.8 1196.8h0M702.2 1192.3h0M679.2 1194.5h0M703.3 1203.3h0M700.6 1185.5h0M652.3 1185.3h0M663.8 1190.2h0M707.5 1213.9h0M697.5 1191.5h0M686.4 1201h0M704.5 1196.1h0M621.2 1227.1h0M700 1195.8h0M702.6 1189.2h0M631.2 1190.7h0M698.9 1181.7h0M654.6 1183h0M705.7 1200.4h0M708 1216.8h0M695 1121h0M695.9 1205.4h0M660 1166.1h0M679.2 1205.3h0M676.1 1192.2h0M667.6 1193h0M703.8 1197.5h0M667.3 1188.7h0M707.3 1182.2h0M708 1217.5h0M677.9 1165.6h0M706.4 1205.8h0M649.3 1221.9h0M698.5 1194.5h0M681.9 1084.9h0M700.3 1194.3h0M702.4 1197.3h0M707.1 1204.3h0M694.2 1194.7h0M706.4 1194.9h0M676.9 1163h0M695.9 1186.8h0M703.6 1196.3h0M689.2 1187.9h0M683.8 1159.9h0M702.7 1180.4h0M700.3 1197.3h0M693.9 1171.2h0M695.1 1197h0M694.2 1176.5h0M706.6 1210.6h0M703.8 1149.3h0M614.1 1305.8h0M666.1 1186.1h0M687.8 1230.2h0M644.6 1177h0M698.4 1184.1h0M651.5 1193h0M698.2 1171.1h0M703.9 1197h0M693.8 1156.1h0M707 1201.1h0M696.1 1178.4h0" stroke="#0083ec" stroke-width="4.40"/>
<path d="M711.9 1204.4h0M709.1 1209.4h0M710.4 1198.1h0M712.5 1201.1h0M708.4 1175.5h0M709.2 1206.3h0M709.9 1200.3h0M710.9 1222.7h0M709.8 1204.9h0M708.6 1203.3h0M710.8 1197.4h0M713.7 1202.6h0M709.1 1198.2h0M710.3 1205.5h0M709.2 1202.1h0M712.9 1213.4h0M710 1192.6h0M712.8 1204.7h0M709.3 1203h0" stroke="#007dea" stroke-width="4.40"/>
<path d="M715.9 1204.1h0M716.5 1203.4h0M718.9 1205.3h0M715 1202.9h0M718.2 1206.7h0M720.5 1209.7h0M716.7 1215.6h0M719.1 1199.7h0M717.7 1207.4h0M715.8 1139.5h0M716.8 1164.2h0M719 1198.9h0M719 1196.8h0M716.9 1194.4h0M715 1198.8h0M719.1 1224.8h0M714.7 1203h0" stroke="#0076e7" stroke-width="4.40"/>
<path d="M722 1205.6h0M725.9 1206.3h0M723.1 1207.4h0M726.4 1167.9h0M722.9 1210.5h0M721 1214.9h0M722.1 1215h0M726 1206.5h0M724.5 1205.4h0M723.8 1224.5h0M721.9 1200.2h0M724.7 1205.2h0M724.7 1207.6h0M726.4 1240.3h0M722.9 1212h0M723.4 1218.1h0M725.3 1201.9h0M722.7 1206.7h0M725.3 1185.3h0" stroke="#0071e3" stroke-width="4.40"/>
<path d="M727.3 1202.9h0M731.8 1197.6h0M731.3 1208.5h0M730.8 1220.6h0M733 1170.2h0M728.3 1208.9h0M731.3 1207.5h0M731.4 1215.5h0M727.9 1178.7h0M730.2 1209.3h0M727.7 1212h0M730.5 1218.4h0M728.8 1172.2h0M731 1241.4h0M732.2 1159.2h0M727.6 1188.4h0M730.6 1202.3h0M728.9 1206.3h0M731.9 1183.3h0M732.1 1203.7h0M729.9 1217.7h0M733 1232.6h0M732.6 1203.8h0M728.5 1205.6h0M730.8 1206.5h0M727.6 1217.8h0M730.9 1212.2h0M729.3 1222.8h0M732.4 1206.2h0M728.4 1235.3h0M732 1220.2h0" stroke="#006ae0" stroke-width="4.40"/>
<path d="M735.6 1153.9h0M737 1203.8h0M736.2 1210.7h0M736.9 1206.4h0M734.8 1194.5h0M735.4 1198.6h0M737.1 1166.5h0M737.2 1217.4h0M738.7 1204.5h0M738.6 1210.9h0M739 1214.9h0M739.6 1179.9h0M734.4 1201.1h0M738.8 1222.8h0M738.4 1208.3h0M733.7 1158.4h0M736 1185h0M739.6 1204.6h0M739.6 1213.5h0M733.4 1208.3h0M733.6 1209.8h0M736.3 1215.1h0M738 1213.2h0M736.2 1212.4h0" stroke="#3263da" stroke-width="4.40"/>
<path d="M740.7 1151.8h0M745.9 1212.5h0M744.9 1224.8h0M745.3 1158.9h0M741.4 1207.8h0M740.1 1208.1h0M744.6 1203.4h0M745 1200.4h0M743.1 1199.8h0M743.3 1217.7h0M739.8 1223.7h0M745.7 1222.7h0M740.7 1204h0M740.9 1200.3h0M741.9 1202.2h0M743.7 1159.2h0M741.9 1219.4h0M741.9 1208.1h0M744.8 1153.9h0" stroke="#4c5bd4" stroke-width="4.40"/>
<path d="M752.1 1232.1h0M751.9 1210.6h0M748.8 1232.7h0M748.3 1186.1h0M747.1 1221.2h0M751.7 1223.2h0M747 1203.9h0M749.1 1189.1h0M746 1225.3h0M747.6 1171.5h0M751.6 1215.6h0M751.8 1229.3h0M747.8 1200.4h0M752.2 1244.2h0M752.2 1283.4h0M751.1 1208.4h0M748.9 1228.9h0M746.8 1210.4h0M748.6 1227.4h0M748.8 1166.4h0M749.7 1229.1h0M749.9 1219h0M746 1178.4h0M748.3 1206h0M748.4 1212.4h0M751 1208.5h0M750.6 1198.4h0M749.2 1207.5h0" stroke="#5f54cd" stroke-width="4.40"/>
<path d="M756.8 1248h0M754.3 1204.3h0M752.9 1217.9h0M753 1213.8h0M757.1 1164.9h0M757.2 1233.5h0M753.9 1212h0M753.7 1191.4h0M753.9 1216.3h0M755.1 1212.6h0M755.7 1225.7h0M756.3 1210.9h0M755.9 1178.7h0M758.2 1241.2h0M753.1 1201.6h0M753.7 1220.8h0M758.2 1227.7h0M756 1231.1h0M754.4 1204.4h0" stroke="#6e4ac4" stroke-width="4.40"/>
<path d="M763.8 1219.7h0M764.5 1261.9h0M761.5 1242.4h0M761.2 1216.2h0M760 1241.4h0M763.5 1218.3h0M758.8 1234.7h0M764.2 1239.3h0M762 1234.8h0M764.8 1219h0M759.4 1220h0M764.2 1212.7h0M764.4 1243.5h0M760.4 1238.9h0M761 1239.1h0M759.3 1236.9h0M762 1244.3h0M758.9 1244.6h0M761.2 1219.2h0M760.6 1215.3h0M764.8 1240h0M760.1 1239.7h0M761.6 1213.1h0M760.1 1215.2h0M762.4 1236.3h0M764 1199.1h0M762.2 1237.5h0M764.8 1239.2h0M764.7 1239h0" stroke="#7a41bc" stroke-width="4.40"/>
<path d="M766.9 1232h0M765.3 1276.5h0M770 1241.6h0M770.9 1247.9h0M768.8 1238.4h0M765.4 1247.1h0M766.3 1217.6h0M765.6 1164.9h0M769.4 1300.1h0M769.2 1244.7h0M765.9 1243.2h0M766.5 1240.7h0M767.1 1238.8h0M769.6 1201.9h0M767.6 1242h0M769.1 1267.5h0M767 1226.3h0M769.9 1219.1h0M766.9 1250.3h0M770.3 1248.5h0M771 1244.8h0M771.1 1250.4h0M766.6 1225.7h0M769.9 1193.8h0M767.8 1242.6h0" stroke="#8537b3" stroke-width="4.40"/>
<path d="M773.2 1257.9h0M773.8 1243.9h0M772.9 1292.9h0M776 1298h0M772.2 1219.9h0M771.4 1290.6h0M775.2 1291.7h0M775.1 1246.6h0M772.9 1254.5h0M771.7 1219.7h0M772 1241.4h0M773.9 1266.2h0M773.7 1248.3h0M776.5 1278.3h0M772.5 1220.9h0M772.1 1218.8h0M776.2 1244.4h0M775.5 1218.5h0M776.5 1248.3h0M774 1248.6h0M776.4 1214.8h0M775.1 1263.9h0" stroke="#8e29a8" stroke-width="4.40"/>
<path d="M780.2 1252.4h0M780.3 1224.7h0M782.6 1283.4h0M777.9 1224.1h0M783.3 1230h0M780.3 1214.1h0M781.8 1254.4h0M778.6 1251.1h0M779.3 1216h0M780.1 1264h0M779.7 1252.9h0M779.6 1252h0M782.4 1232.3h0M780.1 1249.3h0M783.4 1221.1h0M781.5 1263.5h0M780.8 1267.5h0M782.2 1192.5h0M780.2 1265.7h0" stroke="#991ca1" stroke-width="4.40"/>
<path d="M789.5 1249.8h0M789.8 1227h0M788.9 1233.6h0M789.5 1259.8h0M790 1271.5h0M784.5 1224.8h0M788.6 1227.9h0M788.2 1262.9h0M789.9 1255.1h0M789.6 1233.6h0M787.6 1263.5h0M788.6 1250.5h0M788.3 1230.5h0M786.3 1294.9h0M784.6 1250.3h0M787.4 1251.1h0M786.6 1251.5h0M785.8 1256.4h0M786.8 1229.2h0M787.5 1267.7h0M784.2 1224.4h0M790 1196.4h0M786.8 1160.2h0M783.9 1268h0" stroke="#a60f9b" stroke-width="4.40"/>
<path d="M794.3 1267.4h0M790.6 1274.2h0M791.3 1269.8h0M794.5 1271.8h0M794 1260.6h0M791.6 1223.1h0M795.1 1256.6h0M794.7 1271.4h0M793 1263h0M792.2 1298.6h0M795.2 1271.4h0M791.3 1272.4h0M793.7 1247.9h0M791.2 1222.7h0M795.2 1263.9h0M792.2 1258.1h0M793.3 1235.6h0M790.2 1263.1h0M793.7 1260.5h0M794.4 1236.9h0M790.3 1257.8h0M792.3 1230.7h0M790.3 1239.9h0M791.2 1254h0M793.8 1263.6h0M791 1250.7h0M795.2 1259.4h0M791.4 1280.6h0M790.8 1255.5h0M796.1 1220.6h0M795.4 1232h0M792.4 1218.5h0M791.6 1225.2h0M796 1250.6h0M793.2 1256.5h0M793.7 1281.8h0" stroke="#b20095" stroke-width="4.40"/>
<path d="M802.6 1257.9h0M797.1 1229.1h0M796.6 1226.4h0M797.9 1254.8h0M796.9 1229.7h0M800 1228.4h0M798.5 1257.8h0M799.7 1229.3h0M797.5 1227.9h0M798 1252.5h0M796.5 1298h0M801.5 1237.6h0M798.1 1233h0M800.8 1252.9h0M798.1 1251.7h0" stroke="#bd008f" stroke-width="4.40"/>
<path d="M804.6 1252.2h0M804.6 1306.7h0M808.4 1312.1h0M802.8 1296.3h0M803.1 1309h0M804.9 1262.2h0M803.1 1300.6h0M807.1 1286.1h0M808.1 1233h0M806.9 1308h0M803.5 1274.5h0M807.7 1236h0M803.1 1243.7h0" stroke="#c70087" stroke-width="4.40"/>
<path d="M810 1314.4h0M813.1 1252.9h0M809.2 1240.6h0M811.5 1282.5h0M811.1 1275.5h0M810.7 1269.8h0M810.7 1260.6h0M815 1229.9h0M814.6 1244.5h0M810.7 1316.4h0M812.3 1235.3h0" stroke="#d10080" stroke-width="4.40"/>
<path d="M821.2 1226.3h0M821.2 1247.9h0M815.7 1247.6h0M821.2 1316.9h0M816.6 1268.8h0M820 1261.4h0M817.7 1256.8h0M821.5 1256h0M816.9 1236.8h0M816.1 1234.5h0" stroke="#d80078" stroke-width="4.40"/>
<path d="M824.6 1239.1h0M824.6 1312.9h0M826.9 1308.7h0M823 1258.3h0M822.3 1282.9h0M827.7 1253.4h0M826.1 1235.3h0M825 1277.1h0M823 1236.8h0" stroke="#e00070" stroke-width="4.40"/>
<path d="M833 1231.4h0M830.7 1232.2h0M828.9 1280.3h0M830.4 1261.7h0M831.5 1239.9h0M830.4 1328h0M832.7 1252.5h0" stroke="#e60067" stroke-width="4.40"/>
<path d="M837.3 1226.5h0M835.3 1234.5h0M836.9 1244.8h0M837.6 1258.3h0M839.8 1328.9h0M834.6 1259.4h0M837.2 1339.2h0M834.4 1282.1h0" stroke="#eb005e" stroke-width="4.40"/>
<path d="M840.9 1353.3h0M842 1221.6h0M840.6 1269.8h0M844.6 1235.3h0M846.4 1318.1h0M842.3 1233.7h0M845.6 1240.3h0M841.5 1347.5h0M845.6 1333.2h0" stroke="#f00056" stroke-width="4.40"/>
<path d="M882.5 1351.6h0M887.6 1235.4h0M867.2 1173.6h0M870.9 1299.1h0M871.3 1235h0M880.8 1274.8h0M899.3 1240.6h0M850.7 1283.7h0M859.2 1239.9h0M913.7 1268.8h0M866.1 1364.2h0M870.9 1260.9h0M860.9 1255.2h0M892.7 1191h0M875 1242.8h0M868.2 1256.6h0M855.6 1285.7h0M916 1269.2h0M852.6 1259.4h0M879.6 1239.7h0M868.4 1364.7h0M862.4 1281.8h0M849.2 1230.6h0M860.2 1231.9h0M945.3 1284.9h0M860.2 1286h0M853.2 1314h0M863 1304h0M909.3 1262.3h0M851.6 1291.5h0M926 1244.5h0M952.3 1257.2h0M861.2 1208.8h0M858.4 1236.8h0M856.1 1241.4h0" stroke="#f0004c" stroke-width="4.40"/>
</g>
<g class="d">
<path d="M164.2 1586h0M166 1669h0M166.4 1557h0M172.1 1601.7h0M170.4 1615.5h0M168.3 1590.3h0M165.5 1600.1h0M167.2 1603.8h0M171.4 1587.8h0M170 1579.7h0M166.1 1634.5h0M165.4 1642.1h0M170 1628.3h0M170.8 1631.2h0M170.6 1583.1h0M170.5 1587.7h0M172.4 1580.9h0M171.8 1597.3h0M170.8 1624.7h0M167.2 1622.8h0M167.4 1627.5h0M169.4 1574.9h0M167.2 1596.1h0M169.4 1579.8h0M167.1 1583.3h0M165.4 1600.2h0M163.9 1618.7h0M171.6 1585.9h0M165.8 1586.3h0M168.2 1591.6h0M164.6 1589.4h0M164.1 1607.1h0M165.4 1648.3h0M172.3 1585.8h0M172 1630.8h0M165.8 1586.3h0M169.4 1583.1h0M171.5 1606.4h0M166.1 1723.5h0M167.2 1601.7h0M167.1 1680.3h0M166.3 1631.9h0M167.7 1642.9h0M170.6 1606.2h0M164.3 1597.5h0M171.9 1596.2h0M170.2 1625.6h0M169.9 1585.6h0M165.1 1597.5h0M163.9 1599h0M167.8 1581.1h0M166.4 1618.9h0M171.1 1606.5h0M169.5 1614.7h0M169.2 1583.6h0M167.7 1584.5h0M167.9 1614.8h0M164.9 1589h0M168.9 1579.1h0M171.9 1581.2h0M172.2 1573.9h0M170.8 1578.7h0M166.5 1588.3h0M164.1 1590.6h0M165 1642.7h0M166.1 1629.3h0M164.7 1609.8h0M167.7 1638.3h0M169.2 1612.6h0M171.6 1609.8h0M166 1587.8h0M165.6 1600h0M172.6 1602.4h0M167 1640.7h0M170.6 1581.5h0M165.7 1627.3h0M169.2 1619.4h0M166.2 1602.6h0M171.5 1578.1h0M166.8 1634.7h0M170.1 1573.2h0M165.7 1541.9h0M167.3 1612.6h0M164.6 1629.3h0M164 1582.5h0M164.4 1645.7h0M170.8 1583.9h0M164.7 1604.3h0M168.1 1654.8h0M164.5 1584.1h0M168.1 1650.1h0M170.5 1631.9h0M166.8 1587h0M168.8 1626.3h0M165.5 1704.9h0M164 1581.9h0M171.9 1587h0M168.3 1585.1h0M169 1625.6h0M170 1624.1h0M166.7 1582.5h0M169.6 1613.2h0M164.9 1620.2h0M164.1 1577.5h0M171.8 1605.1h0M172 1590.5h0M172.5 1614.3h0M166.9 1656.7h0M165.5 1640.3h0M171.6 1590.9h0M171.8 1582h0M164.3 1584.5h0M171.7 1631.3h0M169.5 1598.7h0M165.2 1607.4h0M170.9 1602.1h0M165 1582.1h0M168.5 1581.5h0M171.8 1621.9h0M170.3 1585.6h0M168.2 1629.4h0M165.5 1645.2h0M169.4 1585.8h0M165.6 1625.1h0M170.8 1636.8h0M164.3 1615.1h0M164.2 1602.3h0M164.6 1584.5h0M171.5 1627.4h0M168.4 1665.5h0M163.8 1590.9h0M166.1 1617.9h0M166 1577.5h0M165.1 1600h0M166 1591h0M168.6 1610.8h0M164 1599.7h0M165.6 1584.9h0M172 1593.8h0M164.9 1625.4h0M166.1 1652.9h0M170.5 1617.6h0" stroke="#0083ec" stroke-width="4.40"/>
<path d="M183 1592.3h0M180.3 1607.5h0M177.1 1617.3h0M175.1 1587.7h0M176.5 1577.8h0M184.7 1577.3h0M176.2 1584.4h0M173.1 1605.2h0M173.4 1622.6h0M173.3 1580.7h0M183.4 1610.8h0M175.1 1591.9h0M178.9 1612.6h0M175.1 1606.9h0M182.3 1622.2h0M172.9 1588.4h0M176.9 1606.7h0M173.3 1574.4h0M176.2 1616.3h0M176.1 1579h0M173.2 1586.4h0M186.7 1581.6h0M178.7 1576.8h0M175.7 1598h0M177.7 1583.4h0M174.9 1637.2h0M175 1601.5h0M172.9 1582.5h0M178.5 1614.1h0M178.1 1582.9h0M185.3 1595.6h0M177 1576.2h0M177.6 1599.3h0M179 1585h0M180.7 1583.4h0M176.9 1620.1h0M179 1608.9h0M173.4 1589.1h0M173.2 1613.6h0M182.5 1578.5h0M173.7 1631.4h0M176.7 1583.4h0M186.6 1578.7h0M176.7 1603.2h0M179.3 1610.3h0M181.8 1596.8h0M174.5 1609h0M174.2 1584.8h0M173 1593.6h0M178.8 1617.2h0M176 1608.4h0M187.3 1575.3h0M181.5 1611.8h0M175.3 1590.4h0M173.4 1584.9h0M178.4 1585.6h0M181.3 1595.5h0M179.3 1610.3h0M177.2 1614.5h0M179.2 1603h0M186.9 1597.4h0M180.3 1617.1h0M179.5 1602.4h0M178.3 1597.4h0M179.8 1601.1h0M179.6 1579.4h0M177.6 1600.9h0M184.4 1595.2h0M175.4 1583.4h0M183.4 1612.1h0M179.4 1577.1h0M173 1607.1h0M179.3 1605.8h0M182.9 1583.2h0M183.1 1595.9h0M174.1 1599.4h0M178.9 1586.8h0M181.9 1608.8h0M173.7 1588.6h0M176.8 1608.9h0M174.6 1602.9h0M175.2 1603.2h0M173.3 1594.8h0M173.9 1577.7h0M177.2 1603.7h0M173.3 1624.5h0M178.3 1582.8h0M173.8 1584.2h0M181.7 1576.5h0M173.9 1606h0M187.3 1580.1h0M178.1 1581.1h0M173.6 1589.6h0M176.5 1608.4h0M176.9 1594.2h0M173.1 1607.3h0M174.5 1581.5h0M178.2 1573.7h0M179.5 1580.1h0M177 1583.5h0M177.7 1617.1h0M184 1594.6h0M176.3 1603.5h0M176.1 1583.5h0M177.5 1606.6h0M177.7 1600.6h0M177.4 1580h0M177.5 1614.9h0M176.4 1574.6h0M185 1596.4h0M184.9 1593.5h0" stroke="#007dea" stroke-width="4.40"/>
<path d="M188.7 1596.6h0M189.7 1592.5h0M194 1592.3h0M197.7 1554.5h0M200.4 1569.1h0M196.7 1593.5h0M198.9 1577.9h0M187.7 1608.3h0M200.3 1620.9h0M194.6 1580h0M197 1596.4h0M202.1 1579.7h0M200.1 1582h0M193.1 1593.4h0M191.8 1594.1h0M189.2 1593.3h0M200.5 1593.7h0M195.5 1583.7h0M190.2 1597.8h0M191.7 1579.7h0M198.7 1579.4h0M194.5 1593.6h0M193.2 1594.9h0M187.7 1596.6h0M194.5 1575.9h0M192.4 1550.4h0M190.4 1566.5h0M192.3 1574.5h0M201 1577.1h0M200.9 1579.7h0M195.5 1596.1h0M189.6 1595.9h0M199.1 1596.7h0M201.2 1637.1h0M198.9 1573.5h0M195.7 1597.9h0" stroke="#0076e7" stroke-width="4.40"/>
<path d="M204 1591.6h0M202.8 1576.2h0M216.9 1548.1h0M204.7 1594.2h0M209.6 1588.7h0M208 1577.2h0M203.5 1565h0M214.9 1613.9h0M207.8 1590.2h0M214.3 1577.7h0M213.3 1570.7h0M209.2 1610.6h0M205.8 1581.3h0M209.6 1580.5h0M209.7 1591.4h0M216 1573.1h0M207 1590.3h0M204.9 1618.5h0M206.9 1566.8h0M205.3 1576.9h0M208.2 1591.5h0M208.3 1572.7h0M207.6 1577.9h0M212 1561.6h0M202.3 1576.6h0M202.3 1527.6h0" stroke="#0071e3" stroke-width="4.40"/>
<path d="M226.4 1580h0M222.3 1537.6h0M231.5 1581.4h0M217.8 1573.2h0M217.9 1577.5h0M225.2 1627.5h0M223 1572.5h0M223.8 1522.5h0M229.9 1570.7h0M225.9 1571.8h0M220.6 1567.2h0M226.4 1591.7h0M223.8 1579.9h0M225.5 1579.4h0M229.4 1561.2h0M229.8 1612.2h0M221.9 1567.5h0M221.8 1573.6h0M221.5 1580.2h0M223 1602.9h0M223.8 1599.1h0M226.6 1565.9h0M217.3 1575.7h0M217.6 1596h0M223.8 1586h0M224.3 1540.2h0M230.1 1574h0" stroke="#006ae0" stroke-width="4.40"/>
<path d="M231.7 1572h0M232.3 1575.5h0M241.1 1577.9h0M238.8 1573.4h0M232.5 1568h0M239.2 1575.6h0M240.5 1580h0M237.5 1581.4h0M236.1 1586.8h0M238.9 1600.3h0M236.1 1600.3h0M235.3 1589.1h0M240.7 1594h0M241.5 1587.1h0M236.9 1575.6h0M233.2 1572.4h0M238.9 1516.9h0M237.3 1574.1h0" stroke="#3263da" stroke-width="4.40"/>
<path d="M261 1574h0M255.5 1563h0M256.5 1569.9h0M248.8 1523h0M253.3 1576h0M253.8 1579.9h0M260.7 1594.2h0M249.2 1571.4h0M258.4 1586.8h0" stroke="#4c5bd4" stroke-width="4.40"/>
<path d="M274.2 1569.1h0M268.4 1569.4h0M271.4 1581.4h0M270.4 1599.1h0M271 1577.3h0M266.1 1578.8h0M268.4 1610.6h0M273 1621.7h0M263.5 1557.9h0M273.8 1588.6h0M263.8 1594.8h0" stroke="#5f54cd" stroke-width="4.40"/>
<path d="M289.1 1624h0M278.7 1621.4h0M283 1596.8h0M282.2 1577.9h0M277.9 1581h0M279.9 1596h0M278.8 1604.5h0M285.6 1598.8h0M287.6 1574h0M286 1577.9h0M289.9 1593.7h0" stroke="#6e4ac4" stroke-width="4.40"/>
<path d="M298.3 1581.4h0M301.9 1596.8h0M293.9 1600.9h0M290.7 1618.6h0M293.7 1589.9h0M293.3 1596.8h0M298.3 1595.3h0M292.2 1593h0M295 1547.1h0M303.7 1575.3h0M299.9 1578.3h0M296 1579.1h0" stroke="#7a41bc" stroke-width="4.40"/>
<path d="M309.4 1588.3h0M306 1576h0M315.3 1572.2h0M311.4 1579.1h0M306 1599.6h0M314.8 1594h0M309.1 1570.7h0M315 1615.5h0M306.8 1583h0M314.2 1579.1h0M318.3 1573.7h0M308 1604h0" stroke="#8537b3" stroke-width="4.40"/>
<path d="M330.2 1594.2h0M323.7 1570.2h0M333.2 1521.8h0M326.5 1634h0M333.7 1564.8h0M320.6 1575.3h0M326 1566h0M332.6 1568.4h0M328 1562.5h0M332.9 1571.7h0M323.1 1626.8h0M325.2 1580.3h0M322.9 1576h0M326.8 1589.4h0" stroke="#8e29a8" stroke-width="4.40"/>
<path d="M335.2 1585.6h0M340.3 1559.9h0M347.1 1585.7h0M335.5 1598h0M338.3 1573h0M343.7 1563.7h0M340.6 1583.4h0" stroke="#991ca1" stroke-width="4.40"/>
<path d="M357.7 1573.7h0M349.4 1564.2h0M358.4 1569.9h0M356.9 1572.2h0M349.4 1575h0" stroke="#a60f9b" stroke-width="4.40"/>
<path d="M370.7 1566.8h0M374.1 1569.4h0M365.7 1626.2h0M366.9 1560.7h0M368.7 1650h0M366.6 1566h0M366.4 1584.7h0M370.9 1506.9h0" stroke="#b20095" stroke-width="4.40"/>
<path d="M379.8 1585.7h0M393.3 1560.2h0M384.9 1572.5h0M393.3 1555h0M386.9 1583.7h0M391.8 1587.1h0M383.8 1569.1h0M381.7 1579.1h0M379.2 1564.5h0M388.7 1568.4h0M380.7 1562.2h0M378.9 1548.8h0M380.7 1569.1h0" stroke="#bd008f" stroke-width="4.40"/>
<path d="M401 1557.3h0M405 1567.1h0M401 1578.3h0M401 1585.7h0M398.4 1558.1h0M396.1 1566.8h0M403.8 1579.4h0M403.2 1548.4h0" stroke="#c70087" stroke-width="4.40"/>
<path d="M409.5 1547.1h0M408.4 1544.5h0M422.2 1558.4h0M416.4 1569.1h0M415.6 1538.8h0M411 1565.3h0M411.9 1557.9h0M421.5 1562.5h0M420.7 1565.3h0M408.4 1565.3h0M419.9 1560.7h0" stroke="#d10080" stroke-width="4.40"/>
<path d="M437.3 1518.5h0M423.2 1585.4h0M423 1535.1h0M424.1 1557.6h0M430.7 1579.6h0M429.9 1567.6h0" stroke="#d80078" stroke-width="4.40"/>
<path d="M446.1 1601.4h0M446.1 1565h0M444.2 1550.1h0M449.9 1539.3h0M444.7 1530.8h0M449.9 1591.7h0" stroke="#e00070" stroke-width="4.40"/>
<path d="M458.8 1530.7h0M455.7 1623.9h0M462.5 1556.4h0" stroke="#e60067" stroke-width="4.40"/>
<path d="M481.4 1553.9h0M467.7 1538.4h0M479.9 1571.9h0M471.7 1443.5h0M469.4 1557.1h0" stroke="#eb005e" stroke-width="4.40"/>
<path d="M495.9 1547.4h0M486.8 1571h0M492 1496.7h0M486 1560.2h0M490.5 1551.8h0" stroke="#f00056" stroke-width="4.40"/>
<path d="M503.7 1502.9h0M503.7 1549.1h0M503.7 1551.4h0M503 1530.1h0M503.7 1552.9h0M503.7 1536.4h0M503.7 1563h0M501.9 1527.3h0M503.7 1616.2h0M503.7 1553h0M503.7 1462.1h0M503.7 1540.1h0M503.7 1538.5h0M503.7 1544.9h0M503.7 1555.7h0M503.7 1537.3h0M503.7 1555.8h0M503.7 1539.6h0M503.7 1605.7h0M503.7 1489.6h0M503.7 1542.6h0M502.7 1534h0M503.6 1533.4h0M503.7 1551.8h0M503.7 1550.4h0M503.7 1549.2h0M503.7 1552.4h0M503.7 1544.7h0M503.7 1539.3h0M503.7 1522.2h0M503.7 1553h0M503.7 1544.8h0M503.7 1589.9h0M503.7 1540.9h0M503.7 1537.1h0M503.7 1509.5h0M503.7 1532.7h0M503.7 1544.8h0M503.7 1534.8h0M503.7 1546.4h0M503.7 1550h0M503.7 1540.4h0M503.7 1495.2h0M503.7 1556.2h0M504.7 1524.2h0M503.7 1556.8h0M503.7 1524.5h0" stroke="#f0004c" stroke-width="4.40"/>
</g>
<g class="d">
<path d="M626.1 1612.9h0M637.2 1631.8h0M634.6 1694h0M639.2 1588.3h0M634.7 1632.8h0M627.6 1609.1h0M620.1 1510.9h0M634.3 1622.5h0M640.2 1582.4h0M632.1 1603.1h0M632.3 1621.6h0M635.4 1651h0M632.6 1619.6h0M630.7 1671h0M627 1616.9h0M629.6 1605.1h0M632.6 1635.9h0M625.4 1637.1h0M640.6 1606.3h0M633.4 1600.3h0M636 1602.4h0M635.3 1643.4h0M619.7 1617.2h0M638.6 1626.2h0M623.1 1590.3h0M632.6 1618h0M628.6 1596.8h0M629.8 1595.9h0M629.9 1622h0M617.7 1610.2h0M633.8 1612h0M632 1647.2h0M632.3 1651.7h0M634.8 1635.8h0M636.3 1720.9h0M623.8 1572.9h0M637.2 1634.2h0M622 1693.6h0M638.5 1633.9h0M640.3 1595.6h0M635.2 1593.4h0M640.4 1629.5h0M637.3 1626.8h0M631.7 1606.8h0M635.7 1605.7h0M633.8 1670.7h0M630.2 1600.1h0M639.1 1616.8h0M634.3 1593.3h0M631 1633.4h0M640.8 1589h0M637.9 1591.7h0M632.4 1626.2h0M637.7 1649.2h0M629.3 1609.9h0M620 1558.4h0M635.6 1597.3h0M622 1560.3h0M631.7 1634.9h0M638.4 1631.4h0M616 1564.4h0M636.6 1616.9h0M631.6 1625.1h0M632.5 1591.1h0M626.1 1615h0M630.6 1612.5h0M636.4 1596.6h0M638.2 1604.3h0M637.9 1592.4h0M619.2 1578.7h0M616.9 1578.7h0M638.4 1597h0M623.8 1634.1h0M640.9 1611.1h0M620 1588h0M631.2 1630h0M637.2 1596.4h0M635.3 1595.7h0M625.4 1607.9h0M640.3 1669.4h0M617.7 1605.6h0M632.4 1638.9h0M627 1626.5h0M630.8 1600.4h0M631.5 1595.3h0M633.9 1627.5h0M635.6 1619.4h0M637.6 1592.9h0M624.1 1661.7h0M640.5 1623.5h0M632.2 1622.8h0M633.1 1619h0M635.4 1595.6h0M635.7 1592.3h0M639.2 1605.5h0M628.7 1628.2h0M636.1 1657.4h0M636.8 1645.2h0M631.3 1622.9h0M627.7 1580h0M625.9 1615.2h0M620 1625.6h0M636.7 1631.7h0M640.7 1651h0M629.3 1615.1h0M632.1 1597.7h0M636.2 1628.2h0M636.2 1609.5h0M628.4 1672.5h0M629.3 1612.7h0M638.4 1679.4h0M635.3 1596.2h0M640.3 1690.9h0M634.1 1682.8h0M631.9 1631.3h0M639.6 1591.9h0M616.1 1635.6h0M614.6 1585.6h0M630.3 1695.9h0M629 1623.5h0M619.2 1641h0M635.9 1638.9h0M615.4 1586.4h0M630.8 1631.4h0M641 1601h0M627.5 1609.8h0M638.1 1625.9h0M640.4 1581.7h0M637.3 1628.8h0M617.7 1624.1h0M638.6 1604.5h0M639 1620.7h0M618.4 1637.9h0M633.1 1690.9h0M634.6 1657.1h0M639 1595.2h0M634.6 1620.5h0M613.1 1581.8h0M633.3 1648.1h0M640.6 1605.7h0M629.7 1619.6h0M622.3 1598.7h0M639.7 1613.9h0M635.4 1640.1h0M638.8 1634.3h0M633.2 1644.6h0M640.7 1589.5h0M631.6 1618.2h0M634.4 1621.2h0M633.9 1652.5h0M638.7 1595h0M626.8 1615.6h0M633.3 1646.6h0M628 1689.9h0M623.8 1654.4h0M630.7 1630.6h0M617.7 1595.6h0M637.2 1609.1h0M633 1596h0M640.7 1677.1h0M640.8 1590.7h0M631.4 1627.2h0M634.1 1592.2h0M633.6 1628.4h0M623.1 1578h0M626.3 1612.9h0M625.4 1588h0M639 1618.3h0M636.1 1604.4h0M630.6 1608.4h0M628.6 1603.3h0M633.6 1639.3h0M636.1 1690.2h0M639.5 1629.2h0M635.4 1606.6h0M634.1 1598.2h0M633.5 1600h0" stroke="#0083ec" stroke-width="4.40"/>
<path d="M645.2 1589.9h0M643.8 1589.1h0M646.9 1579.8h0M642.8 1593.7h0M645.7 1580.7h0M642.9 1588.6h0M642.6 1618.5h0M646 1581h0M643.7 1588.8h0M644.6 1646.4h0M645.1 1578.1h0M642.1 1618.2h0M646.2 1553h0M645 1601.8h0M643 1647.9h0M643.5 1620.8h0M646.4 1558.4h0M646.9 1639.5h0M643.5 1622.8h0M643.2 1620.3h0M641.6 1588h0M642.6 1625.8h0M646.1 1607h0M646.9 1600.1h0M641.3 1584.7h0M643.2 1621.3h0M646.1 1641.8h0M646.6 1610.8h0M643.8 1600.3h0M643.7 1610.2h0M642.2 1613.3h0M643.8 1590.1h0M643.6 1604.5h0M645.7 1599.9h0M643.8 1613.3h0M645.8 1572.2h0M645.6 1583.1h0M646.7 1572.7h0M644.1 1623.1h0M645.8 1615.7h0M641.4 1615.8h0M644.6 1587.7h0M643.1 1592.3h0M644.7 1609.2h0M644.5 1583.6h0M642.5 1600h0M641.3 1588.2h0M643 1576.5h0M644 1618.6h0M642.6 1587.1h0M645.1 1613.3h0M641.3 1582.9h0M645.5 1602.6h0M641.7 1599.5h0M644.7 1604.9h0M644.8 1599.1h0M641.6 1584.9h0M643.3 1584.4h0M643.1 1613h0M646.5 1580.9h0M643.8 1601.4h0M645.2 1617.4h0M641.5 1625h0M642.8 1579.6h0M644.9 1564.8h0M641.8 1624.1h0M644.3 1603.7h0M643 1599.3h0M643 1581.7h0M644.7 1568.5h0M646.7 1604.2h0" stroke="#007dea" stroke-width="4.40"/>
<path d="M652.6 1580.8h0M649 1552.2h0M648.2 1572.2h0M650.4 1538.8h0M647.8 1549.4h0M650.7 1542.6h0M647.9 1568.4h0M649.4 1551.8h0M651.5 1572.3h0M652.2 1574.5h0M647.9 1572.4h0M650.8 1565.4h0M650.8 1569.1h0M648.1 1574.4h0M649.3 1567.7h0M652.2 1567.5h0M649.2 1575.8h0M649.3 1565.7h0M647.8 1574.7h0M648.6 1565.5h0M647.2 1603.9h0M648.8 1576h0M648 1566.9h0M650.7 1558h0M649.5 1550.2h0M652.3 1552.1h0M652.6 1672.3h0M652.6 1636.8h0M648.4 1553.4h0M647.9 1575.4h0M650.9 1550.3h0M649.8 1571.9h0" stroke="#0076e7" stroke-width="4.40"/>
<path d="M654.9 1570.1h0M657.6 1587.5h0M654.6 1573h0M652.9 1554.8h0M654.7 1584.3h0M656.6 1619.5h0M656.2 1593.9h0M655 1542.8h0M656.7 1576.6h0M657.8 1557.8h0M657.3 1586.7h0M656.6 1648.7h0M656 1593.9h0M657.1 1565.3h0M653.8 1612.5h0M656.7 1593.7h0M654.4 1572.4h0M657.7 1589.2h0M656.2 1598.4h0M655.2 1591.9h0M657.7 1593.5h0M654.6 1579.5h0M656.9 1516h0M656.9 1641.8h0M655.8 1583.9h0" stroke="#0071e3" stroke-width="4.40"/>
<path d="M659.5 1593.7h0M659.8 1588.3h0M660.7 1644.1h0M662.8 1608.7h0M660.5 1591.2h0M663.4 1581.8h0M658.4 1630.2h0M660.6 1575.9h0M663.2 1567.4h0M661.2 1549.7h0M662.1 1556h0M664 1578.9h0M660.2 1575.8h0M663.1 1605.5h0M659.3 1585.5h0M659.9 1589.4h0M660.6 1595.4h0M658.5 1601.8h0M658.6 1569.6h0M663.1 1615.5h0M660.7 1573h0M658.8 1587.7h0M664 1601.5h0M659.6 1591h0M661.5 1603.6h0M659.4 1591.1h0M660.7 1629.8h0" stroke="#006ae0" stroke-width="4.40"/>
<path d="M665.9 1597.7h0M665.4 1597.3h0M667.6 1598.6h0M664.7 1577.5h0M664.6 1650.2h0M667.4 1609.4h0M668.3 1613.2h0M665.7 1580.3h0M669.2 1564.4h0M666.9 1654.1h0M666.8 1586.4h0M664.7 1595.3h0M666.8 1584.8h0M665 1583.6h0M666.3 1604h0M668.8 1576.9h0M668.4 1552.3h0M668.5 1586h0M664.9 1583.1h0M666.8 1594.2h0M664.1 1598.5h0M664.6 1588.5h0M664.2 1618.1h0M669.1 1572h0M667.1 1598.6h0M669.1 1602.5h0M667.7 1612.1h0M666.7 1611.4h0M664.1 1582.3h0M664.6 1641.4h0M666.6 1590.7h0M667.2 1609.5h0M665.9 1590.9h0M665.6 1574h0M668.3 1577.9h0M665.4 1605.1h0" stroke="#3263da" stroke-width="4.40"/>
<path d="M671.8 1581.5h0M669.9 1610.5h0M670.7 1605.6h0M670.5 1580.7h0M672.1 1558.5h0M675.3 1555.7h0M672.5 1572.5h0M673.6 1584.1h0M671.2 1606.3h0M675 1599.9h0M670.5 1570.1h0M673.2 1583.3h0M670.2 1575.4h0M675 1604.6h0M671 1583.9h0M669.8 1608.7h0M673 1584.6h0M674.2 1581.8h0M675.3 1543.4h0M670.6 1584.7h0M674.5 1559.5h0M672.3 1532.3h0M671.4 1577.8h0" stroke="#4c5bd4" stroke-width="4.40"/>
<path d="M679.9 1568h0M678.4 1531.8h0M679 1501.6h0M676.9 1538h0M677.6 1551.8h0M680.7 1534.9h0M676.3 1568.8h0M677.6 1575.7h0M679.9 1557.2h0M676 1612.4h0M676.1 1578.7h0M677.6 1544.9h0M676.9 1569.5h0M677.2 1589.8h0M679.2 1540.3h0M676 1613.4h0" stroke="#5f54cd" stroke-width="4.40"/>
<path d="M686.1 1546.4h0M684.6 1555.7h0M683.8 1548h0M686.1 1574.1h0M683 1561.8h0M681.2 1606.4h0M681.5 1566.4h0M686.1 1563.4h0M683.8 1536.5h0" stroke="#6e4ac4" stroke-width="4.40"/>
<path d="M689.2 1558.7h0M688.4 1569.5h0M687.2 1538.8h0M691 1576.9h0M690.7 1564.9h0" stroke="#7a41bc" stroke-width="4.40"/>
<path d="M694.5 1542.6h0M695.3 1573.3h0M693.8 1551.1h0M695.3 1583.3h0M696.1 1560.3h0" stroke="#8537b3" stroke-width="4.40"/>
<path d="M701.5 1586.4h0M699.9 1557.2h0M699.2 1574.1h0M699.5 1534.9h0M701.5 1548h0" stroke="#8e29a8" stroke-width="4.40"/>
<path d="M707.6 1593.3h0M706.1 1555.7h0M707.6 1531.1h0M706.1 1561.8h0M705 1469.9h0M707.3 1469.9h0M705.3 1542.1h0M703.8 1551.1h0M705.5 1483.6h0M705.3 1566.4h0" stroke="#991ca1" stroke-width="4.40"/>
<path d="M709.6 1519.5h0M713 1558h0M713.8 1484.5h0M709.9 1548.8h0M711.6 1564.1h0M711.6 1454.2h0M710.7 1544.9h0" stroke="#a60f9b" stroke-width="4.40"/>
<path d="M717.6 1532.1h0M717.6 1568.7h0M718.4 1548.4h0M717.6 1560.3h0M717.6 1441h0" stroke="#b20095" stroke-width="4.40"/>
<path d="M721.8 1516.9h0M724.5 1554.9h0M721.9 1586.7h0M724.5 1564.1h0" stroke="#bd008f" stroke-width="4.40"/>
<path d="M729.9 1546.4h0M729.9 1554.9h0M726.8 1564.9h0M729.9 1562.6h0M728.4 1560.3h0" stroke="#c70087" stroke-width="4.40"/>
<path d="M735.3 1548h0M736 1569.5h0M736 1544.1h0M734.8 1487.7h0M732.2 1552.6h0M736 1558h0" stroke="#d10080" stroke-width="4.40"/>
<path d="M739.9 1549.5h0M741.6 1520.6h0M742.2 1553.4h0" stroke="#d80078" stroke-width="4.40"/>
<path d="M744 1561.8h0M743.7 1556.4h0M748 1589.8h0M747.1 1540.6h0" stroke="#e00070" stroke-width="4.40"/>
<path d="M754.5 1544.1h0M752.2 1591.3h0M750.3 1578.3h0M753 1564.1h0M752.2 1625.9h0M753.7 1560.3h0M752.2 1567.2h0" stroke="#e60067" stroke-width="4.40"/>
<path d="M756.2 1534.1h0M758.3 1561.8h0M755.3 1562.6h0" stroke="#eb005e" stroke-width="4.40"/>
<path d="M762.6 1586h0M763 1566.7h0M766.2 1539.4h0M762.6 1577.2h0" stroke="#f00056" stroke-width="4.40"/>
<path d="M910.9 1580.7h0M768.6 1588h0M884.7 1567.4h0M786.8 1555.7h0M773.4 1556.1h0M862.2 1581.8h0M795.1 1578h0M827.8 1591.1h0M793.7 1561.8h0M951.8 1555.6h0M779.1 1550.3h0M778.8 1569h0M780.9 1556.1h0M776.3 1453h0M788.3 1558.7h0M774.8 1563.4h0M910.9 1573.9h0M787.2 1602.4h0M855.1 1545.4h0M922.8 1549.4h0M845.3 1587.7h0M776.6 1643.4h0M833.7 1570.8h0M797.1 1566.1h0M870.3 1604.6h0M851.7 1571.4h0M790.6 1554.1h0M791.4 1561h0M778.6 1585.2h0M851.7 1567.1h0M828.6 1527.4h0M849.5 1582.9h0M823.6 1547.7h0M768.8 1560.3h0M867.8 1570h0M787.5 1585.8h0M872.3 1517.5h0M782.9 1579.5h0M907.3 1554.2h0M910.9 1558.4h0M910.9 1566.3h0M786.6 1538.9h0" stroke="#f0004c" stroke-width="4.40"/>
</g>
<g class="d">
<path d="M172.8 1884.2h0M173.8 1805.4h0M180.8 1829.5h0M178.1 1835.8h0M182.4 1822h0M188.5 1882.9h0M177.3 1899.9h0M171.1 1891.5h0M179.6 1873.8h0M180.8 1852.3h0M181.9 1866.6h0M169.6 1869.9h0M185.7 1912.5h0M191.1 1929.4h0M174.7 1870.7h0M186.8 1867.2h0M173.6 1883.8h0M192 1886.2h0M184.9 1890.5h0M172.9 1881.1h0M172.4 1880.3h0M180.4 1892.8h0M184.9 1881.2h0M180.2 1874.8h0M167.9 1848.4h0M183.4 1898.8h0M172.2 1885.4h0M175.8 1923.7h0M192.7 1851.8h0M179.6 1891.1h0M180.3 1885.4h0M188.3 1886.5h0M169.6 1877.9h0M185.6 1880.7h0M190.4 1884.4h0M189.6 1893.4h0M180.4 1886.7h0M178.5 1889.7h0M182 1885.8h0M164.7 1917.4h0M169.6 1892.6h0M179.4 1888h0M178.8 1838.9h0M193.5 1878.9h0M173.1 1883.1h0M192.3 1891.9h0M173.3 1815.1h0M173.4 1804.1h0M181.3 1878.3h0M186.1 1882.8h0M165.8 1897.1h0M174.2 1894.5h0M186.8 1885.6h0M190.9 1895.3h0M193.1 1891.2h0M186.5 1908.4h0M185.4 1802h0M169.7 1889.5h0M184.7 1882.1h0M186.7 1892h0M172.5 1881.9h0M192.7 1908.4h0M181.5 1877h0M187.6 1888.1h0M180.7 1888.8h0M194.2 1933.7h0M192.3 1888.6h0M184.4 1883.5h0M172.6 1871.7h0M179.6 1828.4h0M186.4 1887.4h0M179.6 1884.7h0M181.6 1908.7h0M189.1 1923.3h0M186.8 1859.2h0M190.2 1938.7h0M191.3 1886h0M180.3 1893.3h0M187.4 1977.4h0M167 1853h0M190 1913.8h0M180.5 1882.6h0M182.4 1883.3h0M182.9 1884.1h0M188.1 1894.4h0M187.2 1888.9h0M182.4 1854.6h0M185.4 1917.3h0" stroke="#0083ec" stroke-width="4.40"/>
<path d="M198.2 1890.2h0M195.7 1907.6h0M196.5 1863.9h0M195.7 1858.7h0M198.6 1867.4h0M195.3 1894.5h0M198.4 1892h0M195.8 1894.7h0M194.7 1861.5h0M199.1 1933.4h0M195.7 1869.5h0M194.6 1899.7h0M197.6 1868.5h0M197.9 1862.3h0M198 1892h0M195.5 1900.1h0M198.9 1886.9h0M195.9 1890h0M197 1875.4h0M198.2 1892.4h0M199.3 1891.9h0M198.6 1889.8h0M196.7 1904.2h0M196.7 1891.4h0M199 1893.7h0" stroke="#007dea" stroke-width="4.40"/>
<path d="M202.3 1902.1h0M199.6 1889.8h0M203.7 1897.8h0M200.7 1881h0M203.2 1909.1h0M204.2 1866.1h0M204 1898.7h0M201.3 1895.1h0M203.2 1888.5h0M202.3 1891.8h0M201.3 1908.1h0M204.4 1899.1h0M202.7 1906h0M203.4 1830.7h0M202.7 1885.3h0M201.8 1887h0M203.1 1908.1h0M202.3 1888.3h0M200.9 1871.6h0M203.4 1849.2h0M204.3 1886.9h0M204 1896.6h0M202.3 1843h0M200.3 1887h0M204.2 1880.1h0M201.3 1894.8h0" stroke="#0076e7" stroke-width="4.40"/>
<path d="M205.4 1911.4h0M209.6 1917h0M209.4 1891.1h0M209.5 1879.8h0M204.7 1880.3h0M209.3 1875.9h0M206.9 1876.8h0M205.3 1896.1h0M206.3 1888.5h0M204.7 1910.5h0M208.4 1895.9h0M206.6 1892h0M207.7 1912.3h0M206.3 1884.9h0M208.4 1905.9h0M207.9 1894.2h0M208.9 1911.6h0M209.2 1904.4h0M205.6 1901.7h0M204.7 1861.8h0M206 1905h0M205.8 1908.1h0M206.9 1896.8h0M205.3 1878.6h0M209.2 1913.8h0M206.2 1902.7h0M205.7 1847.2h0" stroke="#0071e3" stroke-width="4.40"/>
<path d="M212.2 1904.8h0M211.1 1919.1h0M212.6 1872.6h0M213 1906.8h0M214.2 1906.9h0M210.8 1909h0M213.2 1902.3h0M212.8 1906.4h0M210.5 1881.7h0M213.8 1894.6h0M212.7 1907.6h0M212.3 1909.4h0M211.9 1857.9h0M213.2 1893.5h0M214.4 1902.3h0M210.6 1860.7h0M213.1 1931h0M212.2 1876.6h0M210.1 1909.4h0M210.3 1903h0M212.3 1912.8h0" stroke="#006ae0" stroke-width="4.40"/>
<path d="M215.7 1890.8h0M215.4 1912.3h0M219.7 1907.1h0M217 1908.5h0M219.3 1892.5h0M215.4 1906.5h0M219.8 1913.6h0M219.4 1914.2h0M218.3 1895.6h0M217.1 1873.8h0M218.1 1908.2h0M217.2 1895.1h0M218.5 1896.4h0M214.9 1870.1h0M219.7 1916.4h0M218 1884.5h0M217.6 1910.9h0M216.1 1897.5h0M219 1917.4h0M218.5 1935.3h0M218.1 1913.2h0M219.4 1900.2h0M218.2 1913.2h0M215.9 1916.4h0M218.1 1898.1h0" stroke="#3263da" stroke-width="4.40"/>
<path d="M221.9 1901.7h0M222.2 1906.4h0M224.1 1902.7h0M222.4 1881.6h0M224.6 1912.5h0M222.1 1912h0M222.5 1898h0M223.4 1882.1h0M220.1 1911.5h0M221.6 1908.6h0M221 1908.3h0M224.2 1888.7h0M223.3 1898.1h0M224.5 1894.4h0M221.9 1888.7h0M220.3 1893.7h0M224.3 1893.2h0M222.4 1910.2h0M224.4 1893.4h0M223.1 1853.8h0M221.7 1912.2h0M221.3 1899.6h0M222.9 1872.9h0M223.4 1849.2h0M221.8 1911.8h0M222.5 1890.8h0M222.5 1894.8h0M220.8 1868.7h0M220.6 1923.3h0" stroke="#4c5bd4" stroke-width="4.40"/>
<path d="M227.4 1890h0M229.6 1850.3h0M225.7 1846.9h0M225.4 1887.3h0M229.9 1903.4h0M229.6 1856.9h0M228.8 1874.6h0M225.3 1905.3h0M226.9 1906.2h0M229.1 1901.2h0M229.3 1896.7h0M225.8 1898.9h0M226 1914.8h0M229.9 1892.4h0M229.6 1863.5h0M226 1925.7h0M229.4 1896.9h0M225.8 1904.6h0M224.9 1840h0M226.8 1915.4h0M225.6 1914.9h0" stroke="#5f54cd" stroke-width="4.40"/>
<path d="M231.6 1887.2h0M230.7 1920.8h0M234.9 1902h0M231.9 1902.3h0M230.5 1888.6h0M232.6 1910.2h0M230.2 1891h0M230.6 1902.3h0M233.2 1916.9h0M231.7 1899.6h0M234.6 1924.2h0M233.8 1898h0M234.3 1896.6h0M231.9 1870.7h0M230.2 1901.5h0M233.7 1913.9h0M232.4 1900.2h0M233.9 1913.7h0M230.3 1878.4h0" stroke="#6e4ac4" stroke-width="4.40"/>
<path d="M239.8 1893.8h0M235.8 1884.3h0M238 1935.3h0M237.7 1896.6h0M237.2 1886.8h0M235.7 1895.4h0M237.4 1894.5h0M237.1 1897.3h0M235.7 1913h0M237.7 1888.9h0M238.3 1875.8h0M237.8 1897.2h0M239.5 1892.2h0M236.6 1915.8h0M236.3 1918.9h0M236.5 1953.4h0M238.1 1899.1h0M238.1 1911.1h0" stroke="#7a41bc" stroke-width="4.40"/>
<path d="M244.1 1895.4h0M242.9 1918.6h0M243.5 1902.3h0M244.7 1906.3h0M243.2 1907.3h0M244.4 1891.7h0M243.4 1855.6h0M240.3 1917.8h0M242.5 1897.4h0M242.1 1899.5h0M243.5 1918.5h0M242.4 1902.4h0M244.6 1898h0M241.1 1900.4h0M241.1 1932.2h0" stroke="#8537b3" stroke-width="4.40"/>
<path d="M247.2 1903.3h0M246.1 1899.5h0M247.3 1919h0M248.3 1899.7h0M248.8 1870.4h0M245.5 1920.7h0M246.2 1896.6h0M246.5 1881.2h0M249.8 1897.5h0M245.9 1919.4h0M246.3 1900.4h0M249.6 1922.2h0M249.3 1898.7h0M249.8 1896.9h0M246 1929.6h0M248.7 1902.5h0M249.5 1921.6h0M247.4 1894.4h0M245.9 1895.9h0M246.3 1909.9h0M246.8 1846.3h0M249.4 1898.3h0M246.5 1870.7h0M247.1 1897.9h0M249.5 1905.5h0M245.4 1914.5h0M247.2 1905.5h0M249.4 1920.2h0" stroke="#8e29a8" stroke-width="4.40"/>
<path d="M250.7 1898.4h0M253.4 1875.3h0M251.5 1897.7h0M251.6 1920.6h0M255.3 1921.7h0M252.6 1933h0M254.2 1938.6h0M254 1903.9h0M252.5 1888.9h0M250.6 1929.5h0M252.2 1899.6h0M253.7 1966.8h0M253.2 1919.2h0M252.8 1899.8h0M255.2 1940.7h0M253.2 1913.5h0M255.3 1896.7h0M251.5 1899.7h0M250.7 1899.6h0M251.5 1922.7h0M255 1932h0M253.5 1900.5h0M253.7 1948.3h0M250.3 1926.8h0M254.3 1907.1h0M253.3 1926.5h0M250.7 1897.8h0" stroke="#991ca1" stroke-width="4.40"/>
<path d="M257.1 1929h0M255.7 1877.6h0M255.8 2010.6h0M256 1935.5h0M255.8 1910.2h0M258.7 1945.1h0M260.1 1905.7h0M255.9 1929.4h0M256.6 1893.4h0M258.5 2000.3h0M258 1922.8h0M260.3 1945h0M258.1 1936.6h0M255.4 1935.5h0M258.8 1927.4h0M258 1973.9h0M256.7 1901h0M259.7 1936.7h0M255.4 1903.8h0M256.4 1905.6h0M256.1 1895.7h0M256.4 1904.4h0" stroke="#a60f9b" stroke-width="4.40"/>
<path d="M264.9 2005.7h0M263.1 1831.8h0M261.2 1902.4h0M261.5 1956.8h0M262.6 1934.5h0M264.9 1999.1h0M262.4 1927.1h0M260.6 1940.3h0M264.9 1923.7h0M261.1 1941.4h0M260.8 1877.6h0M264.9 1909.9h0M263.8 2026.7h0M261.2 1930.3h0M264.9 2037.8h0M264.4 1899.5h0M262.6 1943h0M262.3 2033.4h0M263.3 1899.4h0" stroke="#b20095" stroke-width="4.40"/>
<path d="M268.8 1992.9h0M270.3 1955.7h0M270.3 1930.7h0M265.7 1916.1h0M269.5 2037h0M268 1947.1h0M267.2 1913h0M266.9 2032.6h0M269.5 1926h0" stroke="#bd008f" stroke-width="4.40"/>
<path d="M271.8 2031.7h0M271.8 1917.6h0M273.4 1945.3h0M275.7 1958.3h0M271.8 1912.2h0M272.6 1942.2h0M275.7 1964.9h0M274.1 1927.6h0" stroke="#c70087" stroke-width="4.40"/>
<path d="M279.2 1976.8h0M276.4 1925.3h0M278 1981.7h0M280.3 1951.4h0M276.4 1912.2h0M276.1 1938.3h0M278 1949.9h0M280.3 1911.8h0M277.2 1959.1h0" stroke="#d10080" stroke-width="4.40"/>
<path d="M284.9 1923h0M285.4 1943.7h0M284.1 1932.2h0M284.4 1938.3h0M281.1 2004.9h0M285.4 2039.5h0M285.7 1962.9h0M281.4 2013.4h0M285.7 1950.6h0M284.6 1972.5h0" stroke="#d80078" stroke-width="4.40"/>
<path d="M288 1959.9h0M290.3 1926h0M287.5 1943h0M288 2003.2h0M286.4 1956h0M287.7 2028.6h0M289.5 1933.7h0M288 1953h0" stroke="#e00070" stroke-width="4.40"/>
<path d="M291.8 1942.2h0M292.6 1925.3h0M295.2 2004.1h0M295.7 1950.6h0M291.4 1983.4h0M292.6 1954.5h0M293.8 1877.6h0M294.3 1994.9h0M294.6 1966.5h0M294.1 1944.5h0M292 2057.8h0M291.8 1951.4h0" stroke="#e60067" stroke-width="4.40"/>
<path d="M297.2 2016h0M298.7 1959.6h0M297 2076.4h0M301 2030.6h0M301 1936h0M296.4 1987.8h0M298 1916.8h0M300.3 1939.1h0M298 1976.2h0M299.5 1933.7h0M298.7 2028.3h0M299.5 2013.7h0M298 1929.9h0" stroke="#eb005e" stroke-width="4.40"/>
<path d="M302.6 1960.3h0M304.1 1928.4h0M301.8 1917.9h0M305.7 1925.3h0M304.9 1955.7h0M304.9 1922.2h0M302.7 2047.6h0" stroke="#f00056" stroke-width="4.40"/>
<path d="M353.6 1955h0M320 2065.3h0M341.5 1896.8h0M311.8 1934.5h0M339.5 1922.5h0M320 1962.2h0M344.1 1977.5h0M472.7 1933.5h0M316.1 1939.4h0M327.2 1924.8h0M352.8 1993.8h0M320.3 1994.5h0M374.3 1958.6h0M324.6 2081.8h0M320.3 1957.6h0M318 1949.9h0M384.7 1944.2h0M340.2 1957.9h0M333 1946.8h0M315.6 1958.3h0M306.4 1938.8h0M308.4 1936.8h0M376.3 1954.1h0M340.7 2032.4h0M344.1 1918.8h0M328.7 1937.1h0M389.5 1923.9h0M318.7 1929.1h0M324.1 1946.8h0M309.5 2033.7h0M346.4 1922.2h0M322.9 2080.2h0M310.6 1970.9h0M329.5 1926.8h0M341.8 1977.5h0M346.9 1987.2h0M321.3 1930.4h0M353.6 1934h0M503.1 1927h0M322.3 1992.2h0M316 2043h0M449.5 1947.3h0" stroke="#f0004c" stroke-width="4.40"/>
</g>
<g class="d">
<path d="M649.5 1967.6h0M634.5 2071h0M631.3 1946.3h0M629 1953h0M639.7 1957h0M629.6 1877.5h0M641.3 1954.4h0M644.2 1954.5h0M644.2 1933.6h0M633.5 1968.6h0M634.6 1959.8h0M643.9 1947.9h0M641.2 1965.6h0M641.8 1943h0M639.4 1947.9h0M647.8 1956.7h0M643.2 1957.3h0M637.4 1951h0M634.3 1962.9h0M632.2 1948.6h0M632.1 1959.3h0M641.4 2002.1h0M637.9 1954.4h0M637.6 1981.1h0M649.9 1952.6h0M639.8 1970.1h0M647 1958.2h0M627.8 1967.7h0M643.2 1985.9h0M640.6 1955.1h0M641.6 1949.4h0M638.9 1945.9h0M648 1977.9h0M637.8 1944.1h0M639.4 1969.7h0M631.6 1927.9h0M635.4 1950h0M643.1 1961.4h0M633.4 1978.3h0M632 1941h0M638.1 1955.3h0M642.6 1938h0M628.4 1947.4h0M634.3 1949.9h0M637.8 1941.6h0M631.4 1947.6h0M647 1984h0M644.7 1987.7h0M631.9 1988h0M644.2 1929.6h0M619.6 1957.6h0M623.6 2083.8h0M632.7 2072.6h0M626.7 1949.1h0M642.1 1954.1h0M626.1 1948h0M649.4 1949.2h0M643.6 1961.3h0M626.5 1994.2h0M630.3 1953.9h0M645.1 1954.8h0M635.5 1951.6h0M639.7 1950.1h0M633.5 1964.6h0M629.6 1982.2h0M634.4 1954.4h0M639.6 1946.8h0M631.2 1941.6h0M649.5 1949.1h0M638.5 1943.7h0M638.8 1951.8h0M632.5 1958h0M643.5 1952h0M646.2 1959.6h0M646.7 1910.8h0M642.8 1958.3h0M630.3 1943.8h0M644.2 1961.2h0M643.4 1951.3h0M645 1963h0M621.1 1948.3h0M627.6 1931.4h0M639.4 1948.2h0M643.5 1969.3h0M643.7 1946.7h0M649 1967.1h0M640.8 1934.5h0M645.3 1946.7h0M642 1945.4h0M647.2 1952.4h0M624.7 1949.7h0M637.7 1959.7h0M636.7 1943h0M635 1993.2h0M640.6 1955.2h0M630.4 1972.9h0M645.5 1964.5h0M628.1 1977.5h0M637.7 1939.8h0M635.1 1939.8h0M631.8 1954.1h0M630.2 1946.1h0M628.3 1959.4h0M638.1 1992.9h0M636.9 1963.8h0M636.8 1952.8h0M634.4 1961.4h0M621.9 1948.5h0M638.7 1948.3h0M641.7 1955h0M642.6 1958.2h0M640.7 1992.6h0M637 1979.7h0M637.2 1951.6h0M640.2 1952.9h0M647.3 1961.4h0M634.5 1958.9h0M644.7 1963.9h0M646.2 1957.6h0M639.4 1987h0M644.6 1944.1h0M638 1957.9h0M634.4 1950h0M637.9 1961.6h0M646.6 1966.8h0M648.5 1946.4h0M635 1954.1h0M625 2004.9h0M640.3 1947.6h0M634.8 1956.3h0M639.4 1951.5h0M633.7 1956.9h0M646.3 1950.3h0M633.6 2017.1h0M642.8 1946h0M634.7 2012.6h0M625.8 1981.9h0M632.3 1949h0M635 1944.4h0M638.3 1954h0M638.6 1972.2h0M627.8 2076.1h0M648.9 1943.3h0M645.8 1959.5h0M626.5 1973.7h0M648.4 1943.7h0M642.7 1956.2h0M638.8 1959h0M635 1963h0M621.8 1946.3h0M645.3 1938.3h0M626.8 1951.3h0M637.3 1952.2h0M641.6 1958.2h0M633.1 1964.1h0M642 1950.5h0M641.2 1945.7h0M640.7 1962.2h0M645.4 1961h0M633.9 2062.4h0M629.6 1991.4h0M634.8 1950h0M643.5 1938.8h0M641.8 1959.8h0M641.6 1957.7h0M638 1952.5h0M635.7 1946.5h0M645.3 1982.2h0M648.9 1954.7h0M635 1961.3h0M642.7 1951.5h0M649.5 1956.9h0M648.6 1958.5h0M636.9 1946.4h0M627.1 1943.2h0M643.4 1977.5h0M635.1 1952.4h0M638.1 1973.7h0M647.1 1968.2h0M640.8 1903.5h0M634.2 1946h0M630.9 1946.8h0M616.5 1978.6h0M634.8 1946h0M626.1 1945.7h0M638.1 1961.5h0M629.1 2005.2h0M635.7 1972.2h0M614.2 1938.7h0M639.1 1988.6h0M648.1 1964.6h0M640.1 1947.8h0M627 1979.6h0M633.6 2065.2h0M641.7 1991h0M623.4 1949.9h0M648.5 1966.5h0M630.4 1933.7h0M634.1 1956.1h0M627.5 1949.3h0M625.4 2008.3h0M619.6 1962.9h0M645.6 1947.4h0M632.8 1941.2h0M631.6 1897.1h0M632.1 1945.6h0M642.7 1956.5h0M639.6 1937.2h0M636.8 1951.8h0M645.1 1959.6h0M638.3 1954.6h0M639.7 1946.1h0M635 2031.4h0M632.7 1962.5h0M640.2 1942.3h0M636.8 1966.2h0M646.1 1943.3h0M645 1951.1h0M624.6 1950.9h0" stroke="#0083ec" stroke-width="4.40"/>
<path d="M653.6 1950.7h0M651.1 1953.7h0M654.1 1947.5h0M654 1963.1h0M652.3 1961.2h0M651.9 1934.2h0M651.8 1946.7h0M650.8 1956.3h0M652.2 1933.6h0M650.8 1959.7h0M651.8 1975.1h0" stroke="#007dea" stroke-width="4.40"/>
<path d="M656.4 1948.8h0M657.3 1946.6h0M657.9 1942.4h0M657.4 1939h0M656.8 1964.1h0M655.5 1933.9h0M657.5 1951.7h0M658.6 1950.1h0M655.5 1949.1h0M658.9 1952.1h0M656.8 1953h0M656 1964.1h0M655.5 1947.8h0" stroke="#0076e7" stroke-width="4.40"/>
<path d="M660.1 1944.1h0M661.2 1944.4h0M660.3 1964.9h0M663.9 1945.6h0M663.1 1946.6h0M663.4 1929.4h0M662 1943h0M663.1 1945.1h0M659.4 1947.1h0M663.6 1937.7h0M663.7 1964.1h0M661.4 1951.2h0M661 1952.2h0M662.9 1947.3h0M662.7 1953h0M659.6 1954h0" stroke="#0071e3" stroke-width="4.40"/>
<path d="M665 1948.3h0M664.6 1943.9h0M665.3 1965.2h0M666 1953h0M664.7 1946.7h0M664.3 1947.7h0M667.9 1947h0M664.9 1954.4h0M666 1955.8h0M665.6 1950.3h0M664.2 1952.7h0M666.5 1978.3h0M667.1 1941.6h0M664 1957.4h0M664.2 1940.3h0M667.1 1951h0M664.7 1957.6h0M666.8 1940.5h0M668.3 1948.3h0M667 1938h0" stroke="#006ae0" stroke-width="4.40"/>
<path d="M671.8 1944.3h0M670.9 1941.9h0M669.1 1983.9h0M669.5 1945.5h0M668.8 1950.9h0M669.7 1953.4h0M669.1 1964.1h0M669.3 1944.5h0M669.6 1965.7h0M670.5 1946.2h0M668.7 1950.8h0M671.1 1934h0M670.1 1953.9h0M669.3 1952.8h0" stroke="#3263da" stroke-width="4.40"/>
<path d="M675.1 1945.9h0M673.4 1963.2h0M674.2 1939.6h0M674.9 1947.1h0M676.4 1944.4h0M674.8 1943.8h0M674.5 1945.9h0M674.9 1944.8h0M677 1947.6h0M675 1959.6h0M674 1956.9h0M674.6 1952h0M676.5 1948.6h0M673.7 1945.1h0" stroke="#4c5bd4" stroke-width="4.40"/>
<path d="M679.4 1950.5h0M681.4 1945.4h0M677.8 1937.7h0M678.7 1956.7h0M678 1966.8h0M681.4 1949.8h0M677.9 1949.6h0M681.3 1949.3h0M678.4 1951.7h0M678.9 1957.1h0M680.8 1949.9h0M681.9 1948h0M678.8 1970.6h0M680.6 1937.9h0M681.2 1955.8h0M678 1958.9h0M681.9 1950.7h0M679.1 1952.4h0M678.2 1947.7h0M679.5 1950.9h0" stroke="#5f54cd" stroke-width="4.40"/>
<path d="M684 1949.8h0M683.3 1943.8h0M683.6 1955.9h0M685.2 1949.1h0M684 1951.3h0M684.2 1950.6h0M682.2 1945h0M682.2 1974.5h0M683.9 1943.4h0M685.9 1950.5h0M682.5 1945.9h0M683.8 1953.8h0M685.3 1946.2h0M686.1 1946.6h0M684.4 1950.6h0M682.5 1944.2h0M682.3 1954h0" stroke="#6e4ac4" stroke-width="4.40"/>
<path d="M687.8 1949.5h0M690 1945h0M689.4 1946.2h0M690.8 1954.8h0M686.7 1964.8h0M687.5 1953.7h0M687 1947.8h0M687.2 1944.8h0M687.2 1947.4h0M686.8 2010.8h0M688.3 1949.6h0M691 1946.2h0M689.9 1947.8h0M688.5 1956.4h0M691.1 1942.6h0M690.3 1941.5h0M687 1945.7h0M689.3 1953.8h0" stroke="#7a41bc" stroke-width="4.40"/>
<path d="M693.4 1916.7h0M693.1 1955.4h0M691.9 1961.3h0M694.3 1957.6h0M692.5 1940.5h0M692.6 1941.6h0M692.5 1955.6h0M692.8 1947.9h0M694.8 1940.4h0M695.1 1943.5h0M693.5 1957.4h0M694.1 1946.1h0" stroke="#8537b3" stroke-width="4.40"/>
<path d="M696.7 1951h0M699.1 1946.7h0M699.7 1947.6h0M699.8 1924.3h0M698.8 1921.7h0M697.4 1943.5h0M699.1 1936h0M699.9 1949.4h0M699.8 1947.2h0M696.3 1950.7h0M696.8 1931.4h0M699.8 1950.5h0M696.7 1948h0M699.6 1943.1h0M699 1946.5h0" stroke="#8e29a8" stroke-width="4.40"/>
<path d="M701.3 1942.9h0M701.1 1960.9h0M701.8 1945.7h0M703 1945.2h0M704.2 1946.8h0M703.2 1943.6h0M702.3 1949.1h0M704.2 1967.6h0M704.8 1944.9h0M703.8 1943.8h0M700.6 1969.1h0M703 1945.7h0M704.3 1949h0" stroke="#991ca1" stroke-width="4.40"/>
<path d="M707.8 1891.5h0M708 1947.9h0M706 1945.1h0M706.4 1944.8h0M705.2 1945.1h0M704.9 1983.9h0M706.1 1943.9h0M705.6 1939.2h0M707.8 1952.7h0M706.2 1945.7h0M707.2 1943.7h0M707.2 1966.5h0M707.4 1938.6h0M708 1946.3h0M705.1 1944.1h0M704.9 1945.3h0M706.3 1944.3h0M706.6 1950.2h0M707.6 1948h0" stroke="#a60f9b" stroke-width="4.40"/>
<path d="M710.5 1905h0M712.1 1946h0M710.2 1918.3h0M711.1 1957.9h0M713.4 1967.1h0M710.4 1948.7h0M713.4 1934h0M709.5 1953.8h0M712.7 1944.1h0M713.8 1944.6h0M710.6 1943.1h0" stroke="#b20095" stroke-width="4.40"/>
<path d="M715.4 1925.1h0M717.2 1958.3h0M713.9 1942.8h0M716.7 1942h0M718.1 1943.8h0M717.7 1920.7h0M714.6 1945.8h0M715.4 1944.3h0M718 1961.4h0M718.2 1944.3h0M715.1 1943.9h0M716.9 1944.1h0M716.9 1931.9h0M717.5 1942.1h0M716.4 1941.1h0M715.1 1940.7h0M718 1918.8h0M716.3 1949h0M716.6 1943.1h0" stroke="#bd008f" stroke-width="4.40"/>
<path d="M720.3 1950.6h0M722.8 1923.4h0M720.6 1946.1h0M721.1 1916.1h0M720 1934.2h0M719.6 1942.8h0M722.4 1939.2h0M719.9 1938.9h0M722.6 1929.1h0M718.6 1944h0M719.8 1946.3h0M719.2 1945.2h0" stroke="#c70087" stroke-width="4.40"/>
<path d="M725.3 1943.4h0M724.1 1917.6h0M727.5 1950.3h0M726.2 1922.9h0M727.3 1941.2h0M725.7 1937.6h0M726.4 1934.5h0M723.2 1945.3h0M723.5 1941.3h0M724.6 1944.3h0M726.7 1943.1h0M725.9 1940.3h0M724 1937.7h0M724.1 1926.8h0M726.1 1941.4h0" stroke="#d10080" stroke-width="4.40"/>
<path d="M731.6 1913.5h0M731.5 1914.5h0M731.5 1931.1h0" stroke="#d80078" stroke-width="4.40"/>
<path d="M732.5 1907.8h0M736.4 1936h0M736.1 1914h0M735.7 1833.2h0M732.7 1939.8h0M732.6 1936h0M735.7 1941.4h0" stroke="#e00070" stroke-width="4.40"/>
<path d="M738.7 1932.2h0M738.1 1853.5h0M737.2 1922.5h0" stroke="#e60067" stroke-width="4.40"/>
<path d="M741.5 1947.9h0M741.8 1934.5h0M742 1906.3h0M744.4 1913h0M745.7 1936.8h0" stroke="#eb005e" stroke-width="4.40"/>
<path d="M746.9 1932.1h0M746.4 1930.7h0M747.5 1939.8h0" stroke="#f00056" stroke-width="4.40"/>
<path d="M841 1868.4h0M791.3 1968.2h0M850.1 1985.6h0M906.4 1843h0M768.3 1941h0M758.9 1947.3h0M801 1938.8h0M757.2 1936h0M899.1 1849.8h0M914.3 1939.1h0M754.3 1930.5h0M773.6 1908.8h0M910.9 1931.8h0M807.2 1920.8h0M754.9 1934.5h0M857.9 1965.3h0M758 1934.5h0M766.1 1936.8h0M830.9 1896h0M769.5 1952.3h0M750.7 1941.4h0M787.5 1935.7h0M910.9 1927.3h0M799 1940.3h0M770.6 1893.3h0M776.3 1848.1h0M809.5 1928.7h0M850.1 1832.3h0M777.6 1934.5h0M939.1 1911.2h0M780.4 1803.8h0M764.1 1937.5h0M794.4 1910.5h0M783.8 1934.5h0M769.2 1926h0M751.5 1945.3h0M802.5 1926.2h0M769.2 1946h0M841.3 1940.8h0M750.8 1942.7h0M760 1928h0M861 1895.4h0M804.4 1933h0M766.1 1929.9h0M881.3 1881.4h0M765.6 1926h0M952.4 1872.3h0" stroke="#f0004c" stroke-width="4.40"/>
</g>
<g class="d" transform="translate(0 101.80) scale(1 1.130)">
<path d="M658.1 2.4h0M660.1 -9.6h0" stroke="#c90098" stroke-width="6.90"/>
<path d="M306.2 2.4h0M477.5 -9.6h0" stroke="#0085f9" stroke-width="6.90"/>
<path d="M652.1 9.6h0" stroke="#b110a5" stroke-width="6.90"/>
<path d="M617.6 -2.4h0M612.5 4.8h0M543 -2.4h0M535 2.4h0M597.9 12h0M587.8 2.4h0M593.9 -2.4h0" stroke="#6559da" stroke-width="6.90"/>
<path d="M684 7.2h0M637.3 -16.8h0M637.6 -2.4h0" stroke="#bd009f" stroke-width="6.90"/>
<path d="M473.1 -9.6h0M492.5 9.6h0M437.9 -7.2h0M574.5 9.6h0M418.6 7.2h0" stroke="#3569e8" stroke-width="6.90"/>
<path d="M680.1 2.4h0M664.3 4.8h0M607.4 0h0M588.6 -2.4h0M733.4 -2.4h0" stroke="#8245c8" stroke-width="6.90"/>
<path d="M661 -14.4h0" stroke="#fa0064" stroke-width="6.90"/>
<path d="M390.2 2.4h0M465.8 7.2h0M490.4 4.8h0M520.1 -2.4h0M490.8 -9.6h0M358.7 -4.8h0M350.7 2.4h0M525.1 0h0M536.1 -2.4h0M486.2 -4.8h0M341.9 2.4h0M508.1 2.4h0M416 2.4h0" stroke="#0078f2" stroke-width="6.90"/>
<path d="M748.8 2.4h0" stroke="#f5006e" stroke-width="6.90"/>
<path d="M540.4 2.4h0M328.7 -2.4h0M448.4 4.8h0M515.5 -7.2h0" stroke="#007ef6" stroke-width="6.90"/>
<path d="M417.1 -7.2h0M493.6 2.4h0M599.4 -12h0M596 -2.4h0M587.7 7.2h0M564.5 -9.6h0M577.9 -4.8h0M590.6 0h0M569.2 -2.4h0M577.8 -2.4h0M446.4 -4.8h0" stroke="#5161e1" stroke-width="6.90"/>
<path d="M653.7 -7.2h0M750.5 -4.8h0M820.2 0h0M626.5 0h0" stroke="#ff0051" stroke-width="6.90"/>
<path d="M638.6 12h0M603.6 4.8h0M603.4 12h0" stroke="#754fd1" stroke-width="6.90"/>
<path d="M651.9 -12h0M667.4 2.4h0" stroke="#a31eab" stroke-width="6.90"/>
<path d="M646.9 12h0" stroke="#ff005b" stroke-width="6.90"/>
<path d="M635.1 0h0" stroke="#de0088" stroke-width="6.90"/>
<path d="M611.7 -12h0M758.1 -7.2h0M622.8 -2.4h0M618.2 -14.4h0M612.5 7.2h0" stroke="#8d3abe" stroke-width="6.90"/>
<path d="M403 2.4h0M287.6 -2.4h0M325.6 2.4h0M345.1 2.4h0M325.8 0h0M468.8 -4.8h0M573.2 -7.2h0M470.6 7.2h0M590.9 4.8h0M339.7 -2.4h0M350.9 0h0M337.6 0h0M587.6 -7.2h0" stroke="#008bfb" stroke-width="6.90"/>
<path d="M416.4 2.4h0M516.4 4.8h0M519.4 0h0M516.8 -4.8h0M357.9 0h0" stroke="#0071ee" stroke-width="6.90"/>
<path d="M762.3 0h0" stroke="#e60080" stroke-width="6.90"/>
<path d="M613.7 14.4h0" stroke="#ee0077" stroke-width="6.90"/>
<path d="M613.6 -9.6h0M763 -2.4h0" stroke="#972cb3" stroke-width="6.90"/>
<path d="M626.3 9.6h0" stroke="#ee0077" stroke-width="6.90"/>
<path d="M658.7 7.2h0M660.3 12h0M646.5 7.2h0" stroke="#ff0051" stroke-width="6.90"/>
<path d="M772.2 0h0M711 -2.4h0M629.7 -7.2h0" stroke="#d40090" stroke-width="6.90"/>
<path d="M491 7.2h0M465.9 0h0M572.9 -9.6h0M497.8 -4.8h0M549.8 -4.8h0M383.7 -2.4h0M533.8 0h0" stroke="#0071ee" stroke-width="6.90"/>
<path d="M667.6 -9.6h0M720.9 -2.4h0M563.7 -7.2h0M685.7 -4.8h0M613.6 2.4h0M571.4 4.8h0M633 -12h0M568.7 7.2h0M575.4 7.2h0" stroke="#6559da" stroke-width="6.90"/>
<path d="M366.4 0h0M422.8 0h0M395.3 0h0M506.1 7.2h0M348.9 0h0M536.8 -7.2h0M409.9 2.4h0M498.3 4.8h0M453 4.8h0" stroke="#0078f2" stroke-width="6.90"/>
<path d="M659.4 0h0M602.6 -4.8h0" stroke="#8d3abe" stroke-width="6.90"/>
<path d="M480.1 -4.8h0M728.4 2.4h0M467.1 2.4h0M453.8 -2.4h0M568.9 -9.6h0M344.8 4.8h0M442.9 -7.2h0M377.2 -2.4h0M298.5 -2.4h0M392.5 -2.4h0M433.9 7.2h0M292.7 0h0M544.2 2.4h0M363.9 2.4h0" stroke="#008bfb" stroke-width="6.90"/>
<path d="M738.3 2.4h0" stroke="#b110a5" stroke-width="6.90"/>
<path d="M769.6 -2.4h0M715.3 2.4h0" stroke="#972cb3" stroke-width="6.90"/>
<path d="M606.9 -9.6h0M629.3 2.4h0M604.5 2.4h0M598.7 4.8h0" stroke="#754fd1" stroke-width="6.90"/>
<path d="M665 0h0M621.6 2.4h0M637.7 12h0M643.1 0h0M652.6 7.2h0" stroke="#bd009f" stroke-width="6.90"/>
<path d="M517.3 2.4h0M418.5 -2.4h0M465 -7.2h0M475.1 2.4h0" stroke="#0085f9" stroke-width="6.90"/>
<path d="M336.9 -2.4h0M486.4 0h0M460.1 -9.6h0M323 -4.8h0" stroke="#007ef6" stroke-width="6.90"/>
<path d="M561.5 2.4h0M533.1 -2.4h0M617.2 7.2h0M611.6 -4.8h0M565.7 -2.4h0" stroke="#3569e8" stroke-width="6.90"/>
<path d="M593.9 -9.6h0M740.6 0h0M622 -14.4h0M602.2 14.4h0" stroke="#8245c8" stroke-width="6.90"/>
<path d="M657.5 -7.2h0M720.2 0h0M759 4.8h0" stroke="#e60080" stroke-width="6.90"/>
<path d="M607.7 7.2h0M679.1 -2.4h0M614.9 14.4h0" stroke="#fa0064" stroke-width="6.90"/>
<path d="M558.2 0h0M566 4.8h0M418.3 -4.8h0M616.3 9.6h0M420 0h0" stroke="#5161e1" stroke-width="6.90"/>
<path d="M670.9 -7.2h0" stroke="#a31eab" stroke-width="6.90"/>
<path d="M769.6 2.4h0M642.6 -9.6h0M627.3 4.8h0" stroke="#c90098" stroke-width="6.90"/>
<path d="M682.7 -2.4h0" stroke="#de0088" stroke-width="6.90"/>
<path d="M666.8 7.2h0" stroke="#c90098" stroke-width="6.90"/>
<path d="M429.3 -7.2h0M526.9 2.4h0M600.3 -7.2h0M540.7 -4.8h0M580.3 7.2h0M530.6 -4.8h0M509.1 -4.8h0M613.8 12h0" stroke="#5161e1" stroke-width="6.90"/>
<path d="M673.5 2.4h0M586.7 -4.8h0" stroke="#b110a5" stroke-width="6.90"/>
<path d="M319.7 0h0M553.6 4.8h0M479.8 4.8h0M476.6 0h0M500.6 -4.8h0" stroke="#0078f2" stroke-width="6.90"/>
<path d="M615.7 -9.6h0M649.1 14.4h0" stroke="#754fd1" stroke-width="6.90"/>
<path d="M626.1 -9.6h0" stroke="#f5006e" stroke-width="6.90"/>
<path d="M587 0h0" stroke="#a31eab" stroke-width="6.90"/>
<path d="M454 2.4h0M561.9 9.6h0M436.4 0h0M549.9 0h0" stroke="#0071ee" stroke-width="6.90"/>
<path d="M651.8 0h0M844.3 0h0M683.3 9.6h0M651.9 4.8h0M746 0h0M668.2 4.8h0" stroke="#ff0051" stroke-width="6.90"/>
<path d="M682.7 0h0M764.6 0h0" stroke="#d40090" stroke-width="6.90"/>
<path d="M720.2 2.4h0M620.8 -12h0M643.9 -14.4h0M614.5 12h0M728.4 0h0" stroke="#8245c8" stroke-width="6.90"/>
<path d="M690.6 -2.4h0" stroke="#bd009f" stroke-width="6.90"/>
<path d="M624.3 14.4h0M611 -2.4h0M695.5 -2.4h0M546.4 -4.8h0" stroke="#6559da" stroke-width="6.90"/>
<path d="M377.8 0h0M412.6 -4.8h0M644.6 -9.6h0M407 -2.4h0M555.3 4.8h0M413.4 0h0M554.5 -7.2h0M557.9 -2.4h0" stroke="#3569e8" stroke-width="6.90"/>
<path d="M627.5 -4.8h0M625.5 0h0M743.9 2.4h0M621.5 -4.8h0M580.4 4.8h0M685.7 4.8h0" stroke="#8d3abe" stroke-width="6.90"/>
<path d="M648.8 -12h0M624.8 7.2h0M673.3 -4.8h0M697.8 2.4h0" stroke="#e60080" stroke-width="6.90"/>
<path d="M315.6 2.4h0M481.3 9.6h0M441.9 -4.8h0M507.2 7.2h0M449.8 -7.2h0M491 -7.2h0M469.5 -9.6h0M380.8 0h0" stroke="#007ef6" stroke-width="6.90"/>
<path d="M425.4 -4.8h0M432.4 -2.4h0M475 9.6h0M269.9 -2.4h0M505.7 -2.4h0M371.3 0h0M288.7 0h0M616.6 -4.8h0M428.8 4.8h0M396.8 -4.8h0M534 4.8h0M261 0h0" stroke="#008bfb" stroke-width="6.90"/>
<path d="M507.4 -7.2h0M470.2 9.6h0M335.1 2.4h0M479.3 2.4h0M444 4.8h0M349.1 -4.8h0M498.9 -9.6h0M270.5 0h0" stroke="#0085f9" stroke-width="6.90"/>
<path d="M724.2 0h0M642.8 -4.8h0" stroke="#ee0077" stroke-width="6.90"/>
<path d="M698.2 0h0" stroke="#de0088" stroke-width="6.90"/>
<path d="M776.1 0h0M657.5 -2.4h0" stroke="#972cb3" stroke-width="6.90"/>
<path d="M677 -4.8h0M649.2 -7.2h0" stroke="#de0088" stroke-width="6.90"/>
<path d="M494.7 0h0M380.4 2.4h0M467.7 -2.4h0M462.9 7.2h0M492.5 0h0M338.8 4.8h0M482.7 2.4h0" stroke="#007ef6" stroke-width="6.90"/>
<path d="M500 2.4h0M412.7 -2.4h0M527.6 4.8h0M522.4 -4.8h0M535.2 -7.2h0M496.9 -2.4h0M504.8 -9.6h0M438.9 7.2h0" stroke="#0071ee" stroke-width="6.90"/>
<path d="M602.4 -16.8h0M589.1 4.8h0" stroke="#8d3abe" stroke-width="6.90"/>
<path d="M425.2 7.2h0M454.1 0h0M254.4 0h0M318.4 -2.4h0M284 0h0M549.8 -2.4h0M328.8 2.4h0M388.3 -4.8h0M485.1 4.8h0M500.9 2.4h0M462.5 4.8h0" stroke="#008bfb" stroke-width="6.90"/>
<path d="M337.6 -4.8h0M451.1 7.2h0M477.4 -7.2h0M408.9 -4.8h0M423.9 -2.4h0M400 -2.4h0M453.9 7.2h0M491.6 -4.8h0" stroke="#0085f9" stroke-width="6.90"/>
<path d="M762.3 -4.8h0M641.9 -12h0M630.8 -16.8h0M664.3 -12h0M654.4 -2.4h0" stroke="#ff0051" stroke-width="6.90"/>
<path d="M604.4 -7.2h0M634.6 4.8h0M634.4 2.4h0M610.3 0h0M644 -4.8h0M594.6 9.6h0" stroke="#754fd1" stroke-width="6.90"/>
<path d="M743.2 -7.2h0" stroke="#b110a5" stroke-width="6.90"/>
<path d="M707.7 -2.4h0" stroke="#ff005b" stroke-width="6.90"/>
<path d="M437.3 4.8h0M486.2 9.6h0M583.7 -7.2h0" stroke="#3569e8" stroke-width="6.90"/>
<path d="M740 -2.4h0" stroke="#bd009f" stroke-width="6.90"/>
<path d="M640 14.4h0M599.5 -9.6h0M595.3 -12h0M617.5 -12h0M621.5 9.6h0M592.9 2.4h0M610 9.6h0" stroke="#8245c8" stroke-width="6.90"/>
<path d="M605.8 -12h0" stroke="#c90098" stroke-width="6.90"/>
<path d="M680.1 -7.2h0M645.5 2.4h0M640.7 -2.4h0" stroke="#e60080" stroke-width="6.90"/>
<path d="M480.7 -12h0M559.2 2.4h0M442.1 2.4h0M560.3 0h0M460.6 -4.8h0M458.5 2.4h0M485.9 -7.2h0M381.5 -4.8h0M401.4 -4.8h0" stroke="#0078f2" stroke-width="6.90"/>
<path d="M707.1 0h0M621 -9.6h0" stroke="#972cb3" stroke-width="6.90"/>
<path d="M625.7 -7.2h0" stroke="#ee0077" stroke-width="6.90"/>
<path d="M700.5 -2.4h0M712 0h0M568 -7.2h0M578 -9.6h0M617.2 2.4h0M634.4 14.4h0M514.6 -2.4h0M567.8 2.4h0" stroke="#6559da" stroke-width="6.90"/>
<path d="M662.6 -2.4h0" stroke="#fa0064" stroke-width="6.90"/>
<path d="M634.8 9.6h0" stroke="#d40090" stroke-width="6.90"/>
<path d="M560.6 7.2h0M513.9 7.2h0M454.2 -4.8h0M568.5 12h0M603 9.6h0" stroke="#5161e1" stroke-width="6.90"/>
<path d="M667.6 9.6h0M670.7 -2.4h0" stroke="#e60080" stroke-width="6.90"/>
<path d="M653.5 2.4h0" stroke="#a31eab" stroke-width="6.90"/>
<path d="M599.1 -14.4h0M656.2 -12h0M636.8 -7.2h0M707.1 -4.8h0" stroke="#8d3abe" stroke-width="6.90"/>
<path d="M633.8 -4.8h0M649.9 12h0M627.4 12h0" stroke="#bd009f" stroke-width="6.90"/>
<path d="M623.2 12h0" stroke="#ff005b" stroke-width="6.90"/>
<path d="M521.3 4.8h0M470.7 -4.8h0M528.9 -4.8h0M591.8 -7.2h0" stroke="#5161e1" stroke-width="6.90"/>
<path d="M761 2.4h0M744.9 -4.8h0M716.9 -4.8h0" stroke="#b110a5" stroke-width="6.90"/>
<path d="M554.4 -4.8h0M407.6 0h0M411.3 -7.2h0M635.5 -9.6h0" stroke="#3569e8" stroke-width="6.90"/>
<path d="M601.6 0h0M614.4 -7.2h0M674.8 0h0M691.3 4.8h0" stroke="#754fd1" stroke-width="6.90"/>
<path d="M638.9 9.6h0M611.6 -14.4h0M662.6 -4.8h0M627.4 7.2h0M582.4 -2.4h0M578.7 -4.8h0" stroke="#6559da" stroke-width="6.90"/>
<path d="M323.3 -2.4h0M749.6 -2.4h0M364.1 -2.4h0M572.8 0h0M422.6 -7.2h0M391.7 0h0M352.5 4.8h0M458.8 -7.2h0M399.7 0h0M475 -7.2h0M384.1 2.4h0M449.4 -2.4h0M297 0h0M577.1 2.4h0M305.4 -2.4h0" stroke="#008bfb" stroke-width="6.90"/>
<path d="M691.6 -7.2h0M722.8 -2.4h0" stroke="#f5006e" stroke-width="6.90"/>
<path d="M487.1 -9.6h0M507 -2.4h0M374.3 -2.4h0M370.1 -4.8h0M438.8 -4.8h0M485.7 -2.4h0" stroke="#0078f2" stroke-width="6.90"/>
<path d="M598.8 2.4h0M662.6 -7.2h0M695.5 2.4h0" stroke="#972cb3" stroke-width="6.90"/>
<path d="M608.2 -7.2h0M629.2 16.8h0M601.3 7.2h0" stroke="#8245c8" stroke-width="6.90"/>
<path d="M634.4 7.2h0M642.2 4.8h0M689.6 -4.8h0M705.6 2.4h0M755.4 0h0M571.5 0h0M643.6 2.4h0M787.6 -2.4h0" stroke="#ff0051" stroke-width="6.90"/>
<path d="M444 7.2h0M352.2 -2.4h0M414.7 4.8h0M474.4 -2.4h0M432.8 -4.8h0M460.5 0h0M463 -2.4h0M418.1 4.8h0" stroke="#007ef6" stroke-width="6.90"/>
<path d="M660.1 -4.8h0M653.4 -14.4h0" stroke="#c90098" stroke-width="6.90"/>
<path d="M650.5 -9.6h0M633.3 -14.4h0M638.6 7.2h0" stroke="#ee0077" stroke-width="6.90"/>
<path d="M505 0h0M520.1 2.4h0M564.3 -4.8h0M518.2 -7.2h0" stroke="#0071ee" stroke-width="6.90"/>
<path d="M510.4 4.8h0M366.7 -4.8h0M470.6 4.8h0M454.6 -7.2h0M295.8 -2.4h0M327.3 -4.8h0M304.1 0h0" stroke="#0085f9" stroke-width="6.90"/>
<path d="M582.1 0h0M359.7 2.4h0M407.8 4.8h0M512.9 0h0M424.6 2.4h0" stroke="#0071ee" stroke-width="6.90"/>
<path d="M789 0h0" stroke="#bd009f" stroke-width="6.90"/>
<path d="M627.8 -12h0" stroke="#f5006e" stroke-width="6.90"/>
<path d="M627 14.4h0M646.4 0h0M592.3 7.2h0M622.1 -16.8h0M736.7 -2.4h0M606 -2.4h0M617 0h0M693.9 4.8h0" stroke="#8245c8" stroke-width="6.90"/>
<path d="M649.6 -2.4h0M626.6 -2.4h0M648.1 4.8h0" stroke="#b110a5" stroke-width="6.90"/>
<path d="M690 0h0" stroke="#972cb3" stroke-width="6.90"/>
<path d="M677 2.4h0" stroke="#ee0077" stroke-width="6.90"/>
<path d="M309 -2.4h0M330.9 0h0M360.4 -2.4h0M351.7 -4.8h0M430.9 0h0M442.6 -2.4h0M245.8 0h0M313 0h0M477.8 7.2h0" stroke="#008bfb" stroke-width="6.90"/>
<path d="M653.6 -4.8h0" stroke="#d40090" stroke-width="6.90"/>
<path d="M694.6 -4.8h0" stroke="#a31eab" stroke-width="6.90"/>
<path d="M430.3 2.4h0M550.9 2.4h0M599.6 9.6h0M557.4 7.2h0M498.7 9.6h0M426.3 4.8h0M524.4 -2.4h0M628.2 -14.4h0" stroke="#5161e1" stroke-width="6.90"/>
<path d="M713.6 -4.8h0M668.6 0h0M682.4 -9.6h0" stroke="#8d3abe" stroke-width="6.90"/>
<path d="M496.6 -7.2h0M372.5 2.4h0M506.9 0h0M380.4 -4.8h0" stroke="#007ef6" stroke-width="6.90"/>
<path d="M639 -7.2h0M540.9 0h0" stroke="#fa0064" stroke-width="6.90"/>
<path d="M345.2 -2.4h0M434.9 2.4h0M341.9 0h0M477.1 -2.4h0M343.1 -4.8h0M542.8 0h0M446.1 0h0M501.4 4.8h0M471.9 0h0M493.2 -2.4h0M502 -7.2h0M483.5 -12h0M487.1 7.2h0M390.4 -2.4h0" stroke="#0078f2" stroke-width="6.90"/>
<path d="M738.3 0h0M639.2 -14.4h0M725.8 2.4h0M645.9 9.6h0" stroke="#ff0051" stroke-width="6.90"/>
<path d="M601.3 -4.8h0M607.1 -14.4h0M689 2.4h0M716.3 4.8h0M743.2 4.8h0M568 -4.8h0M566.8 -12h0M622.3 4.8h0" stroke="#754fd1" stroke-width="6.90"/>
<path d="M452 0h0M618.9 4.8h0M578.3 2.4h0M576 4.8h0M593.3 -4.8h0M659.4 4.8h0M585 -9.6h0M569.1 9.6h0" stroke="#6559da" stroke-width="6.90"/>
<path d="M499.3 7.2h0M661 9.6h0M395.4 2.4h0M536.6 4.8h0" stroke="#3569e8" stroke-width="6.90"/>
<path d="M451.3 2.4h0M316.7 -4.8h0M466.5 4.8h0M310.8 2.4h0M437.5 -2.4h0" stroke="#0085f9" stroke-width="6.90"/>
<path d="M693.2 0h0" stroke="#e60080" stroke-width="6.90"/>
</g>
<g class="d" transform="translate(0 162.05) scale(1 1.130)">
<path d="M554.9 -1.7h0M531.5 3.5h0M531.5 10.5h0M580.3 -5.2h0M578.1 -1.7h0M561.5 0h0M548.2 1.7h0M668.9 0h0" stroke="#0078f2" stroke-width="6.90"/>
<path d="M597.4 -3.5h0M593.6 1.7h0M584 -8.7h0" stroke="#6559da" stroke-width="6.90"/>
<path d="M612.7 8.7h0" stroke="#d40090" stroke-width="6.90"/>
<path d="M619.9 12.2h0" stroke="#a31eab" stroke-width="6.90"/>
<path d="M597.5 -5.2h0M713.2 -1.7h0M603.9 10.5h0" stroke="#754fd1" stroke-width="6.90"/>
<path d="M641.1 -3.5h0M645.2 0h0M626 7h0M605.4 7h0" stroke="#ff0051" stroke-width="6.90"/>
<path d="M530.3 12.2h0M453.3 -1.7h0M555.9 5.2h0M573.4 -1.7h0M585.1 7h0" stroke="#0085f9" stroke-width="6.90"/>
<path d="M655.3 -1.7h0" stroke="#ee0077" stroke-width="6.90"/>
<path d="M662.3 0h0M595.1 -7h0M681.6 1.7h0" stroke="#5161e1" stroke-width="6.90"/>
<path d="M573.8 -3.5h0M516.6 -3.5h0M577.6 -7h0M544.4 -8.7h0M552.9 10.5h0M442.9 0h0M560.7 1.7h0" stroke="#007ef6" stroke-width="6.90"/>
<path d="M586.9 3.5h0" stroke="#8245c8" stroke-width="6.90"/>
<path d="M588.8 12.2h0M615.8 12.2h0" stroke="#972cb3" stroke-width="6.90"/>
<path d="M541.6 3.5h0M430.4 -3.5h0M479.2 5.2h0M452.6 1.7h0M540.9 -7h0M550.3 1.7h0M406.1 3.5h0M527.2 3.5h0M423.1 -1.7h0M502.6 7h0M450.4 -1.7h0M515.4 1.7h0M396.9 0h0M541.8 0h0M538.8 -5.2h0M508.4 -8.7h0M474.6 -5.2h0M559.9 7h0M535.1 -1.7h0M492.1 8.7h0M424.4 1.7h0M535.8 7h0M409.2 -3.5h0M447.2 1.7h0M451 0h0M524.9 -10.5h0M474.1 0h0M500.3 8.7h0M517.5 8.7h0M524.2 -3.5h0M535.4 5.2h0M406.4 1.7h0M549.7 -3.5h0M494.6 5.2h0M441.5 1.7h0M419.3 -3.5h0M511.2 8.7h0M487 -8.7h0M547.6 -7h0M538.5 5.2h0M471.2 3.5h0" stroke="#008bfb" stroke-width="6.90"/>
<path d="M582.8 8.7h0M573.4 0h0" stroke="#0071ee" stroke-width="6.90"/>
<path d="M653.8 0h0" stroke="#c90098" stroke-width="6.90"/>
<path d="M655.6 1.7h0M583.3 -10.5h0M613.4 -15.7h0M608.6 7h0" stroke="#3569e8" stroke-width="6.90"/>
<path d="M674.6 -1.7h0" stroke="#5161e1" stroke-width="6.90"/>
<path d="M633.5 0h0M597.8 5.2h0M643.6 3.5h0M596 7h0" stroke="#6559da" stroke-width="6.90"/>
<path d="M481.2 7h0M514.8 -1.7h0M324.1 0h0M524.2 8.7h0M485.5 -10.5h0M443.5 -1.7h0M557.3 7h0M484.6 0h0M527.9 -8.7h0M497.3 3.5h0M596.2 1.7h0M390.6 0h0M402.5 1.7h0M495.8 -1.7h0M495.2 7h0M535 -3.5h0M524.7 -12.2h0M548.4 -8.7h0M486.6 5.2h0M402.4 0h0M544 -12.2h0M292.8 0h0M528.7 -7h0M438.3 -3.5h0M474.7 1.7h0M539.9 1.7h0M503.3 10.5h0M505.1 -1.7h0M480.2 -7h0M491.9 0h0M515.3 12.2h0M488.9 3.5h0M472 5.2h0M434.8 0h0" stroke="#008bfb" stroke-width="6.90"/>
<path d="M601.6 -5.2h0M599 -1.7h0" stroke="#b110a5" stroke-width="6.90"/>
<path d="M593.6 8.7h0M609 -12.2h0" stroke="#3569e8" stroke-width="6.90"/>
<path d="M649.3 1.7h0" stroke="#bd009f" stroke-width="6.90"/>
<path d="M621.9 5.2h0M623.7 -5.2h0M612.6 -12.2h0" stroke="#de0088" stroke-width="6.90"/>
<path d="M619.5 -8.7h0M735.4 0h0" stroke="#e60080" stroke-width="6.90"/>
<path d="M718 0h0M611 12.2h0" stroke="#8245c8" stroke-width="6.90"/>
<path d="M538.6 -10.5h0M510.1 0h0M532.6 1.7h0M534 -5.2h0M484 -1.7h0M492.4 -8.7h0M503.8 8.7h0" stroke="#0085f9" stroke-width="6.90"/>
<path d="M726.5 1.7h0M593.9 3.5h0" stroke="#754fd1" stroke-width="6.90"/>
<path d="M772.7 0h0M617.7 3.5h0M573.1 1.7h0M617.2 -1.7h0" stroke="#972cb3" stroke-width="6.90"/>
<path d="M688.5 0h0M681.6 -3.5h0M593.9 -3.5h0" stroke="#0078f2" stroke-width="6.90"/>
<path d="M560.9 -1.7h0M567.8 -5.2h0M661 1.7h0M569.7 0h0M550.4 5.2h0M576.2 -7h0" stroke="#007ef6" stroke-width="6.90"/>
<path d="M690.4 -1.7h0M631.2 -5.2h0M630.3 5.2h0M643.4 5.2h0" stroke="#ff0051" stroke-width="6.90"/>
<path d="M549.7 8.7h0M579.1 5.2h0M607.6 -10.5h0M615.8 -17.4h0M615.8 5.2h0" stroke="#0071ee" stroke-width="6.90"/>
<path d="M618.5 -12.2h0" stroke="#c90098" stroke-width="6.90"/>
<path d="M611.9 7h0" stroke="#a31eab" stroke-width="6.90"/>
<path d="M581.9 3.5h0M639.7 -3.5h0M589 7h0" stroke="#8d3abe" stroke-width="6.90"/>
<path d="M400.2 3.5h0M420.6 0h0M495.5 -7h0M498.4 10.5h0M488.2 -5.2h0M471.8 1.7h0M526.1 -14h0M549 -12.2h0M565.2 3.5h0M498.2 -5.2h0M509 -5.2h0M470.1 -3.5h0M481.2 5.2h0M428.8 0h0M438.5 1.7h0M512.9 -12.2h0M495 -10.5h0M505 -10.5h0M476.5 -1.7h0M518.6 7h0M377.9 0h0M349.4 -1.7h0M463 3.5h0M497 -7h0M461.3 -1.7h0M463.2 1.7h0M487.2 -3.5h0M512.7 7h0M537.6 8.7h0M472.1 -7h0M517.3 0h0M525.8 14h0M263.4 0h0M485.3 -1.7h0M616.7 0h0M495 10.5h0M340 0h0" stroke="#008bfb" stroke-width="6.90"/>
<path d="M518.2 10.5h0M543.4 10.5h0M537.7 7h0M573.1 -5.2h0M500.8 -8.7h0M559.3 -12.2h0M554.2 1.7h0" stroke="#007ef6" stroke-width="6.90"/>
<path d="M607.2 14h0" stroke="#a31eab" stroke-width="6.90"/>
<path d="M602.7 -7h0M616.6 10.5h0M608.1 -3.5h0" stroke="#8d3abe" stroke-width="6.90"/>
<path d="M610.1 3.5h0M608.5 -1.7h0M744.9 0h0M722.7 -1.7h0" stroke="#972cb3" stroke-width="6.90"/>
<path d="M639.4 5.2h0M598.7 -10.5h0M622.7 0h0" stroke="#3569e8" stroke-width="6.90"/>
<path d="M566.1 -1.7h0M597 10.5h0" stroke="#754fd1" stroke-width="6.90"/>
<path d="M664.8 1.7h0" stroke="#d40090" stroke-width="6.90"/>
<path d="M649.3 0h0" stroke="#b110a5" stroke-width="6.90"/>
<path d="M546.8 -5.2h0M553.4 -7h0M588 1.7h0M535.2 -7h0M544.8 7h0M449.9 -3.5h0" stroke="#0085f9" stroke-width="6.90"/>
<path d="M640.5 -5.2h0M616.7 3.5h0M627.8 0h0M655 -3.5h0" stroke="#ff0051" stroke-width="6.90"/>
<path d="M675.3 3.5h0M576 5.2h0M601.2 -8.7h0M604.4 5.2h0" stroke="#0071ee" stroke-width="6.90"/>
<path d="M588.8 5.2h0M600.7 0h0M600.3 -1.7h0M616.1 -14h0M548.8 -1.7h0M646.8 -1.7h0M708.5 1.7h0" stroke="#0078f2" stroke-width="6.90"/>
<path d="M711 0h0" stroke="#fa0064" stroke-width="6.90"/>
<path d="M691.1 1.7h0" stroke="#5161e1" stroke-width="6.90"/>
<path d="M588.6 0h0M615.3 -8.7h0" stroke="#8245c8" stroke-width="6.90"/>
<path d="M621.5 -7h0" stroke="#e60080" stroke-width="6.90"/>
<path d="M625.3 -1.7h0" stroke="#bd009f" stroke-width="6.90"/>
<path d="M608.8 0h0" stroke="#b110a5" stroke-width="6.90"/>
<path d="M601.7 -10.5h0M638.7 1.7h0" stroke="#a31eab" stroke-width="6.90"/>
<path d="M528.1 -5.2h0M502.9 -3.5h0M484.2 -3.5h0M563.7 -8.7h0M583.7 -7h0M517.4 -10.5h0" stroke="#0085f9" stroke-width="6.90"/>
<path d="M640.5 0h0M559.5 12.2h0M562.3 -5.2h0M544.4 -3.5h0M587.3 5.2h0M582.9 0h0M573.2 3.5h0M522.6 -7h0" stroke="#0078f2" stroke-width="6.90"/>
<path d="M627.5 -7h0M626 3.5h0M641.1 -5.2h0M755.3 0h0M663.9 -1.7h0M677.2 0h0" stroke="#ff0051" stroke-width="6.90"/>
<path d="M572.5 7h0" stroke="#8245c8" stroke-width="6.90"/>
<path d="M598 -12.2h0M599.5 3.5h0M602.5 -3.5h0" stroke="#972cb3" stroke-width="6.90"/>
<path d="M593.4 -5.2h0M592.3 0h0M621.1 10.5h0M610.8 10.5h0" stroke="#8d3abe" stroke-width="6.90"/>
<path d="M566.3 5.2h0M627.8 -10.5h0M585.8 -3.5h0M601 -12.2h0M662.6 -1.7h0" stroke="#0071ee" stroke-width="6.90"/>
<path d="M492.8 1.7h0M512.3 3.5h0M502.9 3.5h0M528.8 1.7h0M399.5 -3.5h0M417.3 1.7h0M488.4 -7h0M484.8 3.5h0M431.4 -1.7h0M498.4 -10.5h0M446.4 0h0M525.4 7h0M514.8 -7h0M509.7 -3.5h0M483.3 1.7h0M500.2 5.2h0M530.3 10.5h0M524 5.2h0M493.8 3.5h0M487.9 1.7h0M526.5 5.2h0M477.9 7h0M411.7 1.7h0M552.2 3.5h0M562.6 -3.5h0M527.9 8.7h0M525.8 -1.7h0M326.7 -1.7h0M503.6 5.2h0M547.4 3.5h0M497.8 -3.5h0M458.8 1.7h0M491.6 -3.5h0" stroke="#008bfb" stroke-width="6.90"/>
<path d="M698 1.7h0" stroke="#bd009f" stroke-width="6.90"/>
<path d="M681.6 -1.7h0M614.4 15.7h0M694.2 0h0" stroke="#e60080" stroke-width="6.90"/>
<path d="M718.6 -1.7h0" stroke="#de0088" stroke-width="6.90"/>
<path d="M624.6 -8.7h0M780.3 0h0" stroke="#d40090" stroke-width="6.90"/>
<path d="M619.7 1.7h0M606.9 1.7h0M603.8 1.7h0M593.9 -1.7h0" stroke="#3569e8" stroke-width="6.90"/>
<path d="M629.1 3.5h0M561.7 -10.5h0M571.1 3.5h0M556.1 0h0M555.7 -3.5h0" stroke="#007ef6" stroke-width="6.90"/>
<path d="M579.5 1.7h0" stroke="#754fd1" stroke-width="6.90"/>
<path d="M589.9 -8.7h0M605.5 3.5h0" stroke="#b110a5" stroke-width="6.90"/>
<path d="M626.2 -3.5h0" stroke="#f5006e" stroke-width="6.90"/>
<path d="M723.3 0h0" stroke="#6559da" stroke-width="6.90"/>
<path d="M554.7 8.7h0M504.6 -7h0M519.9 -8.7h0M531.2 8.7h0M468.2 -5.2h0M520 -5.2h0M516 3.5h0M516.1 -8.7h0M545.8 -10.5h0M424.7 -3.5h0M642.7 -1.7h0M411 -3.5h0M552.7 12.2h0" stroke="#0085f9" stroke-width="6.90"/>
<path d="M724.9 -3.5h0" stroke="#ee0077" stroke-width="6.90"/>
<path d="M618.5 7h0M599.2 8.7h0M556.6 -10.5h0M611.9 -7h0M593.7 -12.2h0" stroke="#0078f2" stroke-width="6.90"/>
<path d="M739.2 0h0M594.5 -8.7h0M682.2 0h0" stroke="#8d3abe" stroke-width="6.90"/>
<path d="M697.4 -1.7h0" stroke="#754fd1" stroke-width="6.90"/>
<path d="M606.8 8.7h0" stroke="#bd009f" stroke-width="6.90"/>
<path d="M583.7 -5.2h0M584.4 8.7h0M533.4 -8.7h0M606.3 -7h0" stroke="#007ef6" stroke-width="6.90"/>
<path d="M706.9 -1.7h0M577.8 7h0M732.2 0h0M634.1 -3.5h0" stroke="#0071ee" stroke-width="6.90"/>
<path d="M610.4 -5.2h0M643.6 1.7h0M619 8.7h0M760 0h0M627.2 8.7h0" stroke="#ff0051" stroke-width="6.90"/>
<path d="M618.3 -14h0M631 -1.7h0" stroke="#fa0064" stroke-width="6.90"/>
<path d="M621.5 -5.2h0M626.2 1.7h0" stroke="#ff005b" stroke-width="6.90"/>
<path d="M609.4 5.2h0M579.6 -8.7h0" stroke="#8245c8" stroke-width="6.90"/>
<path d="M541.8 -8.7h0" stroke="#3569e8" stroke-width="6.90"/>
<path d="M578.4 -3.5h0" stroke="#5161e1" stroke-width="6.90"/>
<path d="M511.7 -1.7h0M617.7 -1.7h0M546.5 -1.7h0" stroke="#972cb3" stroke-width="6.90"/>
<path d="M478.5 -7h0M527.3 0h0M314.6 0h0M382.7 0h0M521.5 1.7h0M505.3 1.7h0M495.7 -5.2h0M554.5 -5.2h0M467.8 -1.7h0M547.5 8.7h0M363.7 0h0M534.3 0h0M467.9 0h0M519.3 -12.2h0M413.2 -1.7h0M591.4 -10.5h0M511.4 -10.5h0M485.7 0h0M466.5 0h0M482.2 -8.7h0M525.6 -3.5h0M520.1 10.5h0M479.4 -5.2h0M463.2 -5.2h0M498.4 1.7h0M531.3 -10.5h0M474.4 3.5h0M518.6 -5.2h0M413.2 0h0M544.3 0h0M347.9 0h0M467.6 -1.7h0M558.2 -7h0M442.4 -3.5h0" stroke="#008bfb" stroke-width="6.90"/>
<path d="M612 -10.5h0" stroke="#8d3abe" stroke-width="6.90"/>
<path d="M616.5 1.7h0M629.4 1.7h0" stroke="#de0088" stroke-width="6.90"/>
<path d="M555.1 -8.7h0" stroke="#754fd1" stroke-width="6.90"/>
<path d="M568.6 -3.5h0M611.2 -14h0" stroke="#3569e8" stroke-width="6.90"/>
<path d="M705.3 0h0M616.6 14h0M679.1 1.7h0" stroke="#a31eab" stroke-width="6.90"/>
<path d="M597.7 0h0M660.2 -3.5h0" stroke="#972cb3" stroke-width="6.90"/>
<path d="M499.7 7h0M518.4 5.2h0M521.6 12.2h0M487.4 8.7h0M560.3 8.7h0M462.1 -3.5h0M420.4 -1.7h0M465.2 5.2h0M525 -14h0M357.3 0h0M437.4 -1.7h0M523.2 7h0M403.7 -1.7h0M461.4 -3.5h0M513.8 5.2h0M497.5 0h0M524 0h0M424.9 0h0M408.5 0h0M525.9 -10.5h0M506.3 -5.2h0M559.2 10.5h0M478.2 -3.5h0M505.1 0h0M527.4 -12.2h0M407.3 -1.7h0M500.9 -1.7h0M397.8 -1.7h0M456.5 0h0M368.4 0h0M508 -8.7h0M489.7 7h0M551.1 0h0M428.2 1.7h0" stroke="#008bfb" stroke-width="6.90"/>
<path d="M540.3 -3.5h0M609.3 -8.7h0M553.1 -5.2h0M513.1 -7h0M561.6 5.2h0M569.7 1.7h0M569.6 -7h0" stroke="#007ef6" stroke-width="6.90"/>
<path d="M550.5 7h0M729.7 -1.7h0" stroke="#0071ee" stroke-width="6.90"/>
<path d="M588.7 10.5h0M627.8 5.2h0" stroke="#5161e1" stroke-width="6.90"/>
<path d="M538.7 10.5h0M454.4 -3.5h0M553 -10.5h0M523.9 -1.7h0M547.7 5.2h0M508.7 1.7h0M509.4 10.5h0M524.2 3.5h0M540.1 -1.7h0M585.1 -1.7h0" stroke="#0085f9" stroke-width="6.90"/>
<path d="M610.4 -15.7h0" stroke="#f5006e" stroke-width="6.90"/>
<path d="M715.8 1.7h0M563.1 -7h0M559 3.5h0M622.2 -10.5h0M594.1 -7h0" stroke="#0078f2" stroke-width="6.90"/>
<path d="M634.8 3.5h0" stroke="#bd009f" stroke-width="6.90"/>
<path d="M586.1 10.5h0" stroke="#8245c8" stroke-width="6.90"/>
<path d="M605 8.7h0M677.6 -1.7h0M839.1 0h0M672.7 0h0M629.4 7h0M698.7 0h0M680.6 -3.5h0M629.6 -7h0M635.7 -1.7h0M615.7 -3.5h0M620.2 -3.5h0M615.8 -5.2h0" stroke="#ff0051" stroke-width="6.90"/>
</g>
<g class="d" transform="translate(0 222.30) scale(1 1.130)">
<path d="M442.3 -2.6h0M518 -7.7h0M500.7 0h0M450.6 -1.3h0M443.9 -1.3h0M400.8 -1.3h0" stroke="#ff0051" stroke-width="6.90"/>
<path d="M498.7 1.3h0" stroke="#fa0064" stroke-width="6.90"/>
<path d="M554.7 9h0" stroke="#8d3abe" stroke-width="6.90"/>
<path d="M541.4 1.3h0M614.2 -7.7h0" stroke="#007ef6" stroke-width="6.90"/>
<path d="M557.9 -7.7h0M599.4 7.7h0M558.4 -5.1h0M543.4 10.2h0M542.9 0h0" stroke="#0078f2" stroke-width="6.90"/>
<path d="M545.7 -12.8h0M544.9 -5.1h0M575.1 -16.6h0M547.6 -7.7h0M553.9 -5.1h0" stroke="#754fd1" stroke-width="6.90"/>
<path d="M538.1 -3.8h0M653 0h0M589.9 -15.4h0" stroke="#0071ee" stroke-width="6.90"/>
<path d="M419 0h0" stroke="#e60080" stroke-width="6.90"/>
<path d="M526.6 1.3h0M554.7 7.7h0M518.1 -6.4h0" stroke="#b110a5" stroke-width="6.90"/>
<path d="M424 0h0" stroke="#ee0077" stroke-width="6.90"/>
<path d="M589 2.6h0M550.4 15.4h0M562.5 11.5h0M581.3 -6.4h0M569.9 14.1h0" stroke="#6559da" stroke-width="6.90"/>
<path d="M558.5 9h0" stroke="#a31eab" stroke-width="6.90"/>
<path d="M594.6 11.5h0" stroke="#8245c8" stroke-width="6.90"/>
<path d="M464.9 1.3h0M478.8 5.1h0M493.6 2.6h0" stroke="#d40090" stroke-width="6.90"/>
<path d="M492.3 -2.6h0M463 -1.3h0M534.2 6.4h0M500 2.6h0" stroke="#c90098" stroke-width="6.90"/>
<path d="M548.7 3.8h0M605.6 -5.1h0" stroke="#3569e8" stroke-width="6.90"/>
<path d="M259.7 0h0M448.9 0h0M321.1 0h0" stroke="#de0088" stroke-width="6.90"/>
<path d="M567.5 1.3h0" stroke="#972cb3" stroke-width="6.90"/>
<path d="M525 -1.3h0M597.5 3.8h0M613.4 -6.4h0" stroke="#5161e1" stroke-width="6.90"/>
<path d="M459.9 -1.3h0M521.2 -3.8h0" stroke="#f5006e" stroke-width="6.90"/>
<path d="M384.9 0h0" stroke="#ff005b" stroke-width="6.90"/>
<path d="M603.9 0h0" stroke="#0085f9" stroke-width="6.90"/>
<path d="M650.2 -2.6h0M646.2 3.8h0M670.3 -2.6h0M571.1 10.2h0M553.7 14.1h0M542.4 5.1h0M679.7 1.3h0M579.1 11.5h0M620.3 -6.4h0M642.1 1.3h0M519.2 3.8h0M614.8 5.1h0M669.4 -1.3h0M605.3 -9h0M545.1 -16.6h0M627.9 3.8h0M674 1.3h0M633.9 5.1h0M577.5 9h0M597.4 -6.4h0M521.6 5.1h0M625.9 7.7h0M602.3 3.8h0M584.5 12.8h0M618.4 1.3h0M568.5 2.6h0M591 -3.8h0M570 -16.6h0M669.2 1.3h0M655.5 1.3h0M565.2 -5.1h0" stroke="#008bfb" stroke-width="6.90"/>
<path d="M513.2 2.6h0M535.1 7.7h0M560.6 3.8h0M507.8 -2.6h0M510.5 1.3h0M537.6 -1.3h0" stroke="#bd009f" stroke-width="6.90"/>
<path d="M476.4 0h0" stroke="#c90098" stroke-width="6.90"/>
<path d="M572.7 -5.1h0M563.2 6.4h0" stroke="#3569e8" stroke-width="6.90"/>
<path d="M518.9 5.1h0M590.2 -12.8h0M530.1 5.1h0M524.1 0h0" stroke="#8d3abe" stroke-width="6.90"/>
<path d="M565.1 5.1h0M570 -10.2h0M663.9 0h0M680.7 -1.3h0M685.5 -1.3h0M524.3 3.8h0M584.7 11.5h0M803.4 0h0M674.8 2.6h0M583.1 10.2h0M575.3 -1.3h0M664.4 -2.6h0M588.9 1.3h0M607.7 9h0M563.9 -3.8h0M576.5 -3.8h0M579.5 -15.4h0M606.5 -2.6h0M635.1 0h0M513.7 -1.3h0M623.8 -2.6h0M590.2 -7.7h0M579.3 -12.8h0M625.4 -3.8h0M583.8 6.4h0M603.5 5.1h0M740.7 0h0M627.7 1.3h0M644.3 -2.6h0M593.9 9h0M653.2 -3.8h0M640.3 1.3h0M541.1 2.6h0M627 -7.7h0M595.5 0h0M562.1 6.4h0" stroke="#008bfb" stroke-width="6.90"/>
<path d="M227.5 0h0M435.6 -1.3h0" stroke="#fa0064" stroke-width="6.90"/>
<path d="M618 -1.3h0M580.7 7.7h0M585.2 -7.7h0" stroke="#007ef6" stroke-width="6.90"/>
<path d="M549.1 5.1h0M550.4 0h0M554.3 -15.4h0M543.9 -7.7h0" stroke="#0078f2" stroke-width="6.90"/>
<path d="M477.8 -2.6h0M618.3 3.8h0M610.2 1.3h0M620.7 -3.8h0M559.1 5.1h0" stroke="#0085f9" stroke-width="6.90"/>
<path d="M481.8 -1.3h0M511.5 3.8h0M560.7 -1.3h0M461.5 0h0" stroke="#972cb3" stroke-width="6.90"/>
<path d="M546.4 -10.2h0M510 0h0M517.1 -2.6h0M517 1.3h0M510.1 6.4h0" stroke="#8245c8" stroke-width="6.90"/>
<path d="M524.6 -6.4h0M504.4 -3.8h0M443.3 0h0" stroke="#ee0077" stroke-width="6.90"/>
<path d="M285.3 0h0M400.5 0h0M398.1 -1.3h0M427.3 -1.3h0" stroke="#ff0051" stroke-width="6.90"/>
<path d="M529.1 -2.6h0M594.1 -3.8h0" stroke="#5161e1" stroke-width="6.90"/>
<path d="M487.9 -1.3h0" stroke="#b110a5" stroke-width="6.90"/>
<path d="M443.9 2.6h0M440.6 2.6h0" stroke="#ff005b" stroke-width="6.90"/>
<path d="M347.7 0h0M440.6 1.3h0M414.7 -1.3h0" stroke="#bd009f" stroke-width="6.90"/>
<path d="M551.7 16.6h0M595.4 2.6h0" stroke="#754fd1" stroke-width="6.90"/>
<path d="M570.9 -9h0M569.3 3.8h0M579 -14.1h0" stroke="#0071ee" stroke-width="6.90"/>
<path d="M448.9 1.3h0" stroke="#d40090" stroke-width="6.90"/>
<path d="M626.9 -6.4h0M552.2 3.8h0M609.1 -7.7h0M588.6 12.8h0M622 -7.7h0" stroke="#6559da" stroke-width="6.90"/>
<path d="M552.8 -12.8h0M579.2 -7.7h0M537.7 -7.7h0M599.9 -6.4h0" stroke="#3569e8" stroke-width="6.90"/>
<path d="M548.9 -14.1h0M538.7 3.8h0M615.1 -5.1h0M555.9 1.3h0M557.4 -11.5h0M608.2 3.8h0" stroke="#8245c8" stroke-width="6.90"/>
<path d="M561.5 10.2h0M789.8 0h0M643.4 -3.8h0M684.8 0h0M615.6 6.4h0M832 0h0M654.2 -2.6h0M676.8 0h0M550.6 -9h0M673.7 -2.6h0M594.7 -10.2h0M612.2 7.7h0M744.4 0h0M569.4 -7.7h0M527.4 -3.8h0M607.7 -9h0M638 0h0M584.4 7.7h0M670.2 0h0M571.7 -15.4h0M537.8 0h0M690.2 -1.3h0M599.2 -2.6h0M507 2.6h0M534.9 1.3h0M649.5 -1.3h0M544 7.7h0M551.5 -10.2h0" stroke="#008bfb" stroke-width="6.90"/>
<path d="M487.1 -2.6h0M429 -2.6h0M480.5 -5.1h0" stroke="#f5006e" stroke-width="6.90"/>
<path d="M487.5 0h0M298.6 0h0" stroke="#c90098" stroke-width="6.90"/>
<path d="M528.7 -7.7h0" stroke="#de0088" stroke-width="6.90"/>
<path d="M608.1 5.1h0M507.2 1.3h0M599.6 9h0M569.5 -6.4h0M550.3 -1.3h0" stroke="#754fd1" stroke-width="6.90"/>
<path d="M555.1 11.5h0M540.4 3.8h0M639.8 3.8h0M635.2 6.4h0M642.7 0h0M589.6 0h0" stroke="#0085f9" stroke-width="6.90"/>
<path d="M552.5 -1.3h0M490.4 1.3h0" stroke="#8d3abe" stroke-width="6.90"/>
<path d="M483.8 1.3h0M452.2 -2.6h0" stroke="#ff0051" stroke-width="6.90"/>
<path d="M545.4 -3.8h0M561.4 1.3h0M597.2 -1.3h0M602.8 1.3h0M595.4 6.4h0M630.3 1.3h0" stroke="#6559da" stroke-width="6.90"/>
<path d="M578.2 14.1h0M600.3 -2.6h0M585.3 0h0" stroke="#007ef6" stroke-width="6.90"/>
<path d="M293.9 -1.3h0M388.5 0h0" stroke="#d40090" stroke-width="6.90"/>
<path d="M506.1 0h0" stroke="#b110a5" stroke-width="6.90"/>
<path d="M544.1 6.4h0M573.1 -17.9h0M569.7 2.6h0M531.9 3.8h0" stroke="#0071ee" stroke-width="6.90"/>
<path d="M626.8 5.1h0M547.5 9h0M541.1 -6.4h0" stroke="#a31eab" stroke-width="6.90"/>
<path d="M473.5 -5.1h0M555.4 -16.6h0M516.5 6.4h0M464.5 -2.6h0M542.3 -3.8h0M475.8 -1.3h0" stroke="#bd009f" stroke-width="6.90"/>
<path d="M523.6 2.6h0" stroke="#e60080" stroke-width="6.90"/>
<path d="M540.9 -1.3h0M435 1.3h0" stroke="#972cb3" stroke-width="6.90"/>
<path d="M574.1 16.6h0M561.2 -3.8h0M534.3 2.6h0M589.9 -14.1h0" stroke="#0078f2" stroke-width="6.90"/>
<path d="M313.2 0h0" stroke="#ee0077" stroke-width="6.90"/>
<path d="M553.7 -9h0M640.7 -2.6h0M545.3 2.6h0" stroke="#0071ee" stroke-width="6.90"/>
<path d="M423.4 -1.3h0M517.7 0h0M584.6 -1.3h0M555.7 -3.8h0" stroke="#8245c8" stroke-width="6.90"/>
<path d="M491.9 3.8h0M479.5 3.8h0M553.5 -6.4h0" stroke="#a31eab" stroke-width="6.90"/>
<path d="M572.3 11.5h0M544.4 9h0M591.2 5.1h0M587.5 14.1h0M541.8 -5.1h0M586.7 2.6h0M585.7 -3.8h0" stroke="#754fd1" stroke-width="6.90"/>
<path d="M499.8 3.8h0M481.1 0h0M540.5 -2.6h0" stroke="#972cb3" stroke-width="6.90"/>
<path d="M597.8 7.7h0M619.8 -2.6h0M601.3 2.6h0" stroke="#5161e1" stroke-width="6.90"/>
<path d="M586.2 -15.4h0M605.4 6.4h0M594.4 -9h0" stroke="#3569e8" stroke-width="6.90"/>
<path d="M587.1 -11.5h0M621.6 0h0M599.7 -3.8h0" stroke="#0078f2" stroke-width="6.90"/>
<path d="M523.1 6.4h0" stroke="#f5006e" stroke-width="6.90"/>
<path d="M557.6 -9h0M618.2 9h0M619.1 6.4h0M552.1 0h0M566.4 3.8h0" stroke="#0085f9" stroke-width="6.90"/>
<path d="M487.1 2.6h0" stroke="#ff005b" stroke-width="6.90"/>
<path d="M494.9 1.3h0" stroke="#bd009f" stroke-width="6.90"/>
<path d="M579.5 2.6h0M547.7 -15.4h0M523.7 -2.6h0M662.6 -1.3h0M575.7 -6.4h0M555.9 -11.5h0M562.7 -2.6h0M571.3 5.1h0M593.4 1.3h0M518.6 7.7h0M536.7 -6.4h0M649.4 1.3h0M678.8 0h0M568 -2.6h0M670.5 2.6h0M656.1 2.6h0M582.7 -5.1h0M640.2 -5.1h0M546.6 -11.5h0M575.2 1.3h0M572.4 -1.3h0M578.2 6.4h0M550.6 -2.6h0M575.1 10.2h0M616 0h0M558.9 2.6h0M508.7 -3.8h0M520.3 -5.1h0M639.6 -3.8h0M586.5 9h0M572.1 -14.1h0" stroke="#008bfb" stroke-width="6.90"/>
<path d="M453.9 2.6h0M476.1 2.6h0" stroke="#c90098" stroke-width="6.90"/>
<path d="M587.6 9h0M627.2 2.6h0M619 -9h0M616.9 2.6h0M611 0h0" stroke="#6559da" stroke-width="6.90"/>
<path d="M631.1 -6.4h0M582.6 5.1h0M582.3 3.8h0M610.7 -1.3h0" stroke="#007ef6" stroke-width="6.90"/>
<path d="M559.2 0h0M566.8 0h0" stroke="#b110a5" stroke-width="6.90"/>
<path d="M308.5 0h0M414.1 0h0M396.1 0h0M236.1 0h0M468.5 -2.6h0M387.5 -1.3h0M497.5 -3.8h0" stroke="#ff0051" stroke-width="6.90"/>
<path d="M508.7 -6.4h0M429 1.3h0" stroke="#de0088" stroke-width="6.90"/>
<path d="M582.5 1.3h0" stroke="#754fd1" stroke-width="6.90"/>
<path d="M486.2 3.8h0M507.2 -1.3h0M551.9 -14.1h0M502 -1.3h0M519.5 -1.3h0" stroke="#8245c8" stroke-width="6.90"/>
<path d="M631.2 3.8h0M578.5 15.4h0M553.3 2.6h0M614.4 -9h0M554.2 15.4h0" stroke="#0085f9" stroke-width="6.90"/>
<path d="M550.8 12.8h0M565.5 -7.7h0" stroke="#b110a5" stroke-width="6.90"/>
<path d="M529.9 0h0M500.2 -2.6h0M522.7 -7.7h0" stroke="#972cb3" stroke-width="6.90"/>
<path d="M570.1 7.7h0M662.4 2.6h0M573.8 9h0M634.2 2.6h0M652.1 2.6h0M609 7.7h0M446.3 1.3h0M553.7 12.8h0M582.3 14.1h0M596.2 5.1h0M535.4 5.1h0M590.4 -10.2h0M632.5 -3.8h0M575 -11.5h0M534 9h0M623.9 -1.3h0M621.5 -5.1h0M574.4 -3.8h0M575.5 3.8h0M576.6 5.1h0M630.7 -1.3h0M643.6 2.6h0M594.7 -11.5h0M581.6 -12.8h0M574.4 1.3h0M548.7 6.4h0M638.7 5.1h0M658.3 -1.3h0M593 -6.4h0M627.7 6.4h0M483.8 2.6h0M593.1 -1.3h0" stroke="#008bfb" stroke-width="6.90"/>
<path d="M491.4 -1.3h0M467.2 -1.3h0" stroke="#e60080" stroke-width="6.90"/>
<path d="M580.7 12.8h0M590.7 10.2h0M613.6 -2.6h0M531.5 -1.3h0" stroke="#3569e8" stroke-width="6.90"/>
<path d="M363.9 0h0M357.6 -1.3h0M358.3 0h0M291.8 0h0M458.2 0h0M483.8 -2.6h0" stroke="#ff0051" stroke-width="6.90"/>
<path d="M618 7.7h0M554.9 10.2h0M558.9 -6.4h0M588.3 6.4h0" stroke="#0071ee" stroke-width="6.90"/>
<path d="M542.1 11.5h0M550.5 7.7h0M539.5 -10.2h0" stroke="#8d3abe" stroke-width="6.90"/>
<path d="M547.3 -6.4h0M580.3 -9h0" stroke="#6559da" stroke-width="6.90"/>
<path d="M548.2 10.2h0M577.1 -2.6h0M530.8 1.3h0M630.4 -5.1h0M629.4 -5.1h0M570.6 -2.6h0" stroke="#0078f2" stroke-width="6.90"/>
<path d="M272.7 0h0M529.6 6.4h0" stroke="#d40090" stroke-width="6.90"/>
<path d="M458.1 1.3h0" stroke="#bd009f" stroke-width="6.90"/>
<path d="M568.5 -1.3h0M662 -3.8h0M584.7 -16.6h0M493.7 0h0M659 0h0M552.3 -2.6h0M534.9 -5.1h0M558.7 7.7h0" stroke="#007ef6" stroke-width="6.90"/>
<path d="M584.5 -10.2h0M589.7 -9h0M539.2 -9h0" stroke="#5161e1" stroke-width="6.90"/>
<path d="M420.7 1.3h0M477.3 1.3h0" stroke="#c90098" stroke-width="6.90"/>
<path d="M578.2 16.6h0M611.2 2.6h0" stroke="#6559da" stroke-width="6.90"/>
<path d="M575.8 -10.2h0M591.2 11.5h0M469.5 2.6h0M598.5 10.2h0" stroke="#007ef6" stroke-width="6.90"/>
<path d="M513.4 -2.6h0M534.1 -2.6h0" stroke="#a31eab" stroke-width="6.90"/>
<path d="M531.2 -5.1h0M472.2 1.3h0" stroke="#de0088" stroke-width="6.90"/>
<path d="M432.3 0h0M367.6 -1.3h0M487.1 -3.8h0" stroke="#d40090" stroke-width="6.90"/>
<path d="M690 0h0M676.9 -1.3h0M583.7 -2.6h0M629.9 -2.6h0M537.2 -9h0M640.3 2.6h0M601.5 -5.1h0M614.8 9h0M578.8 -5.1h0M583.1 -9h0M614.7 3.8h0M638.2 -1.3h0M436.3 -1.3h0M588.6 7.7h0M627.5 0h0M578 -11.5h0M604.9 6.4h0M615.1 -3.8h0M585.4 15.4h0M594.6 -7.7h0M517.7 2.6h0M571.2 12.8h0M655.3 -3.8h0M592.6 3.8h0M528.9 2.6h0M616 -1.3h0M601.1 -7.7h0M584.1 -14.1h0M642.5 -1.3h0M619.2 2.6h0M589.8 -2.6h0" stroke="#008bfb" stroke-width="6.90"/>
<path d="M591 -11.5h0M604.1 -1.3h0M594.2 -5.1h0M547.8 14.1h0M514 -5.1h0M555.9 5.1h0" stroke="#754fd1" stroke-width="6.90"/>
<path d="M243.4 0h0" stroke="#ff005b" stroke-width="6.90"/>
<path d="M556.9 -7.7h0M508.9 5.1h0" stroke="#8245c8" stroke-width="6.90"/>
<path d="M387.5 1.3h0M261.4 0h0M414.1 1.3h0M472.2 0h0M438.3 -2.6h0M249.8 0h0M341 0h0M436.6 0h0" stroke="#ff0051" stroke-width="6.90"/>
<path d="M551.9 -17.9h0M524.3 -5.1h0M519.1 -3.8h0M547 11.5h0M554.8 6.4h0M529.4 -6.4h0M570.4 0h0" stroke="#0085f9" stroke-width="6.90"/>
<path d="M445.6 -3.8h0M565 -6.4h0M489.6 -5.1h0M559.9 -10.2h0" stroke="#b110a5" stroke-width="6.90"/>
<path d="M492.3 -3.8h0" stroke="#bd009f" stroke-width="6.90"/>
<path d="M587.9 -5.1h0M617.2 1.3h0M618 5.1h0" stroke="#3569e8" stroke-width="6.90"/>
<path d="M610.5 -3.8h0M580.1 0h0M544.2 -11.5h0" stroke="#0071ee" stroke-width="6.90"/>
<path d="M482.7 -3.8h0M476.5 -3.8h0M477.1 3.8h0" stroke="#c90098" stroke-width="6.90"/>
<path d="M541.4 -12.8h0M607.9 -6.4h0M569.5 17.9h0" stroke="#5161e1" stroke-width="6.90"/>
<path d="M573 15.4h0M570.5 6.4h0M660.1 1.3h0M570.7 -12.8h0M546 1.3h0" stroke="#0078f2" stroke-width="6.90"/>
<path d="M505.2 3.8h0" stroke="#8d3abe" stroke-width="6.90"/>
</g>
<g class="d" transform="translate(0 282.55) scale(1 1.130)">
<path d="M408.7 0h0M453.4 2.6h0M470.3 3.8h0M561.7 -10.2h0M664.1 -1.3h0" stroke="#8d3abe" stroke-width="6.90"/>
<path d="M534.1 7.7h0M465.9 -2.6h0" stroke="#ff005b" stroke-width="6.90"/>
<path d="M532 -6.4h0M522.9 5.1h0M514.2 -7.7h0" stroke="#8245c8" stroke-width="6.90"/>
<path d="M537 0h0M522.5 -1.3h0M498.7 -3.8h0" stroke="#f5006e" stroke-width="6.90"/>
<path d="M583.7 -2.6h0M551.5 5.1h0M585.1 7.7h0M575 -2.6h0M577.9 -5.1h0" stroke="#0078f2" stroke-width="6.90"/>
<path d="M661 -2.6h0M572.3 -1.3h0M635.7 -1.3h0M589.1 14.1h0M579.2 -3.8h0M577.2 2.6h0" stroke="#3569e8" stroke-width="6.90"/>
<path d="M568.4 -5.1h0M578.2 7.7h0M554 -9h0M590.5 -17.9h0M661.2 0h0" stroke="#6559da" stroke-width="6.90"/>
<path d="M497.8 -6.4h0M551.1 3.8h0" stroke="#a31eab" stroke-width="6.90"/>
<path d="M589.5 9h0M591.6 1.3h0" stroke="#0085f9" stroke-width="6.90"/>
<path d="M532.7 9h0" stroke="#fa0064" stroke-width="6.90"/>
<path d="M535.6 -6.4h0M391.9 -1.3h0M499.3 -5.1h0M480.4 2.6h0M407.9 -1.3h0" stroke="#d40090" stroke-width="6.90"/>
<path d="M506 -5.1h0M424.7 -2.6h0M412.8 0h0M569.8 9h0" stroke="#972cb3" stroke-width="6.90"/>
<path d="M528.3 3.8h0" stroke="#e60080" stroke-width="6.90"/>
<path d="M462.8 0h0M418.6 0h0M479.1 -1.3h0M540.3 7.7h0" stroke="#b110a5" stroke-width="6.90"/>
<path d="M456.6 1.3h0M519.6 -9h0M522.8 -6.4h0M528.3 -1.3h0M517 7.7h0M435.4 1.3h0" stroke="#ff0051" stroke-width="6.90"/>
<path d="M598.3 -9h0M592.2 9h0M579.5 -6.4h0" stroke="#007ef6" stroke-width="6.90"/>
<path d="M442.1 2.6h0" stroke="#de0088" stroke-width="6.90"/>
<path d="M602.8 6.4h0M659.5 2.6h0M629.9 -3.8h0M609.6 2.6h0M608.1 -2.6h0M593 6.4h0M625.5 -2.6h0M815.1 0h0M624.1 -5.1h0M540.8 -9h0M627.9 0h0M621.7 -1.3h0M608.1 1.3h0" stroke="#008bfb" stroke-width="6.90"/>
<path d="M598.1 9h0M554.9 0h0M688.8 0h0M597.1 3.8h0M674.9 -3.8h0" stroke="#5161e1" stroke-width="6.90"/>
<path d="M567 -9h0M664.1 -3.8h0" stroke="#754fd1" stroke-width="6.90"/>
<path d="M526.9 2.6h0M542.8 -2.6h0M541.7 2.6h0" stroke="#c90098" stroke-width="6.90"/>
<path d="M602.2 3.8h0M564.2 -3.8h0M580.1 -7.7h0" stroke="#0071ee" stroke-width="6.90"/>
<path d="M457.8 0h0M465.9 -1.3h0M507.4 -1.3h0M488.6 -5.1h0M483.3 1.3h0" stroke="#bd009f" stroke-width="6.90"/>
<path d="M441.2 1.3h0M524 3.8h0" stroke="#ee0077" stroke-width="6.90"/>
<path d="M582 0h0M624.1 3.8h0M537.1 -9h0M542.5 -7.7h0M577.8 -1.3h0M574.4 -5.1h0" stroke="#6559da" stroke-width="6.90"/>
<path d="M583.1 -10.2h0M593.6 -1.3h0M574.2 0h0M590.2 3.8h0M561.1 -2.6h0" stroke="#5161e1" stroke-width="6.90"/>
<path d="M497 -2.6h0" stroke="#ee0077" stroke-width="6.90"/>
<path d="M549.2 2.6h0M564.5 -6.4h0M516.2 5.1h0M507.4 3.8h0" stroke="#8d3abe" stroke-width="6.90"/>
<path d="M546.6 -5.1h0M603.8 -6.4h0M605.7 2.6h0M625.1 -1.3h0M611 5.1h0M638.6 2.6h0M566 5.1h0M631.4 1.3h0M612.3 6.4h0M658.1 0h0M577.9 3.8h0M398 0h0M608.2 -7.7h0M596.5 -2.6h0M652.4 0h0M613.8 -1.3h0M603.9 -1.3h0M746.9 0h0" stroke="#008bfb" stroke-width="6.90"/>
<path d="M571.8 -7.7h0M577.1 1.3h0M575 6.4h0M613.9 -5.1h0" stroke="#754fd1" stroke-width="6.90"/>
<path d="M508 -5.1h0M481.9 0h0M467.9 1.3h0" stroke="#e60080" stroke-width="6.90"/>
<path d="M558.3 -6.4h0M560.5 7.7h0M426.7 1.3h0" stroke="#972cb3" stroke-width="6.90"/>
<path d="M563.3 -6.4h0M515.6 -1.3h0M524 -10.2h0" stroke="#8245c8" stroke-width="6.90"/>
<path d="M554.8 5.1h0M593.4 5.1h0M587.2 -10.2h0M619.7 -3.8h0M559.6 -11.5h0M590.6 10.2h0M650.2 1.3h0" stroke="#0071ee" stroke-width="6.90"/>
<path d="M577.5 0h0" stroke="#3569e8" stroke-width="6.90"/>
<path d="M602.7 10.2h0M595.6 -2.6h0M555 7.7h0" stroke="#0085f9" stroke-width="6.90"/>
<path d="M541.4 0h0M465.9 2.6h0M455.2 -1.3h0M378 -1.3h0" stroke="#de0088" stroke-width="6.90"/>
<path d="M499.7 0h0M440.4 -3.8h0M498.9 2.6h0M473.8 -3.8h0M541.1 6.4h0" stroke="#a31eab" stroke-width="6.90"/>
<path d="M335 0h0M442.7 0h0M485.6 6.4h0" stroke="#fa0064" stroke-width="6.90"/>
<path d="M550.9 6.4h0M478 1.3h0M470.1 2.6h0" stroke="#b110a5" stroke-width="6.90"/>
<path d="M308.3 0h0" stroke="#ff005b" stroke-width="6.90"/>
<path d="M568.4 10.2h0M591.3 0h0M712 0h0" stroke="#007ef6" stroke-width="6.90"/>
<path d="M492.9 -6.4h0M411.6 -2.6h0M554.2 3.8h0M502.1 -2.6h0M443.3 2.6h0M537.4 2.6h0" stroke="#bd009f" stroke-width="6.90"/>
<path d="M416 -1.3h0M386.1 0h0" stroke="#d40090" stroke-width="6.90"/>
<path d="M625.5 2.6h0" stroke="#0078f2" stroke-width="6.90"/>
<path d="M412.8 1.3h0M544.1 3.8h0" stroke="#c90098" stroke-width="6.90"/>
<path d="M531.8 1.3h0M436 -1.3h0M482.7 5.1h0" stroke="#ff0051" stroke-width="6.90"/>
<path d="M585.8 -12.8h0M589.3 -15.4h0M582.2 -9h0M676.3 -1.3h0M582.1 -1.3h0" stroke="#3569e8" stroke-width="6.90"/>
<path d="M393.9 0h0M515.3 -2.6h0" stroke="#d40090" stroke-width="6.90"/>
<path d="M591.3 -5.1h0M582.5 11.5h0M684.8 1.3h0" stroke="#5161e1" stroke-width="6.90"/>
<path d="M599.8 -1.3h0M618 5.1h0M613.8 -2.6h0M673.4 -1.3h0M556.5 -1.3h0M626.4 -6.4h0M604.6 -5.1h0M625.2 1.3h0M602.7 -2.6h0M605.2 1.3h0M622.7 -3.8h0M571.5 7.7h0M602.9 -7.7h0M622.1 -2.6h0M662.7 3.8h0M586.7 -9h0M667.6 0h0" stroke="#008bfb" stroke-width="6.90"/>
<path d="M564.3 3.8h0M585.5 6.4h0M638 1.3h0M592.3 -3.8h0M674.9 2.6h0" stroke="#0071ee" stroke-width="6.90"/>
<path d="M502.4 5.1h0M500.5 6.4h0M502.9 -6.4h0M546.7 0h0M503.8 2.6h0M551.6 -1.3h0" stroke="#b110a5" stroke-width="6.90"/>
<path d="M557 -3.8h0M531.2 6.4h0" stroke="#ff005b" stroke-width="6.90"/>
<path d="M518.5 9h0M502.6 0h0" stroke="#8d3abe" stroke-width="6.90"/>
<path d="M514 2.6h0M477.2 5.1h0M506.6 -3.8h0" stroke="#972cb3" stroke-width="6.90"/>
<path d="M601.5 5.1h0M611.8 5.1h0M592.9 -6.4h0M597.2 -3.8h0M601.1 -5.1h0" stroke="#0085f9" stroke-width="6.90"/>
<path d="M463 1.3h0M483.6 3.8h0M477.6 2.6h0M478.9 -2.6h0" stroke="#bd009f" stroke-width="6.90"/>
<path d="M470.4 0h0M611.9 0h0M552.3 0h0" stroke="#a31eab" stroke-width="6.90"/>
<path d="M523.8 0h0M561.5 -1.3h0M569.1 0h0M599.4 2.6h0M567.3 -7.7h0M517.7 1.3h0M527 -3.8h0M532.3 2.6h0" stroke="#8245c8" stroke-width="6.90"/>
<path d="M587.6 -3.8h0M597.4 -10.2h0M585.5 -2.6h0M569.4 -1.3h0M588 -11.5h0" stroke="#0078f2" stroke-width="6.90"/>
<path d="M492 2.6h0M490.6 -3.8h0" stroke="#e60080" stroke-width="6.90"/>
<path d="M594.8 -9h0M507.1 1.3h0M574.1 6.4h0" stroke="#754fd1" stroke-width="6.90"/>
<path d="M551 -7.7h0M583.8 1.3h0M608.3 6.4h0M590 -1.3h0" stroke="#007ef6" stroke-width="6.90"/>
<path d="M440.4 -1.3h0M550.1 -6.4h0M586.4 17.9h0M618.3 3.8h0M543.2 -6.4h0M546 1.3h0" stroke="#6559da" stroke-width="6.90"/>
<path d="M513.2 -5.1h0" stroke="#fa0064" stroke-width="6.90"/>
<path d="M437.5 -2.6h0M614.8 2.6h0M425 -1.3h0M539.9 -6.4h0M382.6 0h0" stroke="#ff0051" stroke-width="6.90"/>
<path d="M519.7 -6.4h0M488.5 -1.3h0M494.9 0h0M450 -1.3h0" stroke="#972cb3" stroke-width="6.90"/>
<path d="M658.3 1.3h0M521.6 0h0" stroke="#0078f2" stroke-width="6.90"/>
<path d="M523.5 1.3h0M513.6 3.8h0M568.9 1.3h0M524.2 9h0M481 -5.1h0" stroke="#8245c8" stroke-width="6.90"/>
<path d="M547.8 6.4h0" stroke="#fa0064" stroke-width="6.90"/>
<path d="M462.1 -2.6h0M488.1 1.3h0M485.7 3.8h0M470.6 1.3h0" stroke="#bd009f" stroke-width="6.90"/>
<path d="M487.7 -6.4h0M528.3 -2.6h0" stroke="#ee0077" stroke-width="6.90"/>
<path d="M446.2 -1.3h0M356.2 0h0" stroke="#f5006e" stroke-width="6.90"/>
<path d="M638 -3.8h0M589.4 -14.1h0M539 5.1h0M589.8 -16.6h0M534.5 -5.1h0M558.5 -5.1h0" stroke="#754fd1" stroke-width="6.90"/>
<path d="M521.1 -3.8h0M531.2 -3.8h0M381.7 -1.3h0" stroke="#de0088" stroke-width="6.90"/>
<path d="M672.9 1.3h0M534.3 5.1h0M545.2 5.1h0M501.4 3.8h0M493.7 -7.7h0M542.6 1.3h0" stroke="#b110a5" stroke-width="6.90"/>
<path d="M585.9 -7.7h0M587.5 5.1h0" stroke="#0085f9" stroke-width="6.90"/>
<path d="M495 -2.6h0M476.9 3.8h0M558 1.3h0" stroke="#a31eab" stroke-width="6.90"/>
<path d="M638.6 -1.3h0M583.5 6.4h0M651.7 -2.6h0" stroke="#6559da" stroke-width="6.90"/>
<path d="M572.9 2.6h0" stroke="#3569e8" stroke-width="6.90"/>
<path d="M507.4 -2.6h0M532.7 -1.3h0" stroke="#e60080" stroke-width="6.90"/>
<path d="M489.7 2.6h0M522.5 -2.6h0M485.6 5.1h0M401.5 0h0M530.9 -7.7h0M493.5 -1.3h0" stroke="#ff0051" stroke-width="6.90"/>
<path d="M520.9 3.8h0M524.6 6.4h0M508.9 2.6h0M519.2 6.4h0M513.2 1.3h0M537.4 3.8h0M506.2 5.1h0M548.1 -2.6h0" stroke="#8d3abe" stroke-width="6.90"/>
<path d="M603.9 0h0" stroke="#007ef6" stroke-width="6.90"/>
<path d="M602.4 7.7h0M654 -1.3h0M617.8 6.4h0M604.8 9h0M773.9 0h0M600.9 -11.5h0M619.3 -5.1h0M680.7 -1.3h0M716.7 0h0M607.8 3.8h0M607.4 -3.8h0M611.9 -3.8h0M634.8 2.6h0M652.1 -1.3h0M608.5 -5.1h0M620.6 0h0M647.6 1.3h0M587.5 -6.4h0M603.5 -3.8h0M711.5 -1.3h0M619.2 -6.4h0M622.3 0h0" stroke="#008bfb" stroke-width="6.90"/>
<path d="M529.8 -5.1h0" stroke="#d40090" stroke-width="6.90"/>
<path d="M586 0h0M531.2 -9h0M629.3 2.6h0M568.4 9h0" stroke="#0071ee" stroke-width="6.90"/>
<path d="M675.5 0h0M564.4 -2.6h0M582.6 -11.5h0" stroke="#5161e1" stroke-width="6.90"/>
<path d="M515 7.7h0M422.4 0h0M560.2 0h0M562.3 3.8h0M562.8 9h0M506.6 -6.4h0" stroke="#972cb3" stroke-width="6.90"/>
<path d="M392.5 1.3h0M531.2 -10.2h0M452.3 0h0M384.6 -1.3h0" stroke="#ee0077" stroke-width="6.90"/>
<path d="M585.1 2.6h0M599.9 6.4h0M592.2 -11.5h0M665.3 -1.3h0" stroke="#007ef6" stroke-width="6.90"/>
<path d="M573.1 -6.4h0M522.3 7.7h0M573.9 1.3h0M524.3 -5.1h0" stroke="#8245c8" stroke-width="6.90"/>
<path d="M604.6 -10.2h0M491.3 5.1h0M484.9 -3.8h0" stroke="#b110a5" stroke-width="6.90"/>
<path d="M354.5 -1.3h0" stroke="#fa0064" stroke-width="6.90"/>
<path d="M594.2 7.7h0M569.7 -9h0M587.1 15.4h0" stroke="#0078f2" stroke-width="6.90"/>
<path d="M661.8 1.3h0M642.1 0h0M587.8 11.5h0M591.6 3.8h0M595.8 11.5h0M618.2 1.3h0M621.8 2.6h0M612.5 -6.4h0M615.4 1.3h0M674.9 -2.6h0M607.6 -9h0M589.8 7.7h0" stroke="#008bfb" stroke-width="6.90"/>
<path d="M580.1 5.1h0M589 -5.1h0M593.9 10.2h0M572.4 -3.8h0" stroke="#0085f9" stroke-width="6.90"/>
<path d="M595.7 -7.7h0M569.2 -10.2h0M684.8 0h0M608.2 0h0M626.1 5.1h0" stroke="#3569e8" stroke-width="6.90"/>
<path d="M483.3 -6.4h0M513.8 6.4h0" stroke="#de0088" stroke-width="6.90"/>
<path d="M377.1 1.3h0M548.1 -3.8h0" stroke="#e60080" stroke-width="6.90"/>
<path d="M517.3 2.6h0M502.8 -1.3h0" stroke="#8d3abe" stroke-width="6.90"/>
<path d="M504.6 6.4h0M536.8 1.3h0M477.9 -5.1h0M567.6 6.4h0" stroke="#a31eab" stroke-width="6.90"/>
<path d="M563.1 -9h0M558.9 -2.6h0M654 -2.6h0M585.8 16.6h0M536.2 6.4h0M574.8 5.1h0M575.1 -7.7h0M583.5 10.2h0" stroke="#0071ee" stroke-width="6.90"/>
<path d="M498.7 5.1h0M542.5 -5.1h0M488.6 -3.8h0M488.6 -2.6h0M545.2 -1.3h0" stroke="#c90098" stroke-width="6.90"/>
<path d="M564.1 2.6h0M545.6 2.6h0" stroke="#754fd1" stroke-width="6.90"/>
<path d="M513.8 -3.8h0M410.8 1.3h0M439.8 0h0M480.1 -2.6h0M647.6 -2.6h0M287.7 -1.3h0M490.9 6.4h0" stroke="#ff0051" stroke-width="6.90"/>
<path d="M457.2 -2.6h0" stroke="#d40090" stroke-width="6.90"/>
<path d="M581.7 3.8h0M561.8 -3.8h0M597.1 -6.4h0M514.4 -6.4h0" stroke="#6559da" stroke-width="6.90"/>
<path d="M481.3 -1.3h0" stroke="#f5006e" stroke-width="6.90"/>
<path d="M521.6 -7.7h0M346.3 0h0" stroke="#ff005b" stroke-width="6.90"/>
<path d="M462.9 -1.3h0M502.2 -3.8h0M522.4 -9h0M528.1 9h0M491 -5.1h0" stroke="#bd009f" stroke-width="6.90"/>
<path d="M548 -7.7h0M494.3 1.3h0M497.8 3.8h0M535.5 -7.7h0M500.2 -7.7h0" stroke="#c90098" stroke-width="6.90"/>
<path d="M469.5 -2.6h0M534.3 -2.6h0" stroke="#b110a5" stroke-width="6.90"/>
<path d="M583.3 -5.1h0M586 12.8h0M563.6 -5.1h0" stroke="#0078f2" stroke-width="6.90"/>
<path d="M592.1 -10.2h0M644.1 -1.3h0M588.5 1.3h0" stroke="#0085f9" stroke-width="6.90"/>
<path d="M549.3 1.3h0M520 -5.1h0" stroke="#754fd1" stroke-width="6.90"/>
<path d="M564.9 7.7h0M554.7 -7.7h0M569.6 5.1h0M600.4 -7.7h0M590.6 12.8h0M574.3 -2.6h0" stroke="#3569e8" stroke-width="6.90"/>
<path d="M319.3 0h0M374.8 0h0" stroke="#ff005b" stroke-width="6.90"/>
<path d="M487.7 0h0" stroke="#fa0064" stroke-width="6.90"/>
<path d="M396.3 -1.3h0M435.1 0h0" stroke="#d40090" stroke-width="6.90"/>
<path d="M571.1 3.8h0M501.4 1.3h0" stroke="#a31eab" stroke-width="6.90"/>
<path d="M497.8 1.3h0" stroke="#de0088" stroke-width="6.90"/>
<path d="M538.5 -3.8h0" stroke="#f5006e" stroke-width="6.90"/>
<path d="M509.8 0h0M472.7 -1.3h0" stroke="#972cb3" stroke-width="6.90"/>
<path d="M495.9 -1.3h0M477.2 -3.8h0M490.8 3.8h0M555 2.6h0M558.9 6.4h0M539.9 3.8h0M562.9 10.2h0M461.1 2.6h0M550.2 -3.8h0M530.7 0h0M445.6 1.3h0M478.6 0h0" stroke="#bd009f" stroke-width="6.90"/>
<path d="M581 -3.8h0M581.7 -6.4h0M590.7 2.6h0M519.6 -2.6h0" stroke="#0071ee" stroke-width="6.90"/>
<path d="M587.9 2.6h0M600 5.1h0" stroke="#007ef6" stroke-width="6.90"/>
<path d="M561.9 5.1h0M529.2 7.7h0M560.6 -7.7h0M528.1 5.1h0M560 1.3h0M519.6 5.1h0" stroke="#8245c8" stroke-width="6.90"/>
<path d="M513.3 0h0M609.6 -1.3h0M594.2 -12.8h0M525.3 -7.7h0" stroke="#8d3abe" stroke-width="6.90"/>
<path d="M311.5 0h0M443.3 -2.6h0M537.6 -10.2h0M521.1 -1.3h0M581.1 9h0M467.1 -3.8h0M467.9 0h0M286.8 0h0" stroke="#ff0051" stroke-width="6.90"/>
<path d="M557.8 6.4h0M542.9 -1.3h0M536 -3.8h0M600.8 0h0" stroke="#6559da" stroke-width="6.90"/>
<path d="M611 7.7h0M603.4 -9h0M564.8 2.6h0M693.5 0h0M634.8 0h0M641.2 1.3h0M632.3 -2.6h0M674 0h0M616.3 3.8h0M639.4 -2.6h0M627.7 -1.3h0M595.9 1.3h0M633.7 -2.6h0M597 7.7h0M609.9 -6.4h0M645.3 0h0" stroke="#008bfb" stroke-width="6.90"/>
<path d="M597.2 10.2h0M550.9 -5.1h0M553 -2.6h0" stroke="#5161e1" stroke-width="6.90"/>
</g>
<g class="d" transform="translate(0 342.80) scale(1 1.130)">
<path d="M508.5 0h0" stroke="#ee0077" stroke-width="6.90"/>
<path d="M519.2 -3.6h0" stroke="#8245c8" stroke-width="6.90"/>
<path d="M602 2.4h0M557.4 9.6h0" stroke="#0085f9" stroke-width="6.90"/>
<path d="M602 3.6h0M530.8 -3.6h0M536.6 2.4h0M527.1 3.6h0" stroke="#a31eab" stroke-width="6.90"/>
<path d="M378.5 0h0M439.5 0h0M502.8 -1.2h0M550 -2.4h0M384.6 -1.2h0" stroke="#c90098" stroke-width="6.90"/>
<path d="M560.6 -1.2h0M585.4 -10.8h0M566.3 -8.4h0M532.3 2.4h0" stroke="#6559da" stroke-width="6.90"/>
<path d="M598.8 0h0M497.9 1.2h0" stroke="#f5006e" stroke-width="6.90"/>
<path d="M592.6 -2.4h0M605.3 0h0M576.7 -1.2h0M570.8 3.6h0" stroke="#5161e1" stroke-width="6.90"/>
<path d="M569.8 12h0" stroke="#007ef6" stroke-width="6.90"/>
<path d="M461.8 -1.2h0M496.8 2.4h0M533 4.8h0" stroke="#de0088" stroke-width="6.90"/>
<path d="M541.1 -2.4h0M560.3 10.8h0M571.3 1.2h0M539.3 -6h0M570.2 -13.2h0" stroke="#972cb3" stroke-width="6.90"/>
<path d="M564.8 -4.8h0M575.4 -7.2h0" stroke="#0071ee" stroke-width="6.90"/>
<path d="M571.5 14.4h0" stroke="#8d3abe" stroke-width="6.90"/>
<path d="M390.6 0h0" stroke="#fa0064" stroke-width="6.90"/>
<path d="M480.9 -1.2h0M467.7 -1.2h0M523.4 2.4h0M375.1 0h0" stroke="#e60080" stroke-width="6.90"/>
<path d="M383.6 0h0M564.5 -1.2h0M431 0h0M392.7 0h0M568.6 -13.2h0M526.1 -1.2h0" stroke="#bd009f" stroke-width="6.90"/>
<path d="M533 -4.8h0" stroke="#ff005b" stroke-width="6.90"/>
<path d="M536.8 0h0M438.2 -1.2h0M572.3 -7.2h0M502.5 2.4h0" stroke="#ff0051" stroke-width="6.90"/>
<path d="M518.8 1.2h0M415 0h0M566.6 0h0M517.3 -2.4h0" stroke="#b110a5" stroke-width="6.90"/>
<path d="M553.3 -4.8h0M597.6 2.4h0M576 8.4h0M544.4 2.4h0M572.3 2.4h0M559.8 -4.8h0M640.9 1.2h0" stroke="#0078f2" stroke-width="6.90"/>
<path d="M519.2 -1.2h0M549.1 -7.2h0M570.6 0h0M545.2 4.8h0M589.3 6h0" stroke="#3569e8" stroke-width="6.90"/>
<path d="M567.7 13.2h0M564.7 -12h0M548.7 8.4h0" stroke="#754fd1" stroke-width="6.90"/>
<path d="M594 -1.2h0M587 4.8h0M521.3 -2.4h0M608.4 3.6h0M590.3 -8.4h0M535.1 -1.2h0M602.8 -1.2h0M527.2 -3.6h0M586.6 -4.8h0M607 -1.2h0M700.4 0h0M589.7 2.4h0M578.2 -6h0M571.9 16.8h0M591 -3.6h0M624.3 -1.2h0M675.8 0h0M587.9 -10.8h0" stroke="#008bfb" stroke-width="6.90"/>
<path d="M579.1 10.8h0M567.8 -7.2h0M586 9.6h0M575.5 -10.8h0M579 3.6h0" stroke="#0085f9" stroke-width="6.90"/>
<path d="M545.7 7.2h0M525.5 2.4h0" stroke="#c90098" stroke-width="6.90"/>
<path d="M422.9 0h0M497.9 -2.4h0M514.9 0h0" stroke="#e60080" stroke-width="6.90"/>
<path d="M601.2 -2.4h0M565.6 -7.2h0" stroke="#0078f2" stroke-width="6.90"/>
<path d="M618.4 -1.2h0M641.3 0h0M581.8 -7.2h0M546.6 -1.2h0M572.2 9.6h0" stroke="#6559da" stroke-width="6.90"/>
<path d="M575.7 15.6h0M577 1.2h0M552 -9.6h0M568.5 -14.4h0" stroke="#5161e1" stroke-width="6.90"/>
<path d="M526.6 0h0M513.8 -4.8h0M410.8 1.2h0M462.6 0h0" stroke="#fa0064" stroke-width="6.90"/>
<path d="M486.2 1.2h0" stroke="#de0088" stroke-width="6.90"/>
<path d="M486.9 -2.4h0M447.3 -1.2h0M437.3 0h0M318.8 0h0M506.8 -3.6h0M370.2 0h0" stroke="#ff0051" stroke-width="6.90"/>
<path d="M570.7 7.2h0" stroke="#8d3abe" stroke-width="6.90"/>
<path d="M577.1 2.4h0M598.8 4.8h0M517.3 0h0M560 -3.6h0" stroke="#b110a5" stroke-width="6.90"/>
<path d="M543.6 -3.6h0M551 2.4h0" stroke="#d40090" stroke-width="6.90"/>
<path d="M363.8 0h0" stroke="#ff005b" stroke-width="6.90"/>
<path d="M547.9 1.2h0M527 -4.8h0M572.7 13.2h0M572.2 -18h0M573.6 -6h0" stroke="#972cb3" stroke-width="6.90"/>
<path d="M583.3 10.8h0M494.1 1.2h0" stroke="#8245c8" stroke-width="6.90"/>
<path d="M544.6 -7.2h0M597.8 -6h0" stroke="#754fd1" stroke-width="6.90"/>
<path d="M662.2 0h0M512.2 -3.6h0" stroke="#bd009f" stroke-width="6.90"/>
<path d="M600.2 3.6h0M558.3 -12h0M559.1 8.4h0" stroke="#0071ee" stroke-width="6.90"/>
<path d="M565.1 -8.4h0M594.1 -7.2h0M585.9 3.6h0M559.6 1.2h0M614.8 -2.4h0M663.7 -1.2h0M569.2 -1.2h0" stroke="#007ef6" stroke-width="6.90"/>
<path d="M558.1 4.8h0M539.4 -3.6h0M572.5 -4.8h0" stroke="#a31eab" stroke-width="6.90"/>
<path d="M685.3 0h0M556.3 7.2h0M594.6 -4.8h0M577.8 -8.4h0M583.4 -9.6h0M592.9 7.2h0M535.7 -1.2h0M580 0h0M614.1 0h0M598.4 1.2h0M548.9 -9.6h0M568 9.6h0M590.8 4.8h0M514.5 1.2h0M550.6 -6h0M591.7 -6h0M665.4 0h0" stroke="#008bfb" stroke-width="6.90"/>
<path d="M476 0h0M533 1.2h0M506.4 1.2h0M452.6 0h0" stroke="#f5006e" stroke-width="6.90"/>
<path d="M604.1 -4.8h0M545.3 3.6h0M549.7 2.4h0" stroke="#3569e8" stroke-width="6.90"/>
<path d="M570.8 -9.6h0M541.6 -4.8h0" stroke="#972cb3" stroke-width="6.90"/>
<path d="M579.8 13.2h0M613 1.2h0M625 1.2h0M576.7 13.2h0" stroke="#0085f9" stroke-width="6.90"/>
<path d="M572.5 -16.8h0M603.1 1.2h0M627.5 -2.4h0M563.2 6h0M636.7 -2.4h0" stroke="#6559da" stroke-width="6.90"/>
<path d="M584.1 -8.4h0M556.7 1.2h0M556.7 6h0" stroke="#007ef6" stroke-width="6.90"/>
<path d="M548.9 3.6h0M561 -8.4h0M552.2 -2.4h0M595.9 1.2h0M588.8 2.4h0M595.2 0h0" stroke="#0078f2" stroke-width="6.90"/>
<path d="M629.2 0h0M564.7 7.2h0M542.1 2.4h0M579.3 -14.4h0" stroke="#8d3abe" stroke-width="6.90"/>
<path d="M626 0h0M558.6 -7.2h0M550.3 7.2h0M555 -1.2h0" stroke="#0071ee" stroke-width="6.90"/>
<path d="M570.7 -2.4h0M572.7 -12h0M539.2 1.2h0" stroke="#754fd1" stroke-width="6.90"/>
<path d="M475.6 -1.2h0M523.6 1.2h0M568.5 -15.6h0M511.6 -2.4h0M567.2 14.4h0M537.9 3.6h0" stroke="#a31eab" stroke-width="6.90"/>
<path d="M631.8 1.2h0M559.1 -6h0M564.2 9.6h0M551 1.2h0M611.2 0h0" stroke="#5161e1" stroke-width="6.90"/>
<path d="M551 -6h0" stroke="#de0088" stroke-width="6.90"/>
<path d="M485.2 0h0M490.5 -3.6h0M425.2 0h0" stroke="#ee0077" stroke-width="6.90"/>
<path d="M484.5 -1.2h0" stroke="#ff005b" stroke-width="6.90"/>
<path d="M509.6 1.2h0M487.3 -3.6h0" stroke="#d40090" stroke-width="6.90"/>
<path d="M579 -13.2h0M588.1 -1.2h0M584.3 7.2h0M583.7 8.4h0M633.9 1.2h0M593.9 -6h0M589 -3.6h0M582.1 2.4h0M574.4 7.2h0M652.4 0h0M582.4 3.6h0M632.8 0h0M585.4 -4.8h0M587.5 -8.4h0M609.5 -2.4h0" stroke="#008bfb" stroke-width="6.90"/>
<path d="M568.7 4.8h0M598.8 -4.8h0M530.4 -1.2h0M508.5 -3.6h0M520.2 6h0" stroke="#bd009f" stroke-width="6.90"/>
<path d="M460.7 0h0M487.9 -1.2h0M533.6 -6h0M492 1.2h0M487.3 2.4h0" stroke="#ff0051" stroke-width="6.90"/>
<path d="M521.3 1.2h0M485.6 3.6h0M407.6 0h0" stroke="#fa0064" stroke-width="6.90"/>
<path d="M571.4 12h0M573.9 -13.2h0M548.4 -8.4h0" stroke="#3569e8" stroke-width="6.90"/>
<path d="M546 -8.4h0M601.4 -3.6h0M586.2 -7.2h0M569.2 -4.8h0" stroke="#8245c8" stroke-width="6.90"/>
<path d="M562.7 -10.8h0M505.6 -2.4h0M465.8 0h0M527.3 -2.4h0" stroke="#b110a5" stroke-width="6.90"/>
<path d="M490.9 -1.2h0" stroke="#ff005b" stroke-width="6.90"/>
<path d="M535.1 0h0" stroke="#bd009f" stroke-width="6.90"/>
<path d="M561.8 -2.4h0M550.9 -7.2h0M556.8 -9.6h0" stroke="#0078f2" stroke-width="6.90"/>
<path d="M582.1 -3.6h0M579.2 8.4h0M571 -1.2h0M575.1 -14.4h0M595.4 6h0M607.2 1.2h0M646.7 0h0M574.7 -12h0" stroke="#007ef6" stroke-width="6.90"/>
<path d="M597 -3.6h0M569.5 -12h0M589.8 6h0M595.2 2.4h0M599.8 -2.4h0M698.7 -1.2h0M591.2 -1.2h0M575.5 -4.8h0M586.3 -6h0M583.3 12h0" stroke="#008bfb" stroke-width="6.90"/>
<path d="M385.9 -2.4h0M529.8 4.8h0" stroke="#d40090" stroke-width="6.90"/>
<path d="M494.7 -1.2h0M390.2 -1.2h0" stroke="#ee0077" stroke-width="6.90"/>
<path d="M571.7 -3.6h0M578.7 12h0M575.5 10.8h0M576.5 6h0M589.6 3.6h0M541.8 -1.2h0" stroke="#8245c8" stroke-width="6.90"/>
<path d="M563.7 -9.6h0M555.5 -7.2h0M622.2 0h0M561.3 0h0" stroke="#0071ee" stroke-width="6.90"/>
<path d="M559.3 2.4h0" stroke="#6559da" stroke-width="6.90"/>
<path d="M536.4 6h0M560.2 -10.8h0M429.3 0h0" stroke="#b110a5" stroke-width="6.90"/>
<path d="M609.3 2.4h0M556.2 -6h0M580.7 1.2h0" stroke="#3569e8" stroke-width="6.90"/>
<path d="M537.2 4.8h0M575.7 14.4h0M608.4 2.4h0M538 -6h0M554.3 0h0" stroke="#972cb3" stroke-width="6.90"/>
<path d="M521.6 -6h0M517 3.6h0M460.7 1.2h0M488.3 -4.8h0M513.4 2.4h0M527.7 3.6h0M541.9 6h0M520.9 0h0M493.2 0h0M516.6 4.8h0M530.8 1.2h0M469.9 0h0M503.2 0h0M526 4.8h0M383.2 -1.2h0M520.2 -1.2h0" stroke="#ff0051" stroke-width="6.90"/>
<path d="M424 -1.2h0M509.6 2.4h0M496.8 -3.6h0M349.8 0h0M436.7 1.2h0" stroke="#f5006e" stroke-width="6.90"/>
<path d="M522.3 3.6h0M570.9 8.4h0M583.2 -2.4h0M570.1 18h0M568.3 -6h0" stroke="#a31eab" stroke-width="6.90"/>
<path d="M564.6 1.2h0M523.4 4.8h0M567.3 7.2h0" stroke="#8d3abe" stroke-width="6.90"/>
<path d="M580.7 4.8h0M565.5 -3.6h0M553.9 4.8h0" stroke="#5161e1" stroke-width="6.90"/>
<path d="M551.7 7.2h0M514.9 -2.4h0" stroke="#de0088" stroke-width="6.90"/>
<path d="M610.1 -3.6h0" stroke="#0085f9" stroke-width="6.90"/>
<path d="M568.5 6h0M580.3 -9.6h0M553.9 10.8h0M565.1 10.8h0" stroke="#754fd1" stroke-width="6.90"/>
<path d="M585.9 1.2h0M638.2 -1.2h0M572.6 -8.4h0M583.8 6h0" stroke="#007ef6" stroke-width="6.90"/>
<path d="M528.7 2.4h0M543.2 6h0" stroke="#ff005b" stroke-width="6.90"/>
<path d="M583.6 1.2h0M577.3 -8.4h0M570.5 -10.8h0M638.2 0h0M593.4 4.8h0M583.6 -12h0" stroke="#5161e1" stroke-width="6.90"/>
<path d="M384.9 1.2h0M316.6 0h0M503.2 -2.4h0M339.4 0h0M514.3 3.6h0M499 0h0" stroke="#ff0051" stroke-width="6.90"/>
<path d="M540 0h0M568.3 3.6h0M642.2 -1.2h0M563.3 0h0M560.3 9.6h0M564.5 3.6h0M594 -2.4h0M608.8 -1.2h0" stroke="#972cb3" stroke-width="6.90"/>
<path d="M564.1 -2.4h0M578.9 -10.8h0M600 -1.2h0M620.7 1.2h0" stroke="#0078f2" stroke-width="6.90"/>
<path d="M521.7 -4.8h0M579 -12h0M582.1 9.6h0M581.5 2.4h0M617.8 0h0M621.2 -1.2h0M620 1.2h0M562.2 6h0" stroke="#0085f9" stroke-width="6.90"/>
<path d="M578.4 7.2h0M547.4 4.8h0M569.5 1.2h0M547.5 -1.2h0" stroke="#6559da" stroke-width="6.90"/>
<path d="M549 9.6h0M608.4 -3.6h0M583.7 0h0" stroke="#754fd1" stroke-width="6.90"/>
<path d="M541.5 4.8h0M525.1 -6h0M576.9 12h0M605.8 -2.4h0" stroke="#0071ee" stroke-width="6.90"/>
<path d="M507.5 -1.2h0M411.2 -1.2h0" stroke="#e60080" stroke-width="6.90"/>
<path d="M574.3 -6h0M552.5 -3.6h0M572.6 10.8h0" stroke="#8245c8" stroke-width="6.90"/>
<path d="M527.8 -6h0M505.6 2.4h0M518.8 2.4h0" stroke="#b110a5" stroke-width="6.90"/>
<path d="M542.4 3.6h0M568.7 -9.6h0M574.3 0h0M559.2 3.6h0" stroke="#8d3abe" stroke-width="6.90"/>
<path d="M552.9 3.6h0M556.6 10.8h0M574.7 -3.6h0M551 -1.2h0" stroke="#3569e8" stroke-width="6.90"/>
<path d="M478.1 0h0M505.3 0h0" stroke="#d40090" stroke-width="6.90"/>
<path d="M568.2 -10.8h0M549.3 -3.6h0M501.1 1.2h0M571.1 4.8h0" stroke="#a31eab" stroke-width="6.90"/>
<path d="M421.8 -1.2h0M489.4 2.4h0M554.2 -8.4h0M377.4 -1.2h0" stroke="#bd009f" stroke-width="6.90"/>
<path d="M597.9 -3.6h0M581.1 -3.6h0M592 -4.8h0M579.1 6h0M591.5 1.2h0M544 0h0M556.3 -10.8h0M613.3 -1.2h0M555.9 3.6h0M460.9 -1.2h0M630.7 -1.2h0M580.2 -4.8h0" stroke="#008bfb" stroke-width="6.90"/>
<path d="M531.9 -2.4h0" stroke="#ee0077" stroke-width="6.90"/>
<path d="M530.1 -2.4h0M553.9 8.4h0M573.9 -2.4h0M561.9 4.8h0" stroke="#b110a5" stroke-width="6.90"/>
<path d="M482 0h0M537.2 -3.6h0M534.9 6h0M530.6 0h0M440.5 -1.2h0" stroke="#ff0051" stroke-width="6.90"/>
<path d="M536.2 -4.8h0" stroke="#e60080" stroke-width="6.90"/>
<path d="M558.9 7.2h0M567.7 2.4h0M558.2 -4.8h0M578.3 -1.2h0M572.9 6h0M549.6 0h0M543.9 1.2h0" stroke="#3569e8" stroke-width="6.90"/>
<path d="M541.3 -7.2h0M531.3 -4.8h0M568.5 10.8h0M514.6 -1.2h0M562.6 4.8h0" stroke="#a31eab" stroke-width="6.90"/>
<path d="M557.8 -8.4h0M543.3 -6h0" stroke="#8d3abe" stroke-width="6.90"/>
<path d="M550 6h0M571.7 15.6h0" stroke="#8245c8" stroke-width="6.90"/>
<path d="M531.9 -3.6h0M490.9 -2.4h0" stroke="#c90098" stroke-width="6.90"/>
<path d="M550.6 -4.8h0M551.6 -10.8h0M575.1 3.6h0M556.5 -2.4h0M535.7 -2.4h0M551.3 6h0M556.1 0h0" stroke="#5161e1" stroke-width="6.90"/>
<path d="M324.1 0h0M446.5 0h0M518.1 -4.8h0M544.7 -4.8h0M387.4 0h0" stroke="#fa0064" stroke-width="6.90"/>
<path d="M650.9 0h0M561.6 -9.6h0" stroke="#6559da" stroke-width="6.90"/>
<path d="M555 -3.6h0M593.2 3.6h0M557.4 8.4h0M564.7 2.4h0" stroke="#0071ee" stroke-width="6.90"/>
<path d="M634.5 -1.2h0M543.8 -2.4h0M579.7 -7.2h0M666.8 0h0M589.4 -7.2h0M577 4.8h0M575.7 -9.6h0M587.2 0h0M592.6 0h0M577.1 -15.6h0M588.1 7.2h0M604.2 0h0M639.2 1.2h0M656.6 0h0M703.4 0h0M584.4 -1.2h0" stroke="#008bfb" stroke-width="6.90"/>
<path d="M510.7 -1.2h0" stroke="#bd009f" stroke-width="6.90"/>
<path d="M521.3 -3.6h0" stroke="#ee0077" stroke-width="6.90"/>
<path d="M573.6 -14.4h0M573.3 -15.6h0M580.3 -2.4h0M583.8 4.8h0M551.9 9.6h0" stroke="#0078f2" stroke-width="6.90"/>
<path d="M585.6 -9.6h0M534.5 3.6h0M564.7 8.4h0M565.9 -6h0" stroke="#754fd1" stroke-width="6.90"/>
<path d="M492.6 0h0" stroke="#f5006e" stroke-width="6.90"/>
<path d="M569.8 -2.4h0M567.4 -3.6h0M568.6 8.4h0" stroke="#972cb3" stroke-width="6.90"/>
<path d="M537.2 1.2h0" stroke="#ff005b" stroke-width="6.90"/>
<path d="M575.2 9.6h0M578.5 9.6h0M611.5 1.2h0M581.7 -6h0M568.4 15.6h0" stroke="#0085f9" stroke-width="6.90"/>
<path d="M455 0h0M499 -1.2h0" stroke="#de0088" stroke-width="6.90"/>
<path d="M586 -2.4h0M588.2 8.4h0M555.3 2.4h0" stroke="#007ef6" stroke-width="6.90"/>
</g>
<g class="d" transform="translate(0 403.05) scale(1 1.130)">
<path d="M600.7 7.7h0M575.2 -11.5h0M572.1 -3.8h0M604.7 7.7h0M615.1 3.8h0M575.4 -13.4h0M572.3 9.6h0M441.4 0h0" stroke="#007ef6" stroke-width="6.90"/>
<path d="M536.4 13.4h0M474.1 -1.9h0M485.5 -1.9h0M548.6 -1.9h0M507.7 -1.9h0M509.7 7.7h0M538.2 -15.4h0M507.3 1.9h0M560.9 -3.8h0M553.3 3.8h0M569.7 13.4h0M517.2 3.8h0M554.3 -7.7h0" stroke="#0085f9" stroke-width="6.90"/>
<path d="M587.3 5.8h0" stroke="#754fd1" stroke-width="6.90"/>
<path d="M607.9 5.8h0M688.6 0h0" stroke="#de0088" stroke-width="6.90"/>
<path d="M574.3 -5.8h0" stroke="#0078f2" stroke-width="6.90"/>
<path d="M614.1 -3.8h0M562.6 15.4h0" stroke="#5161e1" stroke-width="6.90"/>
<path d="M550.4 -7.7h0M597.1 -5.8h0M566.5 -7.7h0M553.9 7.7h0" stroke="#0071ee" stroke-width="6.90"/>
<path d="M468 -1.9h0M534.2 -9.6h0M417.5 -1.9h0M443.3 0h0M513.9 -9.6h0M567.8 5.8h0M490.6 -3.8h0M461.4 0h0M500.5 -5.8h0M509.3 9.6h0M508.8 -5.8h0M501.8 7.7h0M485.7 1.9h0M503.2 -5.8h0M499.1 0h0M515.3 5.8h0M518.1 1.9h0M441.2 -1.9h0M507.7 -9.6h0M552.4 -3.8h0M554.4 13.4h0M530.9 3.8h0M506 -3.8h0M499.7 5.8h0M455.6 0h0M512.8 5.8h0M496.3 -1.9h0M427.4 0h0M376.4 0h0M509.9 0h0M522.2 -1.9h0M492.3 -1.9h0" stroke="#008bfb" stroke-width="6.90"/>
<path d="M578.5 3.8h0M635.4 0h0M480.1 -3.8h0M735.1 0h0M583.4 1.9h0M589.4 -13.4h0M620 1.9h0M579.7 11.5h0M597 -7.7h0M532.1 3.8h0" stroke="#ff0051" stroke-width="6.90"/>
<path d="M585.3 3.8h0" stroke="#8245c8" stroke-width="6.90"/>
<path d="M598.6 -3.8h0" stroke="#d40090" stroke-width="6.90"/>
<path d="M607.9 3.8h0" stroke="#972cb3" stroke-width="6.90"/>
<path d="M580.1 -11.5h0M629.1 0h0M751.1 0h0" stroke="#bd009f" stroke-width="6.90"/>
<path d="M594.5 9.6h0" stroke="#b110a5" stroke-width="6.90"/>
<path d="M575.7 5.8h0M525.7 11.5h0M540.2 -7.7h0" stroke="#3569e8" stroke-width="6.90"/>
<path d="M644.5 0h0" stroke="#e60080" stroke-width="6.90"/>
<path d="M712.4 0h0M583.2 11.5h0" stroke="#a31eab" stroke-width="6.90"/>
<path d="M602.7 9.6h0" stroke="#6559da" stroke-width="6.90"/>
<path d="M598.6 -1.9h0M556 9.6h0" stroke="#c90098" stroke-width="6.90"/>
<path d="M530.7 13.4h0M521 5.8h0M525.6 7.7h0M544.1 -15.4h0M493.5 3.8h0M536.9 -7.7h0M514.2 -1.9h0M544.6 -13.4h0M500.5 1.9h0M545 -9.6h0M497.3 -5.8h0M526.1 -3.8h0M492.5 -3.8h0M432 0h0M512.3 -1.9h0M530.7 5.8h0M543.7 1.9h0M524.5 -9.6h0M492.7 5.8h0M507.8 -7.7h0M530.7 11.5h0M498.1 -3.8h0M547.8 1.9h0M532.2 -1.9h0M492.9 -5.8h0M543.1 3.8h0M544 -1.9h0" stroke="#008bfb" stroke-width="6.90"/>
<path d="M733.4 0h0M692.9 0h0" stroke="#b110a5" stroke-width="6.90"/>
<path d="M521.7 -5.8h0M580 1.9h0M566.7 3.8h0" stroke="#6559da" stroke-width="6.90"/>
<path d="M588.3 5.8h0" stroke="#fa0064" stroke-width="6.90"/>
<path d="M625.4 -1.9h0M595.5 -11.5h0" stroke="#972cb3" stroke-width="6.90"/>
<path d="M550.2 -15.4h0M554.7 -3.8h0" stroke="#0071ee" stroke-width="6.90"/>
<path d="M567.4 7.7h0" stroke="#f5006e" stroke-width="6.90"/>
<path d="M559.3 17.3h0M594.8 -1.9h0M555 3.8h0M584.7 -1.9h0" stroke="#0078f2" stroke-width="6.90"/>
<path d="M587.3 -9.6h0M557.3 -11.5h0M608.3 0h0M554.7 -5.8h0M567.8 -1.9h0M562.6 -17.3h0" stroke="#ff0051" stroke-width="6.90"/>
<path d="M573.9 -7.7h0M603.8 1.9h0" stroke="#8d3abe" stroke-width="6.90"/>
<path d="M589.4 -3.8h0M597.6 1.9h0M609.9 -5.8h0" stroke="#754fd1" stroke-width="6.90"/>
<path d="M613 -5.8h0M579.1 9.6h0" stroke="#de0088" stroke-width="6.90"/>
<path d="M570.4 5.8h0M620.2 -3.8h0M584.6 1.9h0" stroke="#007ef6" stroke-width="6.90"/>
<path d="M560.8 -5.8h0M531.4 1.9h0M522 -7.7h0M471 1.9h0M569.2 11.5h0M541.4 1.9h0M585.9 -7.7h0" stroke="#3569e8" stroke-width="6.90"/>
<path d="M591.4 7.7h0" stroke="#bd009f" stroke-width="6.90"/>
<path d="M538.3 3.8h0M554.7 -7.7h0M528.9 -1.9h0M593.9 7.7h0M531.7 -3.8h0M565.2 -13.4h0M513.4 -11.5h0M503.8 -7.7h0M558.5 1.9h0M517.1 -9.6h0M476.2 -3.8h0M546.7 -3.8h0M560.2 15.4h0M520.5 -11.5h0M520.8 3.8h0M539.2 -3.8h0" stroke="#0085f9" stroke-width="6.90"/>
<path d="M592.5 -7.7h0M571.2 -9.6h0M597.6 7.7h0M593.8 0h0M567.9 -13.4h0M560.6 -9.6h0M524.2 -3.8h0" stroke="#5161e1" stroke-width="6.90"/>
<path d="M502.4 7.7h0M416.5 -3.8h0M521.2 1.9h0M554.4 15.4h0M486.2 -5.8h0M495.8 1.9h0M515.6 3.8h0M490.3 1.9h0M488.5 0h0M508.1 3.8h0M538.3 0h0M541.3 -13.4h0M548.7 5.8h0M500.2 -1.9h0M475.1 0h0M537.9 -1.9h0M544.1 11.5h0M593.9 -5.8h0M506.8 5.8h0M477.8 3.8h0M518 -3.8h0M483.4 3.8h0M585.9 9.6h0M537.7 1.9h0M512.1 -3.8h0M519.6 0h0M529.2 -5.8h0M461.8 -1.9h0M501.4 3.8h0" stroke="#008bfb" stroke-width="6.90"/>
<path d="M589.4 -11.5h0" stroke="#ee0077" stroke-width="6.90"/>
<path d="M585.3 0h0" stroke="#d40090" stroke-width="6.90"/>
<path d="M546.7 7.7h0M598.7 9.6h0M549.1 17.3h0M556 -15.4h0" stroke="#0078f2" stroke-width="6.90"/>
<path d="M546.7 -17.3h0M479.3 1.9h0M562.6 3.8h0" stroke="#0071ee" stroke-width="6.90"/>
<path d="M591.4 9.6h0" stroke="#8d3abe" stroke-width="6.90"/>
<path d="M572.9 -1.9h0" stroke="#754fd1" stroke-width="6.90"/>
<path d="M613 3.8h0M582.2 3.8h0M503.6 3.8h0" stroke="#f5006e" stroke-width="6.90"/>
<path d="M558.9 11.5h0M529.8 -11.5h0M530.7 -7.7h0M563 -15.4h0M559.5 -15.4h0M575 3.8h0" stroke="#5161e1" stroke-width="6.90"/>
<path d="M562 -3.8h0M556.5 7.7h0M553.6 9.6h0M550.7 -13.4h0M544.5 15.4h0M568.4 9.6h0M560.2 -17.3h0" stroke="#3569e8" stroke-width="6.90"/>
<path d="M511.1 -5.8h0M565.5 13.4h0M538.9 5.8h0M538.2 -5.8h0M554 -1.9h0M532.3 15.4h0M555.5 0h0M504.8 1.9h0" stroke="#0085f9" stroke-width="6.90"/>
<path d="M602.3 5.8h0M584.5 7.7h0M533 -11.5h0M572.5 -5.8h0M605 0h0M582.6 -5.8h0M602.3 -1.9h0" stroke="#007ef6" stroke-width="6.90"/>
<path d="M615.7 0h0M547.2 -13.4h0M694.1 0h0" stroke="#a31eab" stroke-width="6.90"/>
<path d="M629.5 -1.9h0M612 1.9h0M520.3 7.7h0" stroke="#6559da" stroke-width="6.90"/>
<path d="M577.3 0h0M550.2 7.7h0M591.4 1.9h0M583.6 0h0M565.7 -11.5h0M558.1 -13.4h0M593.5 -9.6h0" stroke="#ff0051" stroke-width="6.90"/>
<path d="M586.3 -11.5h0" stroke="#b110a5" stroke-width="6.90"/>
<path d="M569.2 -9.6h0M579.1 7.7h0" stroke="#8245c8" stroke-width="6.90"/>
<path d="M600.7 0h0" stroke="#e60080" stroke-width="6.90"/>
<path d="M619.4 -1.9h0" stroke="#ff005b" stroke-width="6.90"/>
<path d="M581.9 -9.6h0M517.5 9.6h0M526.6 1.9h0M530.9 7.7h0M570.5 7.7h0M557.7 17.3h0M552.4 -17.3h0M579 -13.4h0M605.6 -5.8h0M535.9 -13.4h0" stroke="#0071ee" stroke-width="6.90"/>
<path d="M535 -5.8h0M554.4 -17.3h0M582.2 -11.5h0M611.3 -1.9h0M606 -7.7h0" stroke="#ff0051" stroke-width="6.90"/>
<path d="M542.8 0h0M553 11.5h0M513.7 0h0M435 0h0M562.6 9.6h0M502.8 0h0M549.1 0h0M542.5 -11.5h0M543.6 -11.5h0M523.4 0h0M517.4 -1.9h0M416.5 1.9h0M515.7 7.7h0M469 -1.9h0M540.6 9.6h0M506.8 0h0M527.6 -1.9h0M550.7 15.4h0M445.3 -1.9h0M475.9 -1.9h0M527 9.6h0M510.5 -7.7h0M418 0h0M517.9 -7.7h0M496.2 3.8h0M549.4 13.4h0M551.3 5.8h0M472.3 -3.8h0" stroke="#008bfb" stroke-width="6.90"/>
<path d="M582.8 -13.4h0M568.8 -5.8h0" stroke="#ff005b" stroke-width="6.90"/>
<path d="M626.4 -1.9h0" stroke="#fa0064" stroke-width="6.90"/>
<path d="M520.5 11.5h0M562.7 -7.7h0M575.5 7.7h0M482.4 3.8h0M552.9 13.4h0M567.6 -15.4h0M585.3 11.5h0M520.4 -5.8h0M513.8 -3.8h0M580.5 -3.8h0M551.5 -9.6h0M574.9 13.4h0M563.6 0h0" stroke="#0085f9" stroke-width="6.90"/>
<path d="M612 0h0" stroke="#b110a5" stroke-width="6.90"/>
<path d="M572.9 -13.4h0" stroke="#972cb3" stroke-width="6.90"/>
<path d="M564.1 -1.9h0M559.8 5.8h0M538.4 -9.6h0M532.2 0h0" stroke="#5161e1" stroke-width="6.90"/>
<path d="M593.5 5.8h0" stroke="#8245c8" stroke-width="6.90"/>
<path d="M551.9 -11.5h0M596.6 -9.6h0" stroke="#ee0077" stroke-width="6.90"/>
<path d="M584.1 7.7h0" stroke="#007ef6" stroke-width="6.90"/>
<path d="M591.4 -7.7h0" stroke="#d40090" stroke-width="6.90"/>
<path d="M586.3 -3.8h0" stroke="#c90098" stroke-width="6.90"/>
<path d="M650.7 0h0M569.6 1.9h0M578.3 5.8h0M546.5 0h0M482.4 0h0M512.2 -9.6h0" stroke="#0078f2" stroke-width="6.90"/>
<path d="M564.6 5.8h0M573.1 -11.5h0M557 1.9h0M514 -7.7h0M534.9 5.8h0M567.8 0h0M540.2 -3.8h0M523 -9.6h0" stroke="#3569e8" stroke-width="6.90"/>
<path d="M618.2 -5.8h0M625.4 1.9h0M670 0h0" stroke="#6559da" stroke-width="6.90"/>
<path d="M583.2 -1.9h0" stroke="#754fd1" stroke-width="6.90"/>
<path d="M586.3 -5.8h0M549.9 9.6h0" stroke="#f5006e" stroke-width="6.90"/>
<path d="M620.2 3.8h0" stroke="#8245c8" stroke-width="6.90"/>
<path d="M621.3 0h0M570.8 11.5h0" stroke="#6559da" stroke-width="6.90"/>
<path d="M560.6 9.6h0M615.1 1.9h0" stroke="#8d3abe" stroke-width="6.90"/>
<path d="M558.7 -13.4h0M526.6 3.8h0" stroke="#5161e1" stroke-width="6.90"/>
<path d="M559.1 13.4h0M524.6 -13.4h0M533.3 7.7h0M505.9 7.7h0M539.5 13.4h0M558.7 0h0M537.9 7.7h0M534.8 -15.4h0M563.8 11.5h0M561.2 -7.7h0M525.9 -7.7h0" stroke="#0085f9" stroke-width="6.90"/>
<path d="M594.5 11.5h0" stroke="#de0088" stroke-width="6.90"/>
<path d="M559.8 7.7h0M614.9 -3.8h0M473.1 1.9h0M552.8 0h0" stroke="#0078f2" stroke-width="6.90"/>
<path d="M489 -5.8h0M605.9 5.8h0M575.9 -3.8h0M564 -9.6h0M580.6 -9.6h0M581.5 -3.8h0" stroke="#007ef6" stroke-width="6.90"/>
<path d="M603.8 -1.9h0M597.6 0h0" stroke="#a31eab" stroke-width="6.90"/>
<path d="M607.3 -3.8h0" stroke="#bd009f" stroke-width="6.90"/>
<path d="M470 -3.8h0M538.1 9.6h0M504.6 -3.8h0M494.4 1.9h0M503.6 -1.9h0M443.7 1.9h0M565.1 7.7h0M487.5 -1.9h0M525 -11.5h0M495.7 5.8h0M484.6 0h0M529.9 -13.4h0M532.4 -3.8h0M480.2 -1.9h0M540 7.7h0M525.1 -5.8h0M556.4 5.8h0M521.6 7.7h0M533.8 9.6h0M591.4 -1.9h0M535.1 1.9h0M515.7 -5.8h0M486.2 -3.8h0M561.8 -1.9h0M541.9 -9.6h0M557.5 11.5h0M562.7 1.9h0M657.5 0h0M470 0h0M566.7 13.4h0M409.9 0h0" stroke="#008bfb" stroke-width="6.90"/>
<path d="M593.9 3.8h0M573.2 -9.6h0M564.1 -5.8h0M561.1 -11.5h0M599.7 -3.8h0M597.6 -11.5h0M597.7 5.8h0M604.8 3.8h0M648.7 1.9h0" stroke="#ff0051" stroke-width="6.90"/>
<path d="M605.8 -3.8h0" stroke="#e60080" stroke-width="6.90"/>
<path d="M557.1 -9.6h0" stroke="#ff005b" stroke-width="6.90"/>
<path d="M646 -1.9h0M606.9 1.9h0" stroke="#b110a5" stroke-width="6.90"/>
<path d="M574.5 -1.9h0M536.3 -11.5h0M497.8 0h0" stroke="#0071ee" stroke-width="6.90"/>
<path d="M602.1 -9.6h0M520.6 5.8h0M541.8 -1.9h0M532.9 13.4h0M482.8 1.9h0M465.9 0h0" stroke="#3569e8" stroke-width="6.90"/>
<path d="M533.4 11.5h0M498.4 -7.7h0M544.4 13.4h0M550 -3.8h0M570.6 -7.7h0" stroke="#0071ee" stroke-width="6.90"/>
<path d="M578.3 -1.9h0M628.9 1.9h0" stroke="#5161e1" stroke-width="6.90"/>
<path d="M532.4 -7.7h0M543.4 -5.8h0M548.6 11.5h0M498.8 -3.8h0M547.1 3.8h0M465.5 1.9h0M566.7 -3.8h0M526.1 5.8h0M503.2 5.8h0M531.4 0h0M548.5 -9.6h0M521 -11.5h0M512 1.9h0M496.4 -7.7h0M553.9 17.3h0M544.6 3.8h0M542.3 5.8h0M491.6 0h0M504 -9.6h0M478.5 0h0M473.9 3.8h0M412.4 -1.9h0M547.3 15.4h0M529.4 9.6h0M574.6 9.6h0M510.8 9.6h0M544.1 -7.7h0M413 0h0M490.2 3.8h0M550.2 -5.8h0" stroke="#008bfb" stroke-width="6.90"/>
<path d="M589.4 -9.6h0" stroke="#fa0064" stroke-width="6.90"/>
<path d="M630.5 0h0M589.4 -5.8h0M712.4 -1.9h0" stroke="#a31eab" stroke-width="6.90"/>
<path d="M601.7 1.9h0" stroke="#de0088" stroke-width="6.90"/>
<path d="M525.5 0h0M540.2 11.5h0M546 9.6h0M550.5 -11.5h0M558.6 3.8h0" stroke="#3569e8" stroke-width="6.90"/>
<path d="M609.9 -7.7h0M588.3 0h0" stroke="#d40090" stroke-width="6.90"/>
<path d="M556.4 -1.9h0" stroke="#972cb3" stroke-width="6.90"/>
<path d="M649.5 -1.9h0" stroke="#c90098" stroke-width="6.90"/>
<path d="M591.4 3.8h0" stroke="#f5006e" stroke-width="6.90"/>
<path d="M581.8 -7.7h0M579.6 -7.7h0M594.5 -3.8h0M571.2 3.8h0M570.6 0h0M575.5 0h0M602.8 -5.8h0" stroke="#007ef6" stroke-width="6.90"/>
<path d="M581.1 9.6h0M551.9 -15.4h0M579.1 -5.8h0M595.5 1.9h0" stroke="#6559da" stroke-width="6.90"/>
<path d="M599.6 3.8h0M590.4 11.5h0M597 3.8h0M581.9 5.8h0M576.6 1.9h0" stroke="#ff0051" stroke-width="6.90"/>
<path d="M617.8 -1.9h0" stroke="#ee0077" stroke-width="6.90"/>
<path d="M564.1 -11.5h0M551.8 1.9h0M510.4 3.8h0M535.9 11.5h0M532.6 -13.4h0M514.9 9.6h0M513.5 1.9h0M523.8 11.5h0M553.6 -5.8h0M601.2 -7.7h0" stroke="#0085f9" stroke-width="6.90"/>
<path d="M529.7 -9.6h0M607.9 -1.9h0M623.3 0h0" stroke="#754fd1" stroke-width="6.90"/>
<path d="M546.5 5.8h0M547 -17.3h0M565.7 1.9h0M575.2 11.5h0M521.5 9.6h0M540.3 -5.8h0" stroke="#0078f2" stroke-width="6.90"/>
</g>
<g class="d" transform="translate(0 463.30) scale(1 1.130)">
<path d="M615.1 -1.9h0" stroke="#ff005b" stroke-width="6.90"/>
<path d="M556.3 -2.9h0M594.7 -1h0M588.4 1.9h0" stroke="#a31eab" stroke-width="6.90"/>
<path d="M566.3 -7.7h0M530.6 0h0" stroke="#6559da" stroke-width="6.90"/>
<path d="M454.3 0h0M549.1 5.8h0M503.9 3.8h0M484.2 -1.9h0M524.9 5.8h0M559.4 0h0M463.2 1h0M472.8 0h0M447.1 -1h0M562.2 -16.3h0M513.1 -1.9h0M517.5 1.9h0M505 -1h0M493.3 -3.8h0M484.1 1h0M497.5 -2.9h0M519 3.8h0M557.7 -4.8h0M439.6 -1h0M551.5 12.5h0M498.2 0h0M525.1 7.7h0M508.5 1.9h0M397.8 0h0M564 -4.8h0M530.8 -9.6h0M462.5 0h0" stroke="#008bfb" stroke-width="6.90"/>
<path d="M592.6 1.9h0M655.8 -1.9h0M568.9 3.8h0M582.3 -1h0M571.6 -7.7h0M562.9 -3.8h0" stroke="#0071ee" stroke-width="6.90"/>
<path d="M615.6 1.9h0M629.2 1h0" stroke="#de0088" stroke-width="6.90"/>
<path d="M486.3 3.8h0" stroke="#bd009f" stroke-width="6.90"/>
<path d="M543 3.8h0M538.7 9.6h0M511.7 -1.9h0M561.1 15.4h0M559.8 -7.7h0M567.4 -3.8h0" stroke="#0078f2" stroke-width="6.90"/>
<path d="M600.5 -1.9h0" stroke="#f5006e" stroke-width="6.90"/>
<path d="M554.9 10.6h0M520.7 2.9h0M514.5 3.8h0M557.7 -1h0M567 -8.6h0M501 -1.9h0M565.4 -10.6h0M530.1 6.7h0M527.7 2.9h0M544.8 -3.8h0M502.5 1h0M556.3 0h0M504.8 0h0M553.6 2.9h0M534.4 -4.8h0M528.2 -5.8h0" stroke="#0085f9" stroke-width="6.90"/>
<path d="M574.6 1h0" stroke="#b110a5" stroke-width="6.90"/>
<path d="M550.7 10.6h0M581.4 -5.8h0" stroke="#3569e8" stroke-width="6.90"/>
<path d="M503.7 -4.8h0" stroke="#8d3abe" stroke-width="6.90"/>
<path d="M601.6 -2.9h0M677.2 0h0M606.2 -3.8h0M639.2 1h0M635.8 1.9h0M643.5 1h0M623.1 1.9h0M601.4 1h0M754.6 0h0" stroke="#ff0051" stroke-width="6.90"/>
<path d="M560.3 -2.9h0M531.1 -2.9h0M494.1 1.9h0" stroke="#754fd1" stroke-width="6.90"/>
<path d="M584.7 4.8h0" stroke="#972cb3" stroke-width="6.90"/>
<path d="M635.2 -1h0" stroke="#e60080" stroke-width="6.90"/>
<path d="M579.6 -3.8h0M610.3 -2.9h0M534.8 -9.6h0M562.3 5.8h0M583.9 1h0" stroke="#007ef6" stroke-width="6.90"/>
<path d="M587.2 5.8h0M612.8 -1h0" stroke="#c90098" stroke-width="6.90"/>
<path d="M589.7 0h0M562 -6.7h0" stroke="#5161e1" stroke-width="6.90"/>
<path d="M604.5 0h0" stroke="#fa0064" stroke-width="6.90"/>
<path d="M607 1.9h0M502.7 -1h0M631.9 0h0M519.8 0h0M652.6 0h0M628 -1h0" stroke="#ff0051" stroke-width="6.90"/>
<path d="M566.4 -1.9h0M592 0h0M543 -3.8h0M545.1 9.6h0M614.1 0h0" stroke="#0078f2" stroke-width="6.90"/>
<path d="M527.6 5.8h0M615.6 -2.9h0M534.4 -6.7h0M498.7 1.9h0M564.5 -2.9h0M559.5 -4.8h0" stroke="#8245c8" stroke-width="6.90"/>
<path d="M583.4 -2.9h0" stroke="#d40090" stroke-width="6.90"/>
<path d="M493.6 0h0M511.7 3.8h0" stroke="#6559da" stroke-width="6.90"/>
<path d="M485.3 1.9h0M577.9 -4.8h0M568.3 9.6h0" stroke="#972cb3" stroke-width="6.90"/>
<path d="M552.6 9.6h0M533.2 2.9h0M327.2 0h0M460.2 -1h0M499.8 2.9h0M529.5 8.6h0M525.5 -7.7h0M549.3 3.8h0M487.6 0h0M562.3 -15.4h0M544.6 -6.7h0M556.8 14.4h0M504.4 -3.8h0M478.1 -1.9h0M559.3 3.8h0M478 -1h0M554.4 -13.4h0M520.8 -3.8h0M553.5 4.8h0M481.2 1.9h0M526.4 -1h0M529.2 3.8h0M436.3 0h0" stroke="#008bfb" stroke-width="6.90"/>
<path d="M575.1 4.8h0M785.1 0h0" stroke="#fa0064" stroke-width="6.90"/>
<path d="M579.1 4.8h0M681.5 0h0M584.7 -1.9h0" stroke="#bd009f" stroke-width="6.90"/>
<path d="M555.7 -9.6h0M574.1 3.8h0M580.9 0h0" stroke="#c90098" stroke-width="6.90"/>
<path d="M532.4 8.6h0" stroke="#a31eab" stroke-width="6.90"/>
<path d="M519.6 -5.8h0M524.4 3.8h0M468.2 0h0M550.7 6.7h0M566.3 -15.4h0M552.7 -6.7h0M564 8.6h0M547.8 8.6h0M489 -1h0M496.2 2.9h0M559.3 18.2h0M536.4 -8.6h0M561.9 17.3h0M556.5 11.5h0M511.5 4.8h0M565.6 -1h0M512.3 0h0M537.7 -4.8h0M505.3 -5.8h0M517.5 -6.7h0" stroke="#0085f9" stroke-width="6.90"/>
<path d="M550.7 -11.5h0M578.4 3.8h0" stroke="#5161e1" stroke-width="6.90"/>
<path d="M619.9 1h0M597.2 -3.8h0" stroke="#de0088" stroke-width="6.90"/>
<path d="M528.6 -8.6h0" stroke="#3569e8" stroke-width="6.90"/>
<path d="M698.1 0h0" stroke="#ff005b" stroke-width="6.90"/>
<path d="M570.9 -6.7h0M562.4 -8.6h0M535.5 -7.7h0M539.4 -3.8h0" stroke="#007ef6" stroke-width="6.90"/>
<path d="M584.8 3.8h0M572.3 -1.9h0M530.6 -6.7h0" stroke="#0071ee" stroke-width="6.90"/>
<path d="M521.8 -6.7h0" stroke="#754fd1" stroke-width="6.90"/>
<path d="M563.3 7.7h0M568.3 -8.6h0M557 1h0" stroke="#8d3abe" stroke-width="6.90"/>
<path d="M550.2 -5.8h0M563.3 -11.5h0M552.5 -12.5h0" stroke="#c90098" stroke-width="6.90"/>
<path d="M538.7 -5.8h0M568.3 1.9h0" stroke="#5161e1" stroke-width="6.90"/>
<path d="M599 2.9h0M582.9 2.9h0" stroke="#d40090" stroke-width="6.90"/>
<path d="M598 0h0" stroke="#6559da" stroke-width="6.90"/>
<path d="M544.1 1.9h0M491.8 -1h0M565 -5.8h0M552.4 5.8h0M552.7 -2.9h0M487.3 2.9h0M548.3 -9.6h0M469 1h0M486.1 -4.8h0M472.3 1h0M450.1 0h0M555.2 -3.8h0M533.2 -10.6h0M563.4 1.9h0M554.5 4.8h0M476.9 0h0M513.1 0h0M539.3 -2.9h0M544.6 -1.9h0M533.5 4.8h0M459.3 1h0M518.5 1h0M552.1 0h0" stroke="#008bfb" stroke-width="6.90"/>
<path d="M665.1 0h0M565.2 -9.6h0M574.4 0h0M569 11.5h0M571.4 -5.8h0" stroke="#3569e8" stroke-width="6.90"/>
<path d="M606.1 -1.9h0M628.4 0h0M619.6 0h0M638.1 0h0M688 0h0M616.8 1h0" stroke="#ff0051" stroke-width="6.90"/>
<path d="M538.7 -10.6h0M546.4 4.8h0" stroke="#972cb3" stroke-width="6.90"/>
<path d="M515.5 -4.8h0M535.9 -6.7h0M515.5 4.8h0M556.1 -6.7h0M527.3 1h0M517.3 -2.9h0M500.8 -2.9h0M509.4 -1h0M524.2 1h0M536.9 7.7h0M514.4 -1h0M523.9 -4.8h0M492.1 2.9h0M541.7 5.8h0M532.4 -8.6h0M556.2 -7.7h0M525.2 2.9h0M501.2 1.9h0M535 -1h0M526.6 4.8h0M492.9 -2.9h0" stroke="#0085f9" stroke-width="6.90"/>
<path d="M542.7 0h0" stroke="#ee0077" stroke-width="6.90"/>
<path d="M629.9 2.9h0" stroke="#fa0064" stroke-width="6.90"/>
<path d="M582.2 -3.8h0" stroke="#e60080" stroke-width="6.90"/>
<path d="M577.1 2.9h0M586.4 -4.8h0M647.5 -1h0" stroke="#0078f2" stroke-width="6.90"/>
<path d="M563.3 1h0M529.8 1.9h0M548.2 -6.7h0M522.6 -5.8h0" stroke="#8d3abe" stroke-width="6.90"/>
<path d="M565.9 13.4h0" stroke="#0071ee" stroke-width="6.90"/>
<path d="M541.7 6.7h0M535 10.6h0M494.9 -1h0M541.5 4.8h0M562.8 -9.6h0M540.1 -4.8h0M537.6 11.5h0M540 0h0" stroke="#007ef6" stroke-width="6.90"/>
<path d="M576.6 -6.7h0" stroke="#ff005b" stroke-width="6.90"/>
<path d="M642.5 -1h0M490.1 -1.9h0" stroke="#f5006e" stroke-width="6.90"/>
<path d="M570.1 -2.9h0M587.7 3.8h0M572.1 -11.5h0" stroke="#b110a5" stroke-width="6.90"/>
<path d="M545.7 -4.8h0M540.7 1h0" stroke="#8245c8" stroke-width="6.90"/>
<path d="M577.1 -1.9h0" stroke="#8d3abe" stroke-width="6.90"/>
<path d="M573.2 -7.7h0M506.5 2.9h0M545 -8.6h0" stroke="#0078f2" stroke-width="6.90"/>
<path d="M579.1 -6.7h0" stroke="#6559da" stroke-width="6.90"/>
<path d="M593.5 -1.9h0M554.2 -1.9h0" stroke="#bd009f" stroke-width="6.90"/>
<path d="M509.2 -2.9h0M561.9 6.7h0M524.3 -1.9h0M626.9 1h0M574.1 -5.8h0M573 -4.8h0M631.2 1.9h0M484.1 -2.9h0M575.2 -8.6h0" stroke="#0071ee" stroke-width="6.90"/>
<path d="M478.7 1h0M546.5 7.7h0M482.8 -1h0M573 -2.9h0M458.9 0h0M357.6 0h0M518.7 -1h0M529.1 -3.8h0M488.8 -3.8h0M481.1 -3.8h0M552.2 -4.8h0M535.5 -5.8h0M422 0h0M547.2 -5.8h0M500.3 -3.8h0M488.1 1h0M442.6 0h0M511.5 -3.8h0M558.4 5.8h0M487.3 -2.9h0M556.7 2.9h0" stroke="#008bfb" stroke-width="6.90"/>
<path d="M538.9 -12.5h0M561.9 12.5h0M574.9 6.7h0M572.7 -3.8h0M546.9 -7.7h0" stroke="#3569e8" stroke-width="6.90"/>
<path d="M662.4 0h0" stroke="#e60080" stroke-width="6.90"/>
<path d="M565.3 -6.7h0M535.6 1h0M534.4 -3.8h0" stroke="#754fd1" stroke-width="6.90"/>
<path d="M532.8 -1.9h0M558.6 10.6h0M572.5 1.9h0M468.5 -1h0M534.7 1.9h0M538.7 -11.5h0M562.3 11.5h0" stroke="#007ef6" stroke-width="6.90"/>
<path d="M600.8 -1h0M700.6 0h0M633.1 -1.9h0M619.3 1.9h0M626.6 -1.9h0M627.1 0h0" stroke="#ff0051" stroke-width="6.90"/>
<path d="M593.5 -2.9h0M585.9 -1h0" stroke="#de0088" stroke-width="6.90"/>
<path d="M586.4 4.8h0M526.8 -7.7h0M610.8 0h0M642.2 0h0" stroke="#ee0077" stroke-width="6.90"/>
<path d="M536.9 8.6h0" stroke="#8245c8" stroke-width="6.90"/>
<path d="M564.5 4.8h0M597.7 -1h0M613.6 -1h0" stroke="#d40090" stroke-width="6.90"/>
<path d="M594.2 1h0M579.6 -2.9h0M602.8 1.9h0" stroke="#c90098" stroke-width="6.90"/>
<path d="M655.1 -1h0" stroke="#5161e1" stroke-width="6.90"/>
<path d="M569.6 5.8h0M575.4 2.9h0M561.3 14.4h0" stroke="#972cb3" stroke-width="6.90"/>
<path d="M599.2 1h0" stroke="#fa0064" stroke-width="6.90"/>
<path d="M533.3 1h0M548 1.9h0M556.3 9.6h0M519.3 4.8h0M561.7 -18.2h0M506 -1.9h0M560 16.3h0M514.7 -2.9h0M547 6.7h0M549.2 1h0M560.7 2.9h0M563.5 -12.5h0M523.5 1.9h0M536.3 10.6h0" stroke="#0085f9" stroke-width="6.90"/>
<path d="M552.5 -1h0" stroke="#a31eab" stroke-width="6.90"/>
<path d="M559.6 1.9h0M569 -12.5h0M569.1 2.9h0M550.2 1.9h0" stroke="#3569e8" stroke-width="6.90"/>
<path d="M535.9 -1h0M539.6 5.8h0M515.5 1h0" stroke="#007ef6" stroke-width="6.90"/>
<path d="M577.1 5.8h0M535.6 6.7h0M542.7 7.7h0M552 -9.6h0M561.6 7.7h0M582.8 -4.8h0" stroke="#0071ee" stroke-width="6.90"/>
<path d="M585.9 -5.8h0M585.9 -1.9h0" stroke="#de0088" stroke-width="6.90"/>
<path d="M565.3 11.5h0M571.6 6.7h0" stroke="#754fd1" stroke-width="6.90"/>
<path d="M547.7 -1h0" stroke="#6559da" stroke-width="6.90"/>
<path d="M552.5 -7.7h0M562.8 -1h0" stroke="#d40090" stroke-width="6.90"/>
<path d="M481.2 0h0M507.6 -2.9h0M505.1 1h0M553.8 -10.6h0M517.1 2.9h0M496 -1.9h0M466.5 -1h0M565.9 2.9h0M484.5 2.9h0M522.9 0h0M560.4 -17.3h0M560.1 9.6h0M552.4 -1.9h0M550.5 8.6h0M555.5 -10.6h0M599.5 -1.9h0M528.9 -1.9h0M543.9 -1h0M535.4 9.6h0M558.8 -13.4h0M542.8 -2.9h0M528.8 -4.8h0M570.3 0h0M508.5 1h0M455.2 -1h0" stroke="#008bfb" stroke-width="6.90"/>
<path d="M583.4 0h0" stroke="#bd009f" stroke-width="6.90"/>
<path d="M554.6 7.7h0M567.6 -4.8h0M551.4 -3.8h0M572.2 8.6h0M554 12.5h0M539.7 4.8h0M561.6 4.8h0M556.2 3.8h0M566.5 12.5h0M506.9 4.8h0M557.3 6.7h0M477.7 1.9h0M564.2 14.4h0M530.3 -2.9h0M556.1 1.9h0M546.2 -2.9h0M539.7 1.9h0M542.4 -7.7h0M523.9 4.8h0M514.6 -3.8h0M557 -14.4h0" stroke="#0085f9" stroke-width="6.90"/>
<path d="M553 -8.6h0M562.5 8.6h0" stroke="#e60080" stroke-width="6.90"/>
<path d="M579.6 1.9h0" stroke="#c90098" stroke-width="6.90"/>
<path d="M574.6 5.8h0M538.9 -1.9h0" stroke="#8d3abe" stroke-width="6.90"/>
<path d="M608 -1h0" stroke="#ff005b" stroke-width="6.90"/>
<path d="M563.3 5.8h0M569.6 10.6h0" stroke="#8245c8" stroke-width="6.90"/>
<path d="M578.4 -5.8h0" stroke="#b110a5" stroke-width="6.90"/>
<path d="M565.3 0h0M543.2 -5.8h0M565.6 -14.4h0" stroke="#0078f2" stroke-width="6.90"/>
<path d="M552.7 11.5h0M573.3 -1h0" stroke="#a31eab" stroke-width="6.90"/>
<path d="M612.3 2.9h0M606 1h0M545.7 2.9h0M599.8 2.9h0M631.7 1h0M656.3 1h0M637 -1h0M589.7 1h0M629.7 -1.9h0" stroke="#ff0051" stroke-width="6.90"/>
<path d="M586.7 -3.8h0M580.9 -1h0" stroke="#972cb3" stroke-width="6.90"/>
<path d="M575.9 7.7h0M571.6 -9.6h0" stroke="#5161e1" stroke-width="6.90"/>
<path d="M598.5 -2.9h0" stroke="#e60080" stroke-width="6.90"/>
<path d="M570.6 7.7h0M518.1 -4.8h0M533.4 0h0M517.9 5.8h0M516.8 1.9h0M512.3 -4.8h0M562.9 -10.6h0M559.3 13.4h0M569.5 1h0M537.9 -9.6h0M523.2 -3.8h0M568.1 -10.6h0M518.4 -1.9h0M509.9 2.9h0M508.5 -5.8h0M571.1 -3.8h0M501.2 3.8h0M553.9 13.4h0M538.6 2.9h0" stroke="#0085f9" stroke-width="6.90"/>
<path d="M579.6 6.7h0M559.5 1h0M537.6 -7.7h0M563.8 6.7h0" stroke="#6559da" stroke-width="6.90"/>
<path d="M657.1 0h0M473.5 -1h0M590.4 2.9h0" stroke="#972cb3" stroke-width="6.90"/>
<path d="M534.6 7.7h0M565.3 10.6h0M539.8 12.5h0M532.6 6.7h0M566.6 9.6h0M561.8 -12.5h0M603.5 0h0M568.5 -1.9h0M555.8 8.6h0" stroke="#007ef6" stroke-width="6.90"/>
<path d="M594.2 2.9h0" stroke="#ff005b" stroke-width="6.90"/>
<path d="M612.3 1.9h0M610.3 -1.9h0M610.9 1h0M648.1 0h0M653.2 -1h0M625.8 -2.9h0M709.6 0h0M608 2.9h0M608.7 -2.9h0M619.4 -1.9h0M619.2 -1h0" stroke="#ff0051" stroke-width="6.90"/>
<path d="M624.1 -1h0M416.2 0h0M525.8 -2.9h0M551.6 7.7h0M558.6 -1.9h0M556.5 -12.5h0M505.8 1.9h0M489.7 -1.9h0M566 3.8h0M531.3 5.8h0M544 2.9h0M498.5 1h0M556 -11.5h0M477 -2.9h0M526.3 6.7h0M571.8 8.6h0M522.1 -1h0M549 -1.9h0M550.5 1h0M545 3.8h0M554.5 -8.6h0M557.8 -5.8h0M559.9 -14.4h0" stroke="#008bfb" stroke-width="6.90"/>
<path d="M628.4 -2.9h0" stroke="#ee0077" stroke-width="6.90"/>
<path d="M447.4 0h0" stroke="#bd009f" stroke-width="6.90"/>
<path d="M559.5 -5.8h0M562 -11.5h0" stroke="#0071ee" stroke-width="6.90"/>
<path d="M539.4 3.8h0M489.9 1h0" stroke="#754fd1" stroke-width="6.90"/>
<path d="M572.1 4.8h0" stroke="#8d3abe" stroke-width="6.90"/>
<path d="M528.6 7.7h0" stroke="#3569e8" stroke-width="6.90"/>
<path d="M583.4 1.9h0M568.1 -1h0M498.9 0h0M573.7 -9.6h0M566.9 -13.4h0M547.7 0h0" stroke="#0078f2" stroke-width="6.90"/>
<path d="M579.6 1h0M598 1.9h0M590.4 -2.9h0" stroke="#de0088" stroke-width="6.90"/>
<path d="M591 -3.8h0" stroke="#c90098" stroke-width="6.90"/>
<path d="M534.4 3.8h0" stroke="#8245c8" stroke-width="6.90"/>
</g>
<g class="d" transform="translate(0 523.55) scale(1 1.130)">
<path d="M612.6 0h0" stroke="#e60080" stroke-width="6.90"/>
<path d="M565.2 -12.5h0" stroke="#d40090" stroke-width="6.90"/>
<path d="M565.1 -3.8h0" stroke="#c90098" stroke-width="6.90"/>
<path d="M559.6 7.2h0M545.7 5.3h0M557 1.4h0M559.7 -9.1h0M455.1 0h0" stroke="#8245c8" stroke-width="6.90"/>
<path d="M592.3 -1h0M664.7 0h0M568.1 -4.8h0M715.8 0h0M592 0.5h0M726.8 0h0M640.9 0.5h0" stroke="#ff0051" stroke-width="6.90"/>
<path d="M554.6 11.5h0M552.7 2.4h0M544.1 1.9h0M573.1 -0.5h0M549.6 3.8h0M554.2 8.6h0" stroke="#6559da" stroke-width="6.90"/>
<path d="M580.1 2.4h0M552.3 -11.5h0M558.8 18.2h0M537.8 -4.3h0" stroke="#0085f9" stroke-width="6.90"/>
<path d="M547.2 1.4h0M557.7 -3.8h0M567.7 -7.2h0M530.7 3.4h0M559.5 -1.9h0M534.7 -2.9h0M550.6 -8.6h0M532.6 -0.5h0M530 3.8h0M553.7 3.4h0M492.5 0h0M589.3 -0.5h0M515.1 0.5h0M501.4 0.5h0M564.8 -5.3h0M557.4 15.8h0M563 -0.5h0M579.8 -1.9h0M538.9 6.7h0M537.6 -3.4h0M554.8 -5.8h0M524.8 1.4h0M559.3 -17.3h0M535 -2.4h0M522.3 0h0M545.2 -6.7h0M545.8 -3.4h0M492 0.5h0M571.7 -1.4h0M551.8 3.4h0M545.3 -1.9h0M535 -5.3h0M546.8 -7.7h0M556.2 -2.9h0M555.7 0h0M571.9 4.3h0M567.1 -2.4h0" stroke="#008bfb" stroke-width="6.90"/>
<path d="M544.4 4.3h0M541.5 3.8h0M567.2 -5.8h0M564 -2.9h0" stroke="#8d3abe" stroke-width="6.90"/>
<path d="M562.5 9.1h0M558.2 -2.4h0" stroke="#5161e1" stroke-width="6.90"/>
<path d="M555 -8.6h0M548.6 4.3h0" stroke="#007ef6" stroke-width="6.90"/>
<path d="M559.1 10.6h0M551.8 5.3h0" stroke="#972cb3" stroke-width="6.90"/>
<path d="M548.6 0h0M561.4 -5.8h0" stroke="#0078f2" stroke-width="6.90"/>
<path d="M522.6 -1h0M558.6 14.4h0M555.2 -4.3h0" stroke="#a31eab" stroke-width="6.90"/>
<path d="M560.1 -4.3h0" stroke="#754fd1" stroke-width="6.90"/>
<path d="M566.7 3.8h0" stroke="#3569e8" stroke-width="6.90"/>
<path d="M541.4 4.8h0M556.2 1.4h0M568.9 -1.4h0M572.9 -5.3h0" stroke="#0071ee" stroke-width="6.90"/>
<path d="M742.7 0h0" stroke="#ee0077" stroke-width="6.90"/>
<path d="M571 -3.4h0" stroke="#b110a5" stroke-width="6.90"/>
<path d="M564.7 -13.9h0M567.6 3.4h0" stroke="#de0088" stroke-width="6.90"/>
<path d="M626.4 -0.5h0M564.7 -11h0M562.3 -4.8h0M547.3 6.7h0" stroke="#bd009f" stroke-width="6.90"/>
<path d="M558.9 -8.2h0M563 1.4h0" stroke="#0078f2" stroke-width="6.90"/>
<path d="M550.1 4.8h0M559 -18.7h0" stroke="#007ef6" stroke-width="6.90"/>
<path d="M611 0.5h0" stroke="#e60080" stroke-width="6.90"/>
<path d="M624.3 0h0" stroke="#fa0064" stroke-width="6.90"/>
<path d="M552.7 -10.1h0M563.5 13.4h0M553.9 -9.1h0M564.2 1h0M552.5 -4.8h0M547 2.9h0M552.5 1.9h0" stroke="#754fd1" stroke-width="6.90"/>
<path d="M578.6 -1.4h0M571.1 4.8h0M495.8 -0.5h0M571.6 1.9h0M718.5 -0.5h0M557.9 -10.1h0" stroke="#ff0051" stroke-width="6.90"/>
<path d="M548.6 -9.6h0M567.2 -1.9h0M546.4 0.5h0" stroke="#0071ee" stroke-width="6.90"/>
<path d="M547.6 -8.2h0" stroke="#8245c8" stroke-width="6.90"/>
<path d="M563.2 -6.7h0" stroke="#d40090" stroke-width="6.90"/>
<path d="M561.5 -1h0M563.1 -2.4h0M562.7 -13h0" stroke="#b110a5" stroke-width="6.90"/>
<path d="M556.9 13h0M559.8 5.3h0" stroke="#8d3abe" stroke-width="6.90"/>
<path d="M560 18.7h0M555.6 0.5h0" stroke="#bd009f" stroke-width="6.90"/>
<path d="M599.3 0h0M564.6 13h0M554.5 5.8h0" stroke="#972cb3" stroke-width="6.90"/>
<path d="M567.7 5.8h0M606 0h0M591 1h0" stroke="#de0088" stroke-width="6.90"/>
<path d="M560.2 16.3h0M550.2 -6.2h0M542.4 -2.9h0M560.1 -4.8h0M570.4 -2.9h0" stroke="#5161e1" stroke-width="6.90"/>
<path d="M512.8 -0.5h0" stroke="#0085f9" stroke-width="6.90"/>
<path d="M564.7 7.7h0M568.5 -3.8h0M540 0.5h0M566.2 5.3h0" stroke="#c90098" stroke-width="6.90"/>
<path d="M570.1 0h0M584.8 -1h0" stroke="#ff005b" stroke-width="6.90"/>
<path d="M507.1 0h0M554 9.6h0M568 2.4h0M560.4 6.7h0M464.1 -0.5h0M541 -0.5h0M550.2 5.8h0M521 -1.9h0M459.1 0h0M526.8 2.9h0M564.4 8.6h0M546.3 3.8h0M546.9 -2.4h0M559.3 -15.8h0M550 7.2h0M535.1 1.9h0M546.2 6.2h0M540.2 1h0M548.9 9.6h0M537.9 0.5h0M540.2 4.3h0M524.1 0.5h0M560 -13.9h0M556.8 -6.7h0M564.3 -9.6h0M530.9 -1h0M553.7 -13h0M503.2 0.5h0M548.6 1.4h0M545.7 -2.9h0M549.6 -7.2h0M533.3 -2.4h0M541.1 3.4h0M550.5 7.7h0M578.6 -3.4h0M560.5 1h0" stroke="#008bfb" stroke-width="6.90"/>
<path d="M560.9 12h0M542.6 -4.3h0M557.2 0h0" stroke="#6559da" stroke-width="6.90"/>
<path d="M561.3 -0.5h0M563.8 10.6h0M561.8 -6.2h0" stroke="#a31eab" stroke-width="6.90"/>
<path d="M560.5 16.8h0M543.1 -3.4h0" stroke="#8245c8" stroke-width="6.90"/>
<path d="M586.8 -1.9h0M529.3 -3.4h0M530.7 -1.4h0" stroke="#0078f2" stroke-width="6.90"/>
<path d="M596.5 -0.5h0M587.3 1.4h0M552.5 3.8h0M570.9 1.4h0M608.5 0h0M571.5 1h0" stroke="#d40090" stroke-width="6.90"/>
<path d="M540.8 -2.4h0M579.3 -2.4h0" stroke="#bd009f" stroke-width="6.90"/>
<path d="M520.1 0.5h0M539.1 -1h0M526.3 1.4h0M573.4 -1h0" stroke="#6559da" stroke-width="6.90"/>
<path d="M530.7 1.9h0M530.7 -2.9h0" stroke="#007ef6" stroke-width="6.90"/>
<path d="M547.3 -6.2h0M559 -2.9h0" stroke="#754fd1" stroke-width="6.90"/>
<path d="M560.8 2.4h0M528.1 -0.5h0M562.8 13.9h0" stroke="#3569e8" stroke-width="6.90"/>
<path d="M607.5 -0.5h0M535.2 1h0M568.8 4.8h0" stroke="#8d3abe" stroke-width="6.90"/>
<path d="M584.1 0h0" stroke="#e60080" stroke-width="6.90"/>
<path d="M561.5 -1.9h0M562 5.3h0M498.7 -0.5h0" stroke="#b110a5" stroke-width="6.90"/>
<path d="M562.7 -8.2h0M563.1 10.1h0" stroke="#c90098" stroke-width="6.90"/>
<path d="M570 1h0M611.7 0.5h0" stroke="#ee0077" stroke-width="6.90"/>
<path d="M549.1 -1.4h0M558.8 14.9h0M556.3 10.1h0M563.4 9.6h0" stroke="#0071ee" stroke-width="6.90"/>
<path d="M555.8 10.6h0M561.5 12h0M561.9 -8.6h0" stroke="#5161e1" stroke-width="6.90"/>
<path d="M620.2 0h0M585.1 1h0M592.3 0h0M573.7 0h0M588 0.5h0M576.6 -3.8h0M574.9 -2.4h0" stroke="#ff0051" stroke-width="6.90"/>
<path d="M560.7 -5.8h0M554.7 -11h0M493.6 0h0M554.9 1h0M555.2 -8.2h0M559.8 8.6h0M542.4 -5.3h0M501.9 1h0M501.4 -1h0M556 4.8h0M553.5 -0.5h0M555 -7.7h0M551.5 8.6h0M546.9 -3.8h0M355 0h0M559.9 -1.4h0M550.9 -8.2h0M551.8 -7.7h0M535.1 -1.9h0M482 0h0M539.8 2.9h0M548.8 1h0M563.6 -10.6h0M549.2 -0.5h0M583.6 0.5h0M570 -6.7h0M537.8 0h0M538.1 1.4h0M639.1 0h0M535.1 -1h0M567.1 6.2h0M546 2.4h0M558.8 -7.7h0" stroke="#008bfb" stroke-width="6.90"/>
<path d="M560.5 -14.4h0" stroke="#a31eab" stroke-width="6.90"/>
<path d="M569.2 6.7h0M567.4 -4.3h0" stroke="#de0088" stroke-width="6.90"/>
<path d="M578.6 3.4h0" stroke="#fa0064" stroke-width="6.90"/>
<path d="M558.8 11.5h0M557.4 -13.4h0M558 -16.8h0M564 0.5h0M576.1 1h0" stroke="#972cb3" stroke-width="6.90"/>
<path d="M561.1 -13h0M564.1 12.5h0M573.6 2.4h0M597.4 0h0" stroke="#de0088" stroke-width="6.90"/>
<path d="M532.5 -3.4h0M563 -10.1h0M549.4 -6.7h0M529.8 -3.8h0M552.7 -5.3h0M516.4 -1h0M556.4 7.2h0M490.9 -0.5h0M484.5 0h0M559.5 -7.2h0M551 -2.9h0M534.8 -1.4h0M570 -1h0M559.8 -12h0M560.1 10.1h0M533.8 -4.3h0M542.1 0h0M558.7 11h0M556.9 -11.5h0M540.1 -6.7h0M542.3 1.4h0M487.1 -0.5h0M515.1 -1h0M556.7 -6.7h0M540.5 2.4h0M535.7 3.4h0M357.5 0h0M564.9 0h0M367 0h0M540.3 -6.2h0M557.7 13.9h0M572.4 3.8h0M525.8 0.5h0M557.1 1.9h0M553.4 -10.6h0M541.7 -1.9h0M537.9 -4.8h0" stroke="#008bfb" stroke-width="6.90"/>
<path d="M582.5 1.4h0" stroke="#ff005b" stroke-width="6.90"/>
<path d="M498.7 0h0M530.6 1.4h0M579.3 2.9h0M547.2 -7.2h0" stroke="#3569e8" stroke-width="6.90"/>
<path d="M557.4 15.4h0M563.6 7.2h0" stroke="#5161e1" stroke-width="6.90"/>
<path d="M547.6 0h0M557.6 2.9h0M535.3 2.9h0" stroke="#0085f9" stroke-width="6.90"/>
<path d="M613.4 -0.5h0M574.9 0.5h0" stroke="#fa0064" stroke-width="6.90"/>
<path d="M547 -5.3h0M557.8 -18.2h0M564.8 4.8h0M549.9 1.9h0M560.6 17.3h0" stroke="#0078f2" stroke-width="6.90"/>
<path d="M565.8 3.8h0M557.1 -9.6h0M571.3 -4.8h0" stroke="#007ef6" stroke-width="6.90"/>
<path d="M541.2 -4.8h0" stroke="#8d3abe" stroke-width="6.90"/>
<path d="M560.5 -12.5h0" stroke="#b110a5" stroke-width="6.90"/>
<path d="M550.7 -5.3h0M552 -1h0" stroke="#6559da" stroke-width="6.90"/>
<path d="M555.1 -1.4h0" stroke="#c90098" stroke-width="6.90"/>
<path d="M552.7 -9.6h0M556.7 -12h0" stroke="#972cb3" stroke-width="6.90"/>
<path d="M529.5 1h0M554.2 7.7h0" stroke="#8245c8" stroke-width="6.90"/>
<path d="M528.8 -2.9h0M541.2 -3.8h0M557.3 4.8h0M569.1 -5.3h0M544.1 5.8h0M507.6 -1.4h0" stroke="#0071ee" stroke-width="6.90"/>
<path d="M576.1 -2.9h0M567.4 -2.9h0" stroke="#ee0077" stroke-width="6.90"/>
<path d="M559.5 -15.4h0M559.9 -6.2h0" stroke="#d40090" stroke-width="6.90"/>
<path d="M790.2 0h0M567.4 -3.4h0M617.4 -0.5h0M576.1 1.4h0M581.1 -2.4h0M559.9 3.4h0M645.3 0h0M524.1 -0.5h0M568.4 0.5h0M616.3 -1h0M578.6 0.5h0" stroke="#ff0051" stroke-width="6.90"/>
<path d="M532.1 4.3h0M537.9 4.8h0" stroke="#5161e1" stroke-width="6.90"/>
<path d="M517.6 -0.5h0M562.5 -13.4h0M508.9 -1h0M541.2 -1.4h0M546.4 8.2h0M528.3 -1.9h0M544.9 4.8h0M545.1 -5.8h0M526.2 -2.4h0M540.6 6.2h0M371.5 0h0M507.6 1h0M508.9 -0.5h0M486.5 0.5h0M564.6 -14.4h0M542.6 -5.8h0M558.9 -3.4h0M580.1 0h0M529.9 -1.9h0M553.5 4.3h0M552.9 -12.5h0M549.6 -5.8h0M543.5 -1.4h0M563.6 2.9h0M560 17.8h0M552.1 -3.8h0M556.2 9.1h0M554.5 -7.2h0M495.4 0.5h0M452.1 0h0M532.5 0h0M628.9 0h0M336.8 0h0M535.4 5.3h0M505.5 -0.5h0M517.6 0h0M421.7 0h0M543.2 -0.5h0" stroke="#008bfb" stroke-width="6.90"/>
<path d="M562.5 11.5h0M552.2 -2.4h0" stroke="#3569e8" stroke-width="6.90"/>
<path d="M550.7 -3.4h0M555.5 -6.2h0" stroke="#007ef6" stroke-width="6.90"/>
<path d="M604 -0.5h0M566.5 -6.2h0M563.5 -1.4h0M582.7 -1h0M567.9 1.9h0" stroke="#c90098" stroke-width="6.90"/>
<path d="M709.8 0h0M598 0.5h0" stroke="#f5006e" stroke-width="6.90"/>
<path d="M556.9 6.2h0" stroke="#fa0064" stroke-width="6.90"/>
<path d="M576.1 0h0" stroke="#ee0077" stroke-width="6.90"/>
<path d="M563 1.9h0" stroke="#bd009f" stroke-width="6.90"/>
<path d="M532.3 2.9h0M579.1 -1.9h0" stroke="#0085f9" stroke-width="6.90"/>
<path d="M554.4 12.5h0M547.3 -4.8h0M567.2 -0.5h0M557.8 -16.3h0" stroke="#8245c8" stroke-width="6.90"/>
<path d="M569 2.9h0" stroke="#8d3abe" stroke-width="6.90"/>
<path d="M561.6 8.2h0M559.7 -17.8h0M555 -1.9h0M543.9 -4.3h0M551.3 -1.9h0" stroke="#754fd1" stroke-width="6.90"/>
<path d="M573.5 -4.3h0" stroke="#0078f2" stroke-width="6.90"/>
<path d="M583.6 1.9h0M595.2 0.5h0" stroke="#972cb3" stroke-width="6.90"/>
<path d="M561.2 9.1h0" stroke="#d40090" stroke-width="6.90"/>
<path d="M549.7 -4.8h0M583 -0.5h0M528.6 1.9h0M641.8 -0.5h0M590.3 1.4h0M685.7 0h0M578.6 1.9h0M578.6 -0.5h0M561.2 5.8h0" stroke="#ff0051" stroke-width="6.90"/>
<path d="M535.8 -3.8h0" stroke="#a31eab" stroke-width="6.90"/>
<path d="M561.2 -5.3h0M648.3 0h0M549.1 0.5h0M572 3.4h0M553.2 -2.4h0M526.8 1h0" stroke="#b110a5" stroke-width="6.90"/>
<path d="M551.8 6.2h0" stroke="#0071ee" stroke-width="6.90"/>
<path d="M552.4 -3.4h0" stroke="#6559da" stroke-width="6.90"/>
<path d="M553 12h0M578.6 -1h0M573.3 2.9h0" stroke="#de0088" stroke-width="6.90"/>
<path d="M562.9 6.2h0M513.9 0h0" stroke="#754fd1" stroke-width="6.90"/>
<path d="M601 -0.5h0M562.8 -7.7h0M593.8 -1h0M560.2 9.6h0M535 3.8h0M563.4 -9.1h0" stroke="#c90098" stroke-width="6.90"/>
<path d="M604.8 0.5h0M525.8 2.4h0" stroke="#bd009f" stroke-width="6.90"/>
<path d="M579.1 2.4h0" stroke="#d40090" stroke-width="6.90"/>
<path d="M556.8 -14.9h0M563.7 -3.4h0M563.4 5.8h0M559.6 -10.6h0M556.8 8.2h0" stroke="#b110a5" stroke-width="6.90"/>
<path d="M551.6 2.9h0M558.1 4.3h0M562.6 3.4h0" stroke="#0078f2" stroke-width="6.90"/>
<path d="M559.6 -11h0M552 9.1h0M548.9 -9.1h0M547.9 8.2h0" stroke="#3569e8" stroke-width="6.90"/>
<path d="M544.7 7.7h0" stroke="#8d3abe" stroke-width="6.90"/>
<path d="M542 5.8h0M553.9 5.3h0M556.7 8.2h0M553.7 6.7h0" stroke="#6559da" stroke-width="6.90"/>
<path d="M621.8 -0.5h0" stroke="#ee0077" stroke-width="6.90"/>
<path d="M582.3 1h0" stroke="#f5006e" stroke-width="6.90"/>
<path d="M562.7 -12h0" stroke="#de0088" stroke-width="6.90"/>
<path d="M671 0h0M469 0h0M531.1 2.4h0M543.7 1h0M550.9 2.4h0M508.4 0.5h0M538.5 -0.5h0M551.1 6.7h0M586.6 -0.5h0M557.4 7.7h0M537.6 4.3h0M484 0.5h0M565.9 1.4h0M483.5 -0.5h0M616.9 0.5h0M563.7 -4.3h0M464.6 0h0M546.4 7.2h0M521.6 -1.4h0M574.3 -3.8h0M551.4 -4.3h0M505.4 0h0M527.3 -1.4h0M560.9 0.5h0M525 0h0M572.9 -1.9h0M546.9 -1h0M523.4 1h0M349.3 0h0M558.7 13.4h0M532.5 0.5h0M539.1 1.9h0M498.4 -1.4h0M444.9 0h0M559.2 -8.6h0M553.5 6.2h0M538.3 2.4h0M543 5.3h0" stroke="#008bfb" stroke-width="6.90"/>
<path d="M558.4 -1h0M553 -1h0" stroke="#0071ee" stroke-width="6.90"/>
<path d="M557 12.5h0M565.5 11h0M561.8 6.7h0M561.7 4.3h0" stroke="#8245c8" stroke-width="6.90"/>
<path d="M552.4 -3.8h0" stroke="#972cb3" stroke-width="6.90"/>
<path d="M579.6 -1.4h0M553.3 2.9h0" stroke="#007ef6" stroke-width="6.90"/>
<path d="M560.5 3.8h0M554.9 11h0M525.1 -1h0M565 2.4h0M563.6 -11.5h0" stroke="#a31eab" stroke-width="6.90"/>
<path d="M543.2 3.4h0" stroke="#0085f9" stroke-width="6.90"/>
<path d="M589 -1.4h0M679.3 0h0M600.8 -1h0M569.1 4.3h0M565.3 -7.2h0M744.1 -0.5h0M586.1 -1.4h0" stroke="#ff0051" stroke-width="6.90"/>
</g>
</svg>
</body></html>
